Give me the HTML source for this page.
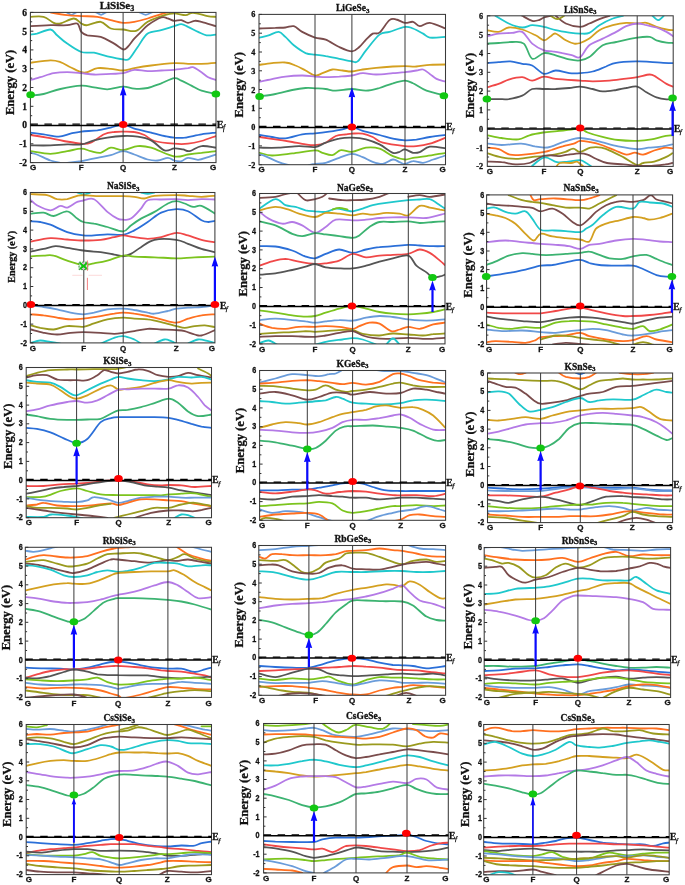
<!DOCTYPE html><html><head><meta charset="utf-8"><style>html,body{margin:0;padding:0;background:#fff;width:685px;height:885px;overflow:hidden}svg{display:block;will-change:transform}text{stroke:#111;stroke-width:0.3px}</style></head><body>
<svg width="685" height="885" viewBox="0 0 685 885">
<rect width="685" height="885" fill="#fff"/>
<clipPath id="cp1"><rect x="30.4" y="12.4" width="185.6" height="150.2"/></clipPath>
<g clip-path="url(#cp1)" fill="none" stroke-width="1.8" stroke-linejoin="round" stroke-linecap="round">
<path stroke="#6a9cda" d="M66.5 12.1C67.3 12.5 69.8 14.8 71.5 14.8C73.2 14.8 75.7 12.5 76.6 12.1"/>
<path stroke="#6a9cda" d="M95.7 12.1C96.6 12.5 99.3 14.8 101.1 14.8C102.9 14.8 105.5 12.5 106.4 12.1"/>
<path stroke="#6a9cda" d="M139 12.1C140.1 12.5 143.5 14.8 145.7 14.8C148 14.8 151.3 12.5 152.4 12.1"/>
<path stroke="#ff7020" d="M50.4 12.4C53.2 12.9 62 14.5 67.2 15.1C72.3 15.7 76.2 15.8 81.3 16.1C86.3 16.4 92.4 16.1 97.4 16.8C102.3 17.5 106.5 19.1 110.8 20.1C115.1 21.2 119.3 22.6 123.2 22.8C127.1 23.1 130.2 22.6 134.3 21.8C138.4 21.1 143.3 19.8 147.7 18.5C152.2 17.2 157.8 15.1 161.2 14.1C164.5 13.1 166.8 12.7 167.9 12.4"/>
<path stroke="#9a9a1e" d="M30.6 16.8C32.7 16.8 39.8 15.8 43.6 16.8C47.5 17.8 50.9 21.7 53.7 22.8C56.5 24 57.1 24.2 60.4 23.5C63.8 22.8 70.4 18.5 73.9 18.5C77.3 18.5 79 22.4 81.3 23.5C83.5 24.6 84.1 25.5 87.3 25.2C90.5 24.9 96.8 21.3 100.7 21.8C104.6 22.4 107.1 27.3 110.8 28.5C114.6 29.8 119 29.2 123.2 29.5C127.4 29.9 131.9 32.2 136 30.9C140.1 29.6 143 24.5 147.7 21.8C152.5 19.2 160.1 16.5 164.5 15.1C168.9 13.7 170.7 13.4 174.3 13.4C177.8 13.4 182.5 15.2 185.7 15.1C188.8 15 189.4 12.6 193.1 12.8C196.7 12.9 203.7 15.4 207.5 16.1C211.3 16.8 214.5 16.7 215.9 16.8"/>
<path stroke="#7a4c4c" d="M30.6 26.2C33.9 26 44.3 25.4 50.4 25.2C56.5 25 62.7 25.5 67.2 25.2C71.6 24.9 74.9 22.4 77.2 23.5C79.6 24.6 79.6 29.9 81.3 31.9C82.9 33.9 84.1 34.4 87.3 35.3C90.5 36.1 96.3 35.5 100.7 36.9C105.2 38.3 110.4 41.6 114.2 43.6C117.9 45.7 121 48.8 123.2 49.4C125.5 49.9 125.7 48.8 127.6 47C129.4 45.2 132.1 41.1 134.3 38.6C136.5 36.1 138.8 34.1 141 31.9C143.3 29.7 144.4 27.6 147.7 25.2C151.1 22.8 157.8 18.6 161.2 17.5C164.5 16.3 165.7 17.9 167.9 18.5C170.1 19 172 20.5 174.3 20.8C176.5 21.1 179 19.8 181.3 20.1C183.6 20.5 185.8 22.7 188 22.8C190.3 22.9 192.5 21 194.7 20.8C197 20.6 197.9 20.9 201.5 21.8C205 22.7 213.5 25.5 215.9 26.2"/>
<path stroke="#1fc8cc" d="M30.6 34.6C31.6 34.4 33.6 34.4 36.9 33.6C40.2 32.7 47 29.3 50.4 29.5C53.7 29.8 54.3 32.9 57.1 35.3C59.9 37.6 63.1 40.9 67.2 43.6C71.2 46.4 76.8 50.5 81.3 52C85.7 53.6 89.6 52 94 52.7C98.4 53.4 102.6 55.3 107.4 56.4C112.3 57.5 119.6 59 123.2 59.4C126.9 59.8 126.9 60.8 129.3 58.8C131.7 56.7 134.6 51.2 137.7 47C140.7 42.8 143.8 36.4 147.7 33.6C151.7 30.8 156.7 31.5 161.2 30.2C165.6 29 170.9 27.2 174.3 26.2C177.6 25.2 179 24.1 181.3 24.2C183.6 24.3 185.2 25.6 188 26.9C190.8 28.1 195 30.5 198.1 31.9C201.2 33.3 203.5 34.8 206.5 35.3C209.5 35.7 214.3 34.7 215.9 34.6"/>
<path stroke="#d4a020" d="M30.6 62.8C33.9 62.4 45.4 60.5 50.4 60.4C55.3 60.3 57.1 61 60.4 62.1C63.8 63.2 67 65.5 70.5 67.2C74 68.8 78.5 71.4 81.3 72.2C84.1 73 84.6 72.9 87.3 72.2C90 71.5 93.5 68.7 97.4 68.2C101.3 67.6 106.5 68.4 110.8 68.8C115.1 69.2 119.3 70.6 123.2 70.5C127.1 70.4 129.7 69 134.3 68.2C139 67.3 144.4 66.3 151.1 65.5C157.8 64.6 168.1 63.4 174.3 63.1C180.4 62.8 183.5 63.7 188 63.8C192.6 63.9 196.8 64 201.5 63.8C206.1 63.6 213.5 63 215.9 62.8"/>
<path stroke="#b47ae6" d="M30.6 79.9C32.2 79.5 36.4 78.3 40.3 77.2C44.2 76.1 49.2 74 53.7 73.2C58.2 72.4 62.6 72.2 67.2 72.2C71.7 72.2 76.8 72.8 81.3 73.2C85.7 73.6 89.1 74.4 94 74.5C98.9 74.7 105.9 74.1 110.8 73.9C115.7 73.6 119.3 73.9 123.2 73.2C127.1 72.5 130.2 70.2 134.3 69.8C138.4 69.5 143.3 71.1 147.7 71.2C152.2 71.3 156.7 70.7 161.2 70.5C165.6 70.3 169.8 70.2 174.3 69.8C178.7 69.4 184.9 68.6 188 68.2C191.2 67.7 190.8 66.5 193.1 67.2C195.3 67.8 198.9 70.5 201.5 72.2C204 73.9 205.8 75.9 208.2 77.2C210.6 78.5 214.6 79.5 215.9 79.9"/>
<path stroke="#3cb371" d="M30.6 95.7C32.7 95.4 38.7 95.1 43.6 94C48.6 92.9 54.2 90.4 60.4 89C66.7 87.6 75.7 85.9 81.3 85.6C86.9 85.3 89.6 86.7 94 87.3C98.4 87.9 102.6 89.4 107.4 89.3C112.3 89.2 118.7 86.7 123.2 86.6C127.7 86.5 130.2 88.4 134.3 88.6C138.4 88.9 143.3 88.9 147.7 88C152.2 87.1 156.7 84.9 161.2 83.3C165.6 81.6 170.9 78.7 174.3 78.2C177.6 77.8 178.5 79.4 181.3 80.6C184.2 81.8 188 83.9 191.4 85.6C194.7 87.3 197.4 89.3 201.5 90.7C205.5 92.1 213.5 93.5 215.9 94"/>
<path stroke="#2b6fd8" d="M30.6 132.6C32.7 132.9 38.9 133.6 43.6 134.3C48.4 135 54.3 136.8 58.8 136.7C63.2 136.5 66.8 134.5 70.5 133.6C74.3 132.8 76.8 132.2 81.3 131.6C85.7 131.1 92.4 130.9 97.4 130.3C102.3 129.6 106.5 128.5 110.8 127.6C115.1 126.6 119.3 124.4 123.2 124.6C127.1 124.7 129.7 127.3 134.3 128.6C139 129.9 146.1 131.4 151.1 132.6C156.1 133.9 160.7 135.1 164.5 136C168.4 136.8 170.9 137.4 174.3 137.7C177.6 137.9 180.1 138.2 184.7 137.7C189.2 137.1 196.3 135.1 201.5 134.3C206.7 133.5 213.5 132.9 215.9 132.6"/>
<path stroke="#f04848" d="M30.6 135C33.3 135.4 41.5 136.7 47 137.7C52.5 138.7 58.1 140 63.8 141C69.5 142 76.8 143.4 81.3 143.7C85.7 144 86.9 144.3 90.7 142.7C94.5 141.1 100.2 136.1 104.1 134.3C108 132.5 111 132.4 114.2 132C117.4 131.5 119.9 131.6 123.2 131.6C126.6 131.6 130.8 131.4 134.3 132C137.8 132.5 141 133.5 144.4 135C147.7 136.5 149.5 139.6 154.5 141C159.4 142.5 168.7 143.3 174.3 143.7C179.9 144.2 183.5 144.2 188 143.7C192.6 143.3 196.8 142.3 201.5 141C206.1 139.7 213.5 136.8 215.9 136"/>
<path stroke="#555555" d="M30.6 145.4C33.9 145.4 44.3 145.6 50.4 145.4C56.5 145.2 62 144.5 67.2 144.4C72.3 144.2 76.8 145.1 81.3 144.4C85.7 143.7 89.6 141.5 94 140.4C98.4 139.2 102.6 138.4 107.4 137.7C112.3 136.9 118.2 136.2 123.2 136C128.3 135.8 133 135.9 137.7 136.7C142.3 137.4 146.6 138.1 151.1 140.4C155.6 142.6 160.7 149.1 164.5 150.4C168.4 151.8 171.2 148.6 174.3 148.4C177.3 148.2 180.4 149 183 149.4C185.6 149.9 186.6 151.7 189.7 151.1C192.8 150.5 197.1 146.6 201.5 146.1C205.8 145.5 213.5 147.5 215.9 147.7"/>
<path stroke="#7cc41e" d="M30.6 151.1C33.9 151.5 44.3 153.8 50.4 153.8C56.5 153.8 62 151.9 67.2 151.1C72.3 150.3 77.3 148.7 81.3 148.7C85.2 148.7 87.4 150.4 90.7 151.1C93.9 151.8 97.4 153.3 100.7 152.8C104.1 152.2 107.1 148.2 110.8 147.7C114.6 147.3 118.7 150.4 123.2 150.1C127.7 149.8 133 146.5 137.7 146.1C142.3 145.7 145 146 151.1 147.7C157.2 149.5 168.1 155.3 174.3 156.5C180.4 157.6 183.5 155.1 188 154.5C192.6 153.8 196.8 153.3 201.5 152.8C206.1 152.2 213.5 151.4 215.9 151.1"/>
<path stroke="#6a9cda" d="M30.6 152.8C31.6 153.1 33.6 153.2 36.9 154.5C40.2 155.7 46.4 159.1 50.4 160.5C54.3 161.9 58.8 162.5 60.4 162.8"/>
<path stroke="#6a9cda" d="M67.2 162.8C69.5 162.6 76.2 162 81.3 161.2C86.3 160.3 92.4 158.8 97.4 157.8C102.3 156.8 106.5 156.2 110.8 155.1C115.1 154 119.3 151.2 123.2 151.1C127.1 151 130.2 153.1 134.3 154.5C138.4 155.9 143.8 158.5 147.7 159.5C151.7 160.5 154.5 160.8 157.8 160.5C161.2 160.2 165.1 157.8 167.9 157.8C170.6 157.8 172 159.9 174.3 160.5C176.5 161.1 179 161.6 181.3 161.2C183.6 160.7 185.2 158 188 157.8C190.8 157.6 194.7 159.9 198.1 159.8C201.5 159.7 205.2 158 208.2 157.1C211.1 156.2 214.6 154.9 215.9 154.5"/>
</g>
<line x1="81.2" y1="12.4" x2="81.2" y2="162.6" stroke="#3a3a3a" stroke-width="1"/>
<line x1="123.1" y1="12.4" x2="123.1" y2="162.6" stroke="#3a3a3a" stroke-width="1"/>
<line x1="174.5" y1="12.4" x2="174.5" y2="162.6" stroke="#3a3a3a" stroke-width="1"/>
<rect x="30.4" y="12.4" width="185.6" height="150.2" fill="none" stroke="#3a3a3a" stroke-width="1.05"/>
<line x1="30.4" y1="162.6" x2="33.4" y2="162.6" stroke="#333" stroke-width="1"/>
<line x1="30.4" y1="153.2" x2="32.2" y2="153.2" stroke="#333" stroke-width="1"/>
<line x1="30.4" y1="143.8" x2="33.4" y2="143.8" stroke="#333" stroke-width="1"/>
<line x1="30.4" y1="134.4" x2="32.2" y2="134.4" stroke="#333" stroke-width="1"/>
<line x1="30.4" y1="125" x2="33.4" y2="125" stroke="#333" stroke-width="1"/>
<line x1="30.4" y1="115.7" x2="32.2" y2="115.7" stroke="#333" stroke-width="1"/>
<line x1="30.4" y1="106.3" x2="33.4" y2="106.3" stroke="#333" stroke-width="1"/>
<line x1="30.4" y1="96.9" x2="32.2" y2="96.9" stroke="#333" stroke-width="1"/>
<line x1="30.4" y1="87.5" x2="33.4" y2="87.5" stroke="#333" stroke-width="1"/>
<line x1="30.4" y1="78.1" x2="32.2" y2="78.1" stroke="#333" stroke-width="1"/>
<line x1="30.4" y1="68.7" x2="33.4" y2="68.7" stroke="#333" stroke-width="1"/>
<line x1="30.4" y1="59.3" x2="32.2" y2="59.3" stroke="#333" stroke-width="1"/>
<line x1="30.4" y1="49.9" x2="33.4" y2="49.9" stroke="#333" stroke-width="1"/>
<line x1="30.4" y1="40.6" x2="32.2" y2="40.6" stroke="#333" stroke-width="1"/>
<line x1="30.4" y1="31.2" x2="33.4" y2="31.2" stroke="#333" stroke-width="1"/>
<line x1="30.4" y1="21.8" x2="32.2" y2="21.8" stroke="#333" stroke-width="1"/>
<line x1="30.4" y1="12.4" x2="33.4" y2="12.4" stroke="#333" stroke-width="1"/>
<line x1="30.4" y1="125.5" x2="216" y2="125.5" stroke="#000" stroke-width="1.7"/>
<line x1="30.4" y1="124.1" x2="216" y2="124.1" stroke="#000" stroke-width="1.3" stroke-dasharray="7.5 6.5"/>
<line x1="123.2" y1="124.6" x2="123.2" y2="94.6" stroke="#0a0aff" stroke-width="2.2"/>
<path d="M123.2 85.6 L119.9 95.6 L123.2 95 L126.5 95.6 Z" fill="#0a0aff"/>
<ellipse cx="30.6" cy="94.7" rx="4.3" ry="3.5" fill="#11c811"/>
<ellipse cx="215.9" cy="94" rx="4.3" ry="3.5" fill="#11c811"/>
<ellipse cx="123.2" cy="124.6" rx="4.3" ry="3.5" fill="#f00"/>
<text x="117" y="8.5" font-family="Liberation Serif" font-weight="bold" font-size="11" text-anchor="middle" fill="#111">LiSiSe<tspan font-size="8.1" dy="2">3</tspan></text>
<text transform="translate(13.8 82.4) rotate(-90)" font-family="Liberation Serif" font-weight="bold" font-size="12.6" text-anchor="middle" fill="#111">Energy (eV)</text>
<text transform="translate(27.1 165.9) scale(1 1)" font-family="Liberation Serif" font-weight="bold" font-size="9.5" text-anchor="end" fill="#111">-2</text>
<text transform="translate(27.1 147.1) scale(1 1)" font-family="Liberation Serif" font-weight="bold" font-size="9.5" text-anchor="end" fill="#111">-1</text>
<text transform="translate(27.1 128.3) scale(1 1)" font-family="Liberation Serif" font-weight="bold" font-size="9.5" text-anchor="end" fill="#111">0</text>
<text transform="translate(27.1 109.6) scale(1 1)" font-family="Liberation Serif" font-weight="bold" font-size="9.5" text-anchor="end" fill="#111">1</text>
<text transform="translate(27.1 90.8) scale(1 1)" font-family="Liberation Serif" font-weight="bold" font-size="9.5" text-anchor="end" fill="#111">2</text>
<text transform="translate(27.1 72) scale(1 1)" font-family="Liberation Serif" font-weight="bold" font-size="9.5" text-anchor="end" fill="#111">3</text>
<text transform="translate(27.1 53.2) scale(1 1)" font-family="Liberation Serif" font-weight="bold" font-size="9.5" text-anchor="end" fill="#111">4</text>
<text transform="translate(27.1 34.5) scale(1 1)" font-family="Liberation Serif" font-weight="bold" font-size="9.5" text-anchor="end" fill="#111">5</text>
<text transform="translate(27.1 15.7) scale(1 1)" font-family="Liberation Serif" font-weight="bold" font-size="9.5" text-anchor="end" fill="#111">6</text>
<text x="33" y="170.3" font-family="Liberation Sans" font-weight="bold" font-size="8" text-anchor="middle" fill="#111">G</text>
<text x="81.2" y="170.3" font-family="Liberation Sans" font-weight="bold" font-size="8" text-anchor="middle" fill="#111">F</text>
<text x="123.1" y="170.3" font-family="Liberation Sans" font-weight="bold" font-size="8" text-anchor="middle" fill="#111">Q</text>
<text x="174.5" y="170.3" font-family="Liberation Sans" font-weight="bold" font-size="8" text-anchor="middle" fill="#111">Z</text>
<text x="213" y="170.3" font-family="Liberation Sans" font-weight="bold" font-size="8" text-anchor="middle" fill="#111">G</text>
<text x="216.7" y="128.2" font-family="Liberation Serif" font-weight="bold" font-size="10" fill="#111">E<tspan dx="-0.4" font-weight="normal" font-style="italic" font-size="7.4" dy="2.2">f</tspan></text>
<clipPath id="cp2"><rect x="259" y="14.4" width="186.5" height="150.3"/></clipPath>
<g clip-path="url(#cp2)" fill="none" stroke-width="1.8" stroke-linejoin="round" stroke-linecap="round">
<path stroke="#7a4c4c" d="M259.6 28.5C262.2 28.4 271.1 28 275.4 27.9C279.7 27.7 282.4 27.8 285.4 27.5C288.5 27.3 291 25.5 293.8 26.2C296.6 26.9 298.7 30 302.2 31.9C305.8 33.8 311.1 36.3 315 37.6C318.9 38.9 321.7 38.1 325.7 39.6C329.8 41.2 334.8 45 339.2 47C343.5 49 348.6 51.4 351.9 51.4C355.3 51.4 357 49 359.3 47C361.7 45 363.8 41.9 366 39.6C368.3 37.4 370.5 34.8 372.7 33.6C375 32.4 376.7 34.8 379.5 32.6C382.3 30.3 386.7 22.3 389.5 20.1C392.3 18 393.7 19 396.2 19.5C398.8 19.9 402.2 22.4 405 22.8C407.8 23.2 410.6 21.3 413 21.8C415.5 22.4 416.9 26 419.7 26.2C422.5 26.4 425.5 22.4 429.8 22.8C434.1 23.2 443 27.6 445.6 28.5"/>
<path stroke="#1fc8cc" d="M259.6 37.6C261.1 37.2 265.5 36.2 268.6 35.3C271.8 34.3 275.9 31.6 278.7 31.9C281.5 32.2 282.9 34.7 285.4 36.9C288 39.2 290.5 42.6 293.8 45.3C297.2 48 302.1 51.5 305.6 53.1C309.1 54.6 311.6 54.2 315 54.7C318.3 55.2 321.7 55.4 325.7 56.1C329.8 56.7 334.8 57.9 339.2 58.8C343.5 59.7 348.8 61 351.9 61.4C355 61.9 355.3 63.3 357.6 61.4C360 59.6 362.4 54.8 366 50.4C369.7 45.9 375.5 37.7 379.5 34.6C383.4 31.5 385.3 33.2 389.5 31.9C393.8 30.6 401.1 27.4 405 26.9C408.9 26.3 410 27.4 413 28.5C416.1 29.7 420.3 32.1 423.1 33.6C425.9 35.1 426.1 37 429.8 37.6C433.6 38.2 443 37 445.6 36.9"/>
<path stroke="#d4a020" d="M259.6 64.8C261.7 64.5 267.7 63.5 272 63.1C276.3 62.7 281.5 62.1 285.4 62.5C289.4 62.8 292.2 64.1 295.5 65.5C298.9 66.8 302.3 68.8 305.6 70.5C308.8 72.2 312.2 75.1 315 75.5C317.8 76 319.5 74.2 322.4 73.2C325.3 72.2 329.1 70 332.4 69.5C335.8 69.1 339.3 70.2 342.5 70.5C345.8 70.8 348.6 71.7 351.9 71.5C355.3 71.4 358.6 70.1 362.7 69.5C366.7 68.9 371.1 68.3 376.1 67.8C381.1 67.3 388.1 66.8 392.9 66.5C397.7 66.2 401.1 66.1 405 66.1C408.9 66.1 412.2 66.7 416.4 66.5C420.5 66.3 424.9 65.1 429.8 64.8C434.7 64.5 443 64.5 445.6 64.5"/>
<path stroke="#b47ae6" d="M259.6 81.6C261.7 81.2 267.7 80.1 272 79.2C276.3 78.4 280.4 77.2 285.4 76.6C290.5 75.9 297.3 75.5 302.2 75.5C307.2 75.5 311.1 76.3 315 76.6C318.9 76.8 321.7 77.2 325.7 77.2C329.8 77.2 334.8 76.8 339.2 76.6C343.5 76.3 348 76.1 351.9 75.5C355.8 75 358.6 73.4 362.7 73.2C366.7 73 371.1 74.5 376.1 74.5C381.1 74.5 388.1 73.6 392.9 73.2C397.7 72.8 401.1 72.6 405 72.2C408.9 71.7 413.4 71 416.4 70.5C419.4 70.1 420.9 68.9 423.1 69.5C425.3 70.1 427.6 72.3 429.8 73.9C432.1 75.4 433.9 77.6 436.5 78.9C439.2 80.2 444.1 81.1 445.6 81.6"/>
<path stroke="#3cb371" d="M259.6 96.4C262.2 96 269.9 95.1 275.4 94C280.8 93 287.1 91 292.2 90C297.2 89 301.8 88.3 305.6 88C309.4 87.7 311.6 88.1 315 88.3C318.3 88.5 322.3 88.6 325.7 89C329.2 89.4 331.4 90.7 335.8 90.7C340.2 90.7 346.9 89 351.9 89C357 89 361.4 90.8 366 90.7C370.6 90.5 375 89.2 379.5 88C383.9 86.7 388.6 84.5 392.9 83.3C397.1 82 401.6 80.6 405 80.6C408.3 80.6 409.4 81.6 413 83.3C416.6 84.9 421 88.6 426.5 90.7C431.9 92.7 442.4 94.9 445.6 95.7"/>
<path stroke="#2b6fd8" d="M259.6 135C261.7 135.3 267.7 136.4 272 137C276.3 137.6 280.4 138.8 285.4 138.3C290.5 137.9 297.3 135.1 302.2 134.3C307.2 133.5 310.5 133.7 315 133.3C319.5 132.9 324.5 132.3 329.1 131.6C333.7 130.9 338.7 130.1 342.5 129.3C346.3 128.5 348.6 126.6 351.9 126.9C355.3 127.2 358.1 129.6 362.7 130.9C367.3 132.3 374.4 133.7 379.5 135C384.5 136.3 388.6 137.8 392.9 138.7C397.1 139.6 401.1 140.2 405 140.4C408.9 140.5 412.2 140.2 416.4 139.7C420.5 139.1 424.9 137.8 429.8 137C434.7 136.2 443 135.3 445.6 135"/>
<path stroke="#f04848" d="M259.6 137C262.2 137.4 269.9 138.5 275.4 139.3C280.8 140.2 287.1 141.2 292.2 142C297.2 142.9 301.8 143.9 305.6 144.4C309.4 144.9 311.6 145.3 315 145.1C318.3 144.8 322.3 144.2 325.7 142.7C329.2 141.2 332.4 137.4 335.8 136C339.2 134.6 343.2 134.7 345.9 134.3C348.6 133.9 349.1 133.7 351.9 133.6C354.7 133.5 359.2 133.1 362.7 133.6C366.1 134.2 369.4 135.5 372.7 137C376.1 138.5 377.4 141.2 382.8 142.7C388.2 144.2 399.4 145.5 405 146.1C410.6 146.6 412.2 146.5 416.4 146.1C420.5 145.7 424.9 145.1 429.8 143.7C434.7 142.3 443 138.7 445.6 137.7"/>
<path stroke="#555555" d="M259.6 147.7C262.8 147.7 272.2 148 278.7 147.7C285.3 147.5 292.8 146.2 298.9 146.1C304.9 145.9 310.5 147.6 315 147.1C319.5 146.5 321.7 144.1 325.7 142.7C329.8 141.3 334.8 139.5 339.2 138.7C343.5 137.8 347.4 137.6 351.9 137.7C356.4 137.8 361.4 138.2 366 139.3C370.6 140.5 375 142.1 379.5 144.4C383.9 146.6 389.5 151.5 392.9 152.8C396.2 154 397.6 152.3 399.6 151.8C401.6 151.2 402.7 149.2 405 149.4C407.2 149.6 410.6 152.3 413 152.8C415.5 153.2 416.9 153.1 419.7 152.1C422.5 151.1 425.5 147.3 429.8 146.7C434.1 146.1 443 148.1 445.6 148.4"/>
<path stroke="#7cc41e" d="M259.6 152.8C261.7 153.2 266.6 155.3 272 155.5C277.4 155.6 285 154.3 292.2 153.4C299.3 152.6 309.9 150.5 315 150.4C320 150.3 319.5 152 322.4 152.8C325.3 153.6 329.4 155.6 332.4 155.1C335.5 154.7 337.6 150.6 340.8 150.1C344.1 149.5 347.7 152.2 351.9 151.8C356.1 151.4 361.4 148.2 366 147.7C370.6 147.2 375 147.3 379.5 148.7C383.9 150.1 388.6 154.3 392.9 156.1C397.1 157.9 401.6 159.2 405 159.5C408.3 159.8 409.4 158.4 413 157.8C416.6 157.3 421 157 426.5 156.1C431.9 155.3 442.4 153.3 445.6 152.8"/>
<path stroke="#6a9cda" d="M259.6 154.5C260.5 154.7 262.1 154.8 265.3 156.1C268.5 157.4 274.8 160.7 278.7 162.2C282.6 163.7 287.1 164.7 288.8 165.2"/>
<path stroke="#6a9cda" d="M308.9 165.2C309.9 165 312.2 164.2 315 163.9C317.8 163.5 321.7 163.9 325.7 162.8C329.8 161.8 334.8 159.3 339.2 157.8C343.5 156.3 348 153.9 351.9 153.8C355.8 153.7 359.2 155.8 362.7 157.1C366.1 158.5 369.4 160.7 372.7 161.8C376.1 163 379.5 164.2 382.8 163.9C386.2 163.5 390.1 159.8 392.9 159.5C395.7 159.2 397.6 161.4 399.6 162.2C401.6 162.9 402.7 164 405 163.9C407.2 163.7 410 161.3 413 161.2C416.1 161 419.7 163.1 423.1 162.8C426.5 162.6 429.4 160.7 433.2 159.5C436.9 158.3 443.5 156.1 445.6 155.5"/>
</g>
<line x1="315" y1="14.4" x2="315" y2="164.7" stroke="#3a3a3a" stroke-width="1"/>
<line x1="351.9" y1="14.4" x2="351.9" y2="164.7" stroke="#3a3a3a" stroke-width="1"/>
<line x1="405" y1="14.4" x2="405" y2="164.7" stroke="#3a3a3a" stroke-width="1"/>
<rect x="259" y="14.4" width="186.5" height="150.3" fill="none" stroke="#3a3a3a" stroke-width="1.05"/>
<line x1="259" y1="164.7" x2="262" y2="164.7" stroke="#333" stroke-width="1"/>
<line x1="259" y1="155.3" x2="260.8" y2="155.3" stroke="#333" stroke-width="1"/>
<line x1="259" y1="145.9" x2="262" y2="145.9" stroke="#333" stroke-width="1"/>
<line x1="259" y1="136.5" x2="260.8" y2="136.5" stroke="#333" stroke-width="1"/>
<line x1="259" y1="127.1" x2="262" y2="127.1" stroke="#333" stroke-width="1"/>
<line x1="259" y1="117.7" x2="260.8" y2="117.7" stroke="#333" stroke-width="1"/>
<line x1="259" y1="108.3" x2="262" y2="108.3" stroke="#333" stroke-width="1"/>
<line x1="259" y1="98.9" x2="260.8" y2="98.9" stroke="#333" stroke-width="1"/>
<line x1="259" y1="89.5" x2="262" y2="89.5" stroke="#333" stroke-width="1"/>
<line x1="259" y1="80.2" x2="260.8" y2="80.2" stroke="#333" stroke-width="1"/>
<line x1="259" y1="70.8" x2="262" y2="70.8" stroke="#333" stroke-width="1"/>
<line x1="259" y1="61.4" x2="260.8" y2="61.4" stroke="#333" stroke-width="1"/>
<line x1="259" y1="52" x2="262" y2="52" stroke="#333" stroke-width="1"/>
<line x1="259" y1="42.6" x2="260.8" y2="42.6" stroke="#333" stroke-width="1"/>
<line x1="259" y1="33.2" x2="262" y2="33.2" stroke="#333" stroke-width="1"/>
<line x1="259" y1="23.8" x2="260.8" y2="23.8" stroke="#333" stroke-width="1"/>
<line x1="259" y1="14.4" x2="262" y2="14.4" stroke="#333" stroke-width="1"/>
<line x1="259" y1="127.4" x2="445.5" y2="127.4" stroke="#000" stroke-width="1.5"/>
<line x1="259" y1="126.4" x2="445.5" y2="126.4" stroke="#000" stroke-width="1.2" stroke-dasharray="7.5 6.5"/>
<line x1="351.9" y1="126.9" x2="351.9" y2="96.3" stroke="#0a0aff" stroke-width="2.2"/>
<path d="M351.9 87.3 L348.6 97.3 L351.9 96.7 L355.2 97.3 Z" fill="#0a0aff"/>
<ellipse cx="259.6" cy="96.4" rx="4.3" ry="3.5" fill="#11c811"/>
<ellipse cx="443.9" cy="95.7" rx="4.3" ry="3.5" fill="#11c811"/>
<ellipse cx="351.9" cy="126.9" rx="4.3" ry="3.5" fill="#f00"/>
<text x="352.8" y="11.3" font-family="Liberation Serif" font-weight="bold" font-size="9.5" text-anchor="middle" fill="#111">LiGeSe<tspan font-size="7" dy="1.7">3</tspan></text>
<text transform="translate(242.9 84.7) rotate(-90)" font-family="Liberation Serif" font-weight="bold" font-size="12.6" text-anchor="middle" fill="#111">Energy (eV)</text>
<text transform="translate(255.4 167.6) scale(1 1)" font-family="Liberation Serif" font-weight="bold" font-size="8.2" text-anchor="end" fill="#111">-2</text>
<text transform="translate(255.4 148.8) scale(1 1)" font-family="Liberation Serif" font-weight="bold" font-size="8.2" text-anchor="end" fill="#111">-1</text>
<text transform="translate(255.4 130) scale(1 1)" font-family="Liberation Serif" font-weight="bold" font-size="8.2" text-anchor="end" fill="#111">0</text>
<text transform="translate(255.4 111.2) scale(1 1)" font-family="Liberation Serif" font-weight="bold" font-size="8.2" text-anchor="end" fill="#111">1</text>
<text transform="translate(255.4 92.5) scale(1 1)" font-family="Liberation Serif" font-weight="bold" font-size="8.2" text-anchor="end" fill="#111">2</text>
<text transform="translate(255.4 73.7) scale(1 1)" font-family="Liberation Serif" font-weight="bold" font-size="8.2" text-anchor="end" fill="#111">3</text>
<text transform="translate(255.4 54.9) scale(1 1)" font-family="Liberation Serif" font-weight="bold" font-size="8.2" text-anchor="end" fill="#111">4</text>
<text transform="translate(255.4 36.1) scale(1 1)" font-family="Liberation Serif" font-weight="bold" font-size="8.2" text-anchor="end" fill="#111">5</text>
<text transform="translate(255.4 17.3) scale(1 1)" font-family="Liberation Serif" font-weight="bold" font-size="8.2" text-anchor="end" fill="#111">6</text>
<text x="261.6" y="172.3" font-family="Liberation Sans" font-weight="bold" font-size="8" text-anchor="middle" fill="#111">G</text>
<text x="315" y="172.3" font-family="Liberation Sans" font-weight="bold" font-size="8" text-anchor="middle" fill="#111">F</text>
<text x="351.9" y="172.3" font-family="Liberation Sans" font-weight="bold" font-size="8" text-anchor="middle" fill="#111">Q</text>
<text x="405" y="172.3" font-family="Liberation Sans" font-weight="bold" font-size="8" text-anchor="middle" fill="#111">Z</text>
<text x="442.5" y="172.3" font-family="Liberation Sans" font-weight="bold" font-size="8" text-anchor="middle" fill="#111">G</text>
<text x="446.2" y="130.3" font-family="Liberation Serif" font-weight="bold" font-size="9.5" fill="#111">E<tspan dx="-0.4" font-weight="normal" font-style="italic" font-size="7" dy="2.2">f</tspan></text>
<clipPath id="cp3"><rect x="487.3" y="15.8" width="185.9" height="150.6"/></clipPath>
<g clip-path="url(#cp3)" fill="none" stroke-width="1.8" stroke-linejoin="round" stroke-linecap="round">
<path stroke="#1fc8cc" d="M495.3 15.8C497.5 17.1 504.2 21.5 508.7 23.5C513.2 25.5 518.2 27.3 522.2 27.5C526.1 27.8 528.6 25.3 532.2 25.2C535.9 25.1 540.1 26 544 26.9C547.9 27.7 551.5 29.3 555.7 30.2C559.9 31.2 565.1 32 569.2 32.6C573.2 33.1 576.9 33.5 580.2 33.6C583.6 33.6 586.1 34.3 589.3 32.9C592.5 31.5 595.5 27.6 599.4 25.2C603.3 22.8 608.9 20 612.8 18.5C616.7 16.9 621.2 16.2 622.9 15.8"/>
<path stroke="#1fc8cc" d="M652.4 15.8C653.4 16.5 656.2 20.1 658.1 20.1C660 20.1 662.9 16.5 663.8 15.8"/>
<path stroke="#7a4c4c" d="M522.2 15.8C523.8 16.6 529.4 20.1 532.2 20.8C535 21.5 537 20.7 538.9 20.1C540.9 19.6 542 18.2 544 17.5C545.9 16.7 549.6 16.1 550.7 15.8"/>
<path stroke="#7a4c4c" d="M555.7 15.8C557.4 17.1 561.7 21.7 565.8 23.5C569.9 25.4 576.3 26.9 580.2 26.9C584.2 26.9 586.1 24.8 589.3 23.5C592.5 22.2 596 20.4 599.4 19.1C602.7 17.9 607.8 16.3 609.5 15.8"/>
<path stroke="#9a9a1e" d="M550.7 15.8C551.8 16.3 555.2 19.1 557.4 19.1C559.6 19.1 563 16.3 564.1 15.8"/>
<path stroke="#d4a020" d="M486.9 30.2C488.9 30.5 495 32.3 498.6 31.9C502.3 31.5 504.8 27.9 508.7 27.5C512.6 27.1 517.7 28.3 522.2 29.5C526.6 30.8 531.9 33.5 535.6 35.3C539.2 37 541.5 40.1 544 40.3C546.5 40.5 548.7 37.4 550.7 36.3C552.7 35.1 553.2 32.9 555.7 33.6C558.2 34.2 562.7 38.6 565.8 40.3C568.9 42 571.8 43.2 574.2 43.6C576.6 44.1 577.7 43.8 580.2 43C582.8 42.1 586.1 40.7 589.3 38.6C592.5 36.5 595.5 32.5 599.4 30.2C603.3 28 608.3 26.4 612.8 25.2C617.3 24 622.2 23.1 626.2 22.8C630.3 22.6 634 23.5 637.3 23.5C640.7 23.5 643.2 22.3 646.4 22.8C649.6 23.4 653.1 25.7 656.5 26.9C659.8 28 663.7 29 666.5 29.5C669.3 30.1 672.1 30.1 673.2 30.2"/>
<path stroke="#b47ae6" d="M486.9 36.3C488.9 35.8 494.5 34.1 498.6 33.6C502.8 33 508.2 33.2 512.1 32.9C516 32.6 518.8 30.1 522.2 31.9C525.5 33.7 528.6 40.6 532.2 43.6C535.9 46.7 540.6 49.1 544 50.4C547.3 51.7 549.3 50.9 552.4 51.4C555.5 51.8 559.1 52.4 562.4 53.1C565.8 53.7 569.6 54.7 572.5 55.4C575.5 56.1 577.4 58.8 580.2 57.1C583 55.4 585.6 48.4 589.3 45.3C593.1 42.3 598.3 40.9 602.7 38.6C607.2 36.4 612.3 34 616.2 31.9C620.1 29.8 622.7 27.6 626.2 26.2C629.8 24.8 634 23.7 637.3 23.5C640.7 23.3 643.2 24.5 646.4 25.2C649.6 25.9 653.1 26.4 656.5 27.5C659.8 28.7 663.7 30.4 666.5 31.9C669.3 33.4 672.1 35.5 673.2 36.3"/>
<path stroke="#3cb371" d="M486.9 43.6C488.9 43.5 494.5 43.3 498.6 43C502.8 42.7 507.9 41.9 512.1 42C516.3 42.1 520.5 40.9 523.8 43.6C527.2 46.4 528.9 57.2 532.2 58.8C535.6 60.3 540.1 53.6 544 53.1C547.9 52.5 551.5 54.3 555.7 55.4C559.9 56.5 565.1 58.6 569.2 59.4C573.2 60.3 576.9 60.8 580.2 60.4C583.6 60 585.6 59.6 589.3 57.1C593.1 54.6 598.3 47.8 602.7 45.3C607.2 42.8 610.4 43.3 616.2 42C621.9 40.7 631.7 38.4 637.3 37.6C642.9 36.8 646.6 36.5 649.7 36.9C652.9 37.4 653.7 39.3 656.5 40.3C659.3 41.2 663.7 42.2 666.5 42.6C669.3 43.1 672.1 42.9 673.2 43"/>
<path stroke="#2b6fd8" d="M486.9 63.1C488.9 63 494.7 62.4 498.6 62.1C502.6 61.8 506.5 61.2 510.4 61.4C514.3 61.7 518.5 63.1 522.2 63.8C525.8 64.5 528.6 63.8 532.2 65.5C535.9 67.2 540.1 73 544 73.9C547.9 74.7 551.5 70.6 555.7 70.5C559.9 70.4 565.1 72.7 569.2 73.2C573.2 73.6 576.3 73.5 580.2 73.2C584.2 72.9 588.4 72.6 592.7 71.5C597 70.4 602.2 67.9 606.1 66.5C610 65 611 63.6 616.2 62.8C621.4 61.9 631.7 61.6 637.3 61.4C642.9 61.3 645.4 61.6 649.7 61.8C654.1 62 659.3 62.6 663.2 62.8C667.1 63 671.6 63.1 673.2 63.1"/>
<path stroke="#f04848" d="M486.9 87.3C488.9 86.7 495 85.2 498.6 83.9C502.3 82.7 504.8 80.7 508.7 79.6C512.6 78.5 518.2 77.1 522.2 77.2C526.1 77.4 528.6 80.7 532.2 80.6C535.9 80.5 540.1 76.8 544 76.6C547.9 76.3 549.7 78.2 555.7 78.9C561.8 79.6 574.1 80.2 580.2 80.6C586.4 81 587.8 81.3 592.7 81.3C597.5 81.3 603.9 81 609.5 80.6C615 80.1 621.6 79.1 626.2 78.6C630.9 78 633.4 77.9 637.3 77.2C641.2 76.6 646.6 74.5 649.7 74.5C652.9 74.5 653.7 75.7 656.5 77.2C659.3 78.8 663.7 82.4 666.5 83.9C669.3 85.5 672.1 86.2 673.2 86.6"/>
<path stroke="#555555" d="M486.9 99.1C488.9 99.1 495 99.1 498.6 99.1C502.3 99.1 504.8 99.6 508.7 99.1C512.6 98.5 518.2 97.4 522.2 95.7C526.1 94 528.6 90.1 532.2 89C535.9 87.9 540.1 89 544 89C547.9 89 551.5 89.1 555.7 89C559.9 88.8 565.1 88.4 569.2 88C573.2 87.6 576.3 86.5 580.2 86.6C584.2 86.8 588.9 88.2 592.7 89C596.4 89.8 598.8 91.2 602.7 91.3C606.7 91.5 612.3 90.5 616.2 90C620.1 89.4 622.7 88.5 626.2 88C629.8 87.4 634 85.9 637.3 86.6C640.7 87.4 643.2 90.5 646.4 92.3C649.6 94.1 653.1 96.2 656.5 97.4C659.8 98.5 663.7 99.1 666.5 99.4C669.3 99.7 672.1 99.1 673.2 99.1"/>
<path stroke="#7cc41e" d="M487.8 135.3C490.1 135.7 496.6 137.3 501.6 138C506.7 138.7 513.7 139.9 518.3 139.4C522.9 139 525.2 136.4 529.4 135.3C533.5 134.1 538.6 133.2 543.2 132.5C547.9 131.8 552.5 131.6 557.1 131.1C561.7 130.6 567.1 130.2 571 129.7C574.8 129.2 577.4 127.9 580.1 128.3C582.9 128.8 584.1 131.1 587.6 132.5C591.2 133.9 596.4 135.4 601.5 136.6C606.6 137.9 612.1 139.3 618.1 140C624.1 140.7 632 140.9 637.6 140.8C643.1 140.7 647.3 140.1 651.4 139.4C655.6 138.7 659.1 137.3 662.5 136.6C666 135.9 670.6 135.5 672.2 135.3"/>
<path stroke="#6a9cda" d="M487.8 143.6C490.1 143.8 496.1 145 501.6 145C507.2 145 515.5 143.3 521.1 143.6C526.6 143.8 531 145.7 534.9 146.4C538.9 147 541.9 147.7 544.6 147.7C547.4 147.7 548.6 147.3 551.6 146.4C554.6 145.4 559 143.4 562.7 142.2C566.4 140.9 570.8 139.6 573.8 138.9C576.7 138.2 577.4 137.9 580.1 138C582.9 138.1 586.8 138.7 590.4 139.4C594 140.1 596.9 141 601.5 142.2C606.1 143.3 612.1 145.2 618.1 146.4C624.1 147.5 632.5 148.9 637.6 149.1C642.6 149.4 644.5 148.2 648.6 147.7C652.8 147.3 658.6 146.9 662.5 146.4C666.4 145.8 670.6 144.7 672.2 144.4"/>
<path stroke="#ff7020" d="M487.8 147.7C489.6 148 495.2 148 498.9 149.1C502.6 150.3 505.8 153.7 510 154.7C514.1 155.6 518.1 155.1 523.8 154.7C529.6 154.2 540 152.7 544.6 151.9C549.3 151.1 548.6 150.9 551.6 150C554.6 149 559 147.4 562.7 146.4C566.4 145.3 570.8 144.5 573.8 143.6C576.7 142.7 577.4 141 580.1 140.8C582.9 140.6 586.8 141.5 590.4 142.2C594 142.9 597.3 143.6 601.5 145C605.7 146.4 611.2 148.9 615.4 150.5C619.5 152.1 623.2 154.3 626.5 154.7C629.7 155 632 152.7 634.8 152.7C637.6 152.7 639.9 155 643.1 154.7C646.3 154.3 650.5 151.7 654.2 150.5C657.9 149.4 662.3 148.1 665.3 147.7C668.3 147.4 671.1 148.2 672.2 148.3"/>
<path stroke="#9a9a1e" d="M487.8 153.3C490.1 154 496.6 156.5 501.6 157.4C506.7 158.4 512.7 159 518.3 158.8C523.8 158.7 530.5 157.1 534.9 156.6C539.3 156.2 541.4 156.4 544.6 156.1C547.9 155.7 550.9 155.4 554.3 154.7C557.8 154 562.3 152.9 565.4 151.9C568.6 150.9 570.8 148.6 573.2 148.6C575.7 148.6 577.3 152 580.1 151.9C583 151.8 586.8 148.4 590.4 147.7C594 147 597.8 147 601.5 147.7C605.2 148.4 608.9 150.3 612.6 151.9C616.3 153.5 619.6 155.3 623.7 157.4C627.8 159.6 633.8 164 637 164.9C640.2 165.9 640.2 163.5 643.1 163C646 162.4 650.5 162.5 654.2 161.6C657.9 160.7 662.3 158.8 665.3 157.4C668.3 156.1 671.1 154 672.2 153.3"/>
<path stroke="#7a4c4c" d="M487.8 161.6C490.1 161.7 497 161.7 501.6 162.2C506.3 162.6 510.9 164.2 515.5 164.4C520.1 164.5 524.8 164.4 529.4 163C534 161.6 539.3 157.3 543.2 156.1C547.2 154.8 550.2 155.5 553 155.5C555.7 155.5 557.3 156.2 559.9 156.1C562.4 155.9 564.8 155.1 568.2 154.7C571.6 154.2 576.9 153.3 580.1 153.3C583.4 153.3 585 153.7 587.6 154.7C590.3 155.6 592.7 157.4 595.9 158.8C599.2 160.2 602.4 162.1 607 163C611.7 163.9 618.7 163.9 623.7 164.4C628.7 164.8 632.4 165.5 637 165.8C641.6 166 646.7 166 651.4 165.8C656.1 165.5 661.8 164.8 665.3 164.4C668.8 163.9 671.1 163.2 672.2 163"/>
<path stroke="#1fc8cc" d="M532.2 165.8C534.2 164.4 540.5 158 544.6 157.4C548.8 156.8 553.2 161.5 557.1 162.2C561 162.9 564.4 161.9 568.2 161.6C572 161.3 577.1 160 580.1 160.2C583.1 160.5 584.1 161.7 586.2 163C588.4 164.2 592 166.9 593.2 167.7"/>
<path stroke="#d4a020" d="M555.7 167.7C556.4 166.9 557.3 163.8 559.9 163C562.4 162.2 568.2 163.2 571 163C573.8 162.8 575 161.5 576.5 161.6C578.1 161.7 578.8 162.8 580.1 163.8C581.5 164.8 584.1 167.1 584.9 167.7"/>
</g>
<line x1="544" y1="15.8" x2="544" y2="166.4" stroke="#3a3a3a" stroke-width="1"/>
<line x1="580.3" y1="15.8" x2="580.3" y2="166.4" stroke="#3a3a3a" stroke-width="1"/>
<line x1="637.2" y1="15.8" x2="637.2" y2="166.4" stroke="#3a3a3a" stroke-width="1"/>
<rect x="487.3" y="15.8" width="185.9" height="150.6" fill="none" stroke="#3a3a3a" stroke-width="1.05"/>
<line x1="487.3" y1="166.4" x2="490.3" y2="166.4" stroke="#333" stroke-width="1"/>
<line x1="487.3" y1="157" x2="489.1" y2="157" stroke="#333" stroke-width="1"/>
<line x1="487.3" y1="147.6" x2="490.3" y2="147.6" stroke="#333" stroke-width="1"/>
<line x1="487.3" y1="138.2" x2="489.1" y2="138.2" stroke="#333" stroke-width="1"/>
<line x1="487.3" y1="128.8" x2="490.3" y2="128.8" stroke="#333" stroke-width="1"/>
<line x1="487.3" y1="119.3" x2="489.1" y2="119.3" stroke="#333" stroke-width="1"/>
<line x1="487.3" y1="109.9" x2="490.3" y2="109.9" stroke="#333" stroke-width="1"/>
<line x1="487.3" y1="100.5" x2="489.1" y2="100.5" stroke="#333" stroke-width="1"/>
<line x1="487.3" y1="91.1" x2="490.3" y2="91.1" stroke="#333" stroke-width="1"/>
<line x1="487.3" y1="81.7" x2="489.1" y2="81.7" stroke="#333" stroke-width="1"/>
<line x1="487.3" y1="72.3" x2="490.3" y2="72.3" stroke="#333" stroke-width="1"/>
<line x1="487.3" y1="62.9" x2="489.1" y2="62.9" stroke="#333" stroke-width="1"/>
<line x1="487.3" y1="53.5" x2="490.3" y2="53.5" stroke="#333" stroke-width="1"/>
<line x1="487.3" y1="44" x2="489.1" y2="44" stroke="#333" stroke-width="1"/>
<line x1="487.3" y1="34.6" x2="490.3" y2="34.6" stroke="#333" stroke-width="1"/>
<line x1="487.3" y1="25.2" x2="489.1" y2="25.2" stroke="#333" stroke-width="1"/>
<line x1="487.3" y1="15.8" x2="490.3" y2="15.8" stroke="#333" stroke-width="1"/>
<line x1="487.3" y1="129" x2="673.2" y2="129" stroke="#000" stroke-width="1.5"/>
<line x1="487.3" y1="128" x2="673.2" y2="128" stroke="#000" stroke-width="1.2" stroke-dasharray="7.5 6.5"/>
<line x1="672.6" y1="136" x2="672.6" y2="110" stroke="#0a0aff" stroke-width="2.2"/>
<path d="M672.6 101 L669.3 111 L672.6 110.4 L675.9 111 Z" fill="#0a0aff"/>
<ellipse cx="486.9" cy="99.1" rx="4.3" ry="3.5" fill="#11c811"/>
<ellipse cx="672.6" cy="98" rx="4.3" ry="3.5" fill="#11c811"/>
<ellipse cx="580.2" cy="127.9" rx="4.3" ry="3.5" fill="#f00"/>
<text x="580.3" y="12.5" font-family="Liberation Serif" font-weight="bold" font-size="9.5" text-anchor="middle" fill="#111">LiSnSe<tspan font-size="7" dy="1.7">3</tspan></text>
<text transform="translate(474.1 85.4) rotate(-90)" font-family="Liberation Serif" font-weight="bold" font-size="12.6" text-anchor="middle" fill="#111">Energy (eV)</text>
<text transform="translate(483 169.3) scale(1 1)" font-family="Liberation Serif" font-weight="bold" font-size="8.2" text-anchor="end" fill="#111">-2</text>
<text transform="translate(483 150.5) scale(1 1)" font-family="Liberation Serif" font-weight="bold" font-size="8.2" text-anchor="end" fill="#111">-1</text>
<text transform="translate(483 131.7) scale(1 1)" font-family="Liberation Serif" font-weight="bold" font-size="8.2" text-anchor="end" fill="#111">0</text>
<text transform="translate(483 112.8) scale(1 1)" font-family="Liberation Serif" font-weight="bold" font-size="8.2" text-anchor="end" fill="#111">1</text>
<text transform="translate(483 94) scale(1 1)" font-family="Liberation Serif" font-weight="bold" font-size="8.2" text-anchor="end" fill="#111">2</text>
<text transform="translate(483 75.2) scale(1 1)" font-family="Liberation Serif" font-weight="bold" font-size="8.2" text-anchor="end" fill="#111">3</text>
<text transform="translate(483 56.4) scale(1 1)" font-family="Liberation Serif" font-weight="bold" font-size="8.2" text-anchor="end" fill="#111">4</text>
<text transform="translate(483 37.5) scale(1 1)" font-family="Liberation Serif" font-weight="bold" font-size="8.2" text-anchor="end" fill="#111">5</text>
<text transform="translate(483 18.7) scale(1 1)" font-family="Liberation Serif" font-weight="bold" font-size="8.2" text-anchor="end" fill="#111">6</text>
<text x="489.9" y="174" font-family="Liberation Sans" font-weight="bold" font-size="8" text-anchor="middle" fill="#111">G</text>
<text x="544" y="174" font-family="Liberation Sans" font-weight="bold" font-size="8" text-anchor="middle" fill="#111">F</text>
<text x="580.3" y="174" font-family="Liberation Sans" font-weight="bold" font-size="8" text-anchor="middle" fill="#111">Q</text>
<text x="637.2" y="174" font-family="Liberation Sans" font-weight="bold" font-size="8" text-anchor="middle" fill="#111">Z</text>
<text x="670.2" y="174" font-family="Liberation Sans" font-weight="bold" font-size="8" text-anchor="middle" fill="#111">G</text>
<text x="673.9" y="131.9" font-family="Liberation Serif" font-weight="bold" font-size="9.5" fill="#111">E<tspan dx="-0.4" font-weight="normal" font-style="italic" font-size="7" dy="2.2">f</tspan></text>
<clipPath id="cp4"><rect x="30.3" y="192.5" width="184.6" height="150.4"/></clipPath>
<g clip-path="url(#cp4)" fill="none" stroke-width="1.8" stroke-linejoin="round" stroke-linecap="round">
<path stroke="#1fc8cc" d="M77.2 192.5C78.3 192.8 81.7 194.5 83.9 194.5C86.2 194.5 89.5 192.8 90.7 192.5"/>
<path stroke="#1fc8cc" d="M141 192.5C142.1 192.7 145.5 193.8 147.7 193.8C150 193.8 153.3 192.7 154.5 192.5"/>
<path stroke="#d4a020" d="M30.9 194.1C33.6 194.3 42.6 194.3 47 195.1C51.4 196 53.7 198.5 57.1 199.2C60.4 199.8 63.8 199.7 67.2 199.2C70.5 198.6 74.5 196.5 77.2 195.8C79.9 195.1 79.4 195.1 83.3 195.1C87.2 195.2 94.1 196 100.7 196.2C107.4 196.3 117.6 196 123.2 196.2C128.8 196.3 130.8 196.4 134.3 196.8C137.8 197.2 141 198.7 144.4 198.5C147.7 198.3 149.1 196.4 154.5 195.8C159.8 195.3 170.7 195.1 176.3 195.1C181.9 195.1 183.8 195.5 188 195.8C192.2 196.1 197 196.8 201.5 196.8C205.9 196.8 212.7 196 214.9 195.8"/>
<path stroke="#b47ae6" d="M30.9 200.2C31.9 201 33.7 203.5 36.9 205.2C40.2 206.9 46.4 210.1 50.4 210.3C54.3 210.4 57.6 206.3 60.4 205.9C63.2 205.4 64.4 208.2 67.2 207.6C70 206.9 74.5 203 77.2 201.9C79.9 200.7 80.5 201 83.3 200.5C86.1 200.1 90 197.3 94 199.2C98 201.1 103.5 208.7 107.4 211.9C111.4 215.2 114.9 217.4 117.5 218.6C120.1 219.9 121 219.7 123.2 219.7C125.5 219.7 128 220.5 130.9 218.6C133.9 216.8 138.2 211.7 141 208.6C143.8 205.5 144.4 201.7 147.7 200.2C151.1 198.7 156.4 199.7 161.2 199.5C165.9 199.3 171.8 199.1 176.3 199.2C180.8 199.3 183.8 200.2 188 200.2C192.2 200.2 197 199.3 201.5 199.2C205.9 199.1 212.7 199.5 214.9 199.5"/>
<path stroke="#3cb371" d="M30.9 213.6C33 213.4 39.8 212.2 43.6 212.6C47.5 213 49.8 216.2 53.7 216C57.6 215.7 63.2 210.8 67.2 211.3C71.1 211.7 74.5 216.9 77.2 218.6C79.9 220.4 80.5 221.2 83.3 222C86.1 222.8 90 222.8 94 223.7C98 224.5 102.6 225.8 107.4 227C112.3 228.3 119.3 231.7 123.2 231.4C127.1 231.1 128 227.5 130.9 225.4C133.9 223.2 137.1 220.9 141 218.6C144.9 216.4 150 214.5 154.5 211.9C158.9 209.4 164.2 205.3 167.9 203.5C171.5 201.7 173.5 201.2 176.3 201.2C179.1 201.2 181.9 202.6 184.7 203.5C187.5 204.5 190.3 206.5 193.1 206.9C195.9 207.3 197.8 204.8 201.5 205.9C205.1 207 212.7 212.3 214.9 213.6"/>
<path stroke="#2b6fd8" d="M30.9 221.3C32.5 221.4 37 221.4 40.3 222C43.5 222.6 45.9 223 50.4 224.7C54.8 226.4 61.7 230.3 67.2 232.1C72.6 233.9 78.8 234.9 83.3 235.4C87.7 236 90 235.6 94 235.4C98 235.3 102.6 234.5 107.4 234.4C112.3 234.3 118.7 235.4 123.2 234.8C127.7 234.1 130.2 232.5 134.3 230.4C138.4 228.3 143.3 225 147.7 222C152.2 219 156.4 214.7 161.2 212.6C165.9 210.5 171.8 209.5 176.3 209.2C180.8 209 183.8 209.4 188 211.3C192.2 213.1 198.1 218.5 201.5 220.3C204.8 222.1 205.9 221.9 208.2 222C210.4 222.1 213.8 221.2 214.9 221"/>
<path stroke="#f04848" d="M30.9 241.5C34.1 240.9 44.3 238.5 50.4 238.1C56.4 237.8 61.7 239.1 67.2 239.5C72.6 239.9 77.7 240.4 83.3 240.5C88.9 240.5 95.6 240.4 100.7 239.8C105.9 239.2 110.4 237.8 114.2 237.1C117.9 236.4 119.9 235.4 123.2 235.4C126.6 235.4 130.2 236.6 134.3 237.1C138.4 237.7 143.3 238.8 147.7 238.8C152.2 238.8 156.4 238.1 161.2 237.1C165.9 236.1 171.8 233 176.3 232.8C180.8 232.5 183.8 234.3 188 235.4C192.2 236.6 197 238.7 201.5 239.8C205.9 240.9 212.7 241.8 214.9 242.2"/>
<path stroke="#555555" d="M30.9 251.6C33 251.1 39.6 249.8 43.6 248.9C47.7 248 51.5 246.4 55.4 246.2C59.3 246 62.5 247.1 67.2 247.9C71.8 248.6 77.7 249.8 83.3 250.5C88.9 251.3 95.6 251.6 100.7 252.2C105.9 252.9 110.4 253.9 114.2 254.6C117.9 255.2 120.4 256.4 123.2 256.3C126 256.1 128 255.4 130.9 253.9C133.9 252.4 137.1 249.5 141 247.2C144.9 244.8 148.6 241 154.5 239.8C160.3 238.6 170.7 239.1 176.3 239.8C181.9 240.5 183.8 242.3 188 243.8C192.2 245.3 197 247.5 201.5 248.9C205.9 250.3 212.7 251.7 214.9 252.2"/>
<path stroke="#7cc41e" d="M30.9 256.3C33 256.1 39.8 255.7 43.6 255.6C47.5 255.5 49.8 254.7 53.7 255.6C57.6 256.4 62.2 259.1 67.2 260.6C72.1 262.2 78.8 264.5 83.3 265C87.7 265.4 90 264 94 263.3C98 262.6 102.6 261.9 107.4 260.6C112.3 259.3 118.7 256.3 123.2 255.6C127.7 254.9 129.1 256.3 134.3 256.6C139.5 256.9 147.5 257 154.5 257.3C161.4 257.5 169.6 258.3 176.3 258.3C183 258.3 188.3 257.5 194.7 257.3C201.2 257 211.5 256.7 214.9 256.6"/>
<path stroke="#6a9cda" d="M30.9 305.3C33 305.6 39.3 306.3 43.6 307C48 307.6 52.6 308.4 57.1 309.3C61.6 310.3 66.1 311.8 70.5 312.7C74.9 313.5 79.4 314.3 83.3 314.3C87.2 314.3 90 313.5 94 312.7C98 311.8 102.6 310 107.4 309.3C112.3 308.6 118.7 308.5 123.2 308.6C127.7 308.7 130.2 309.3 134.3 310C138.4 310.6 144.4 312 147.7 312.7C151.1 313.3 151.1 314 154.5 313.7C157.8 313.4 164.2 311.8 167.9 311C171.5 310.1 172.9 309.2 176.3 308.6C179.6 308.1 183.8 307.9 188 307.6C192.2 307.3 197 307.3 201.5 307C205.9 306.6 212.7 305.6 214.9 305.3"/>
<path stroke="#ff7020" d="M30.9 314.3C33 314.5 39.3 314.8 43.6 315.4C48 315.9 52.6 317 57.1 317.7C61.6 318.4 66.1 319.2 70.5 319.4C74.9 319.5 78.8 319.2 83.3 318.7C87.7 318.3 92.2 317.5 97.4 316.7C102.5 315.9 109.9 314.3 114.2 313.7C118.5 313 119.9 312.7 123.2 312.7C126.6 312.7 130.2 313.1 134.3 313.7C138.4 314.2 143.3 315.1 147.7 316C152.2 317 156.4 318.3 161.2 319.4C165.9 320.5 171.8 322.8 176.3 322.7C180.8 322.6 183.8 319.9 188 318.7C192.2 317.5 197 316.1 201.5 315.4C205.9 314.6 212.7 314.5 214.9 314.3"/>
<path stroke="#9a9a1e" d="M30.9 325.4C32.5 325.8 36.5 327.1 40.3 327.8C44.1 328.4 49.2 329.7 53.7 329.5C58.2 329.2 62.2 326.5 67.2 326.1C72.1 325.6 78.8 327.2 83.3 326.8C87.7 326.3 90 324.6 94 323.4C98 322.2 102.6 320.3 107.4 319.4C112.3 318.4 118.7 317.8 123.2 317.7C127.7 317.6 130.2 318.4 134.3 318.7C138.4 319 143.3 318.8 147.7 319.4C152.2 319.9 156.4 320.9 161.2 322.1C165.9 323.2 172.4 325.1 176.3 326.1C180.2 327 181.6 327.8 184.7 327.8C187.7 327.8 191.4 326.5 194.7 326.1C198.1 325.7 201.5 325.3 204.8 325.4C208.2 325.6 213.2 326.8 214.9 327.1"/>
<path stroke="#7a4c4c" d="M30.9 329.5C33 330 39.3 332 43.6 332.8C48 333.6 52.6 334.5 57.1 334.5C61.6 334.5 66.1 333.2 70.5 332.8C74.9 332.4 78.2 332.1 83.3 332.1C88.3 332.1 95.6 332.5 100.7 332.8C105.9 333.1 110.4 333.8 114.2 333.8C117.9 333.8 119.9 333.3 123.2 332.8C126.6 332.4 130.2 331.8 134.3 331.1C138.4 330.5 143.3 329.1 147.7 328.8C152.2 328.5 156.4 329.2 161.2 329.5C165.9 329.7 172.4 329.8 176.3 330.1C180.2 330.4 181.6 330.4 184.7 331.1C187.7 331.9 191.9 333.8 194.7 334.5C197.5 335.2 198.1 336.2 201.5 335.5C204.8 334.8 212.7 331 214.9 330.1"/>
<path stroke="#1fc8cc" d="M30.9 342.9C32.5 342.5 37 340.7 40.3 340.5C43.5 340.4 47 341.4 50.4 341.9C53.7 342.4 58.8 343.3 60.4 343.6"/>
<path stroke="#1fc8cc" d="M100.7 343.6C103 342.6 110.4 339.1 114.2 337.8C117.9 336.6 119.9 335.9 123.2 336.2C126.6 336.4 131.3 338.3 134.3 339.5C137.3 340.8 139.9 342.9 141 343.6"/>
<path stroke="#1fc8cc" d="M154.5 343.6C156.1 342.9 161.7 339.9 164.5 339.5C167.3 339.1 169.3 340.5 171.2 341.2C173.2 341.9 175.4 343.2 176.3 343.6"/>
<path stroke="#1fc8cc" d="M188 343.6C189.7 342.9 194.7 339.9 198.1 339.5C201.5 339.1 205.4 340.6 208.2 341.2C211 341.8 213.8 342.6 214.9 342.9"/>
</g>
<line x1="83.8" y1="192.5" x2="83.8" y2="342.9" stroke="#3a3a3a" stroke-width="1"/>
<line x1="123.2" y1="192.5" x2="123.2" y2="342.9" stroke="#3a3a3a" stroke-width="1"/>
<line x1="176.3" y1="192.5" x2="176.3" y2="342.9" stroke="#3a3a3a" stroke-width="1"/>
<rect x="30.3" y="192.5" width="184.6" height="150.4" fill="none" stroke="#3a3a3a" stroke-width="1.05"/>
<line x1="30.3" y1="342.9" x2="33.3" y2="342.9" stroke="#333" stroke-width="1"/>
<line x1="30.3" y1="333.5" x2="32.1" y2="333.5" stroke="#333" stroke-width="1"/>
<line x1="30.3" y1="324.1" x2="33.3" y2="324.1" stroke="#333" stroke-width="1"/>
<line x1="30.3" y1="314.7" x2="32.1" y2="314.7" stroke="#333" stroke-width="1"/>
<line x1="30.3" y1="305.3" x2="33.3" y2="305.3" stroke="#333" stroke-width="1"/>
<line x1="30.3" y1="295.9" x2="32.1" y2="295.9" stroke="#333" stroke-width="1"/>
<line x1="30.3" y1="286.5" x2="33.3" y2="286.5" stroke="#333" stroke-width="1"/>
<line x1="30.3" y1="277.1" x2="32.1" y2="277.1" stroke="#333" stroke-width="1"/>
<line x1="30.3" y1="267.7" x2="33.3" y2="267.7" stroke="#333" stroke-width="1"/>
<line x1="30.3" y1="258.3" x2="32.1" y2="258.3" stroke="#333" stroke-width="1"/>
<line x1="30.3" y1="248.9" x2="33.3" y2="248.9" stroke="#333" stroke-width="1"/>
<line x1="30.3" y1="239.5" x2="32.1" y2="239.5" stroke="#333" stroke-width="1"/>
<line x1="30.3" y1="230.1" x2="33.3" y2="230.1" stroke="#333" stroke-width="1"/>
<line x1="30.3" y1="220.7" x2="32.1" y2="220.7" stroke="#333" stroke-width="1"/>
<line x1="30.3" y1="211.3" x2="33.3" y2="211.3" stroke="#333" stroke-width="1"/>
<line x1="30.3" y1="201.9" x2="32.1" y2="201.9" stroke="#333" stroke-width="1"/>
<line x1="30.3" y1="192.5" x2="33.3" y2="192.5" stroke="#333" stroke-width="1"/>
<line x1="30.3" y1="305.5" x2="214.9" y2="305.5" stroke="#000" stroke-width="1.5"/>
<line x1="30.3" y1="304.5" x2="214.9" y2="304.5" stroke="#000" stroke-width="1.2" stroke-dasharray="7.5 6.5"/>
<line x1="214.9" y1="305.3" x2="214.9" y2="265.6" stroke="#0a0aff" stroke-width="2.2"/>
<path d="M214.9 256.6 L211.6 266.6 L214.9 266 L218.2 266.6 Z" fill="#0a0aff"/>
<ellipse cx="30.9" cy="304.6" rx="4.3" ry="3.5" fill="#f00"/>
<ellipse cx="214.9" cy="304.6" rx="4.3" ry="3.5" fill="#f00"/>
<text x="123.2" y="189.1" font-family="Liberation Serif" font-weight="bold" font-size="9.5" text-anchor="middle" fill="#111">NaSiSe<tspan font-size="7" dy="1.7">3</tspan></text>
<text transform="translate(15.1 256.8) rotate(-90)" font-family="Liberation Serif" font-weight="bold" font-size="10" text-anchor="middle" fill="#111">Energy (eV)</text>
<text transform="translate(27 345.5) scale(0.88 1)" font-family="Liberation Sans" font-weight="bold" font-size="8.2" text-anchor="end" fill="#111">-2</text>
<text transform="translate(27 326.7) scale(0.88 1)" font-family="Liberation Sans" font-weight="bold" font-size="8.2" text-anchor="end" fill="#111">-1</text>
<text transform="translate(27 307.9) scale(0.88 1)" font-family="Liberation Sans" font-weight="bold" font-size="8.2" text-anchor="end" fill="#111">0</text>
<text transform="translate(27 289.1) scale(0.88 1)" font-family="Liberation Sans" font-weight="bold" font-size="8.2" text-anchor="end" fill="#111">1</text>
<text transform="translate(27 270.3) scale(0.88 1)" font-family="Liberation Sans" font-weight="bold" font-size="8.2" text-anchor="end" fill="#111">2</text>
<text transform="translate(27 251.5) scale(0.88 1)" font-family="Liberation Sans" font-weight="bold" font-size="8.2" text-anchor="end" fill="#111">3</text>
<text transform="translate(27 232.7) scale(0.88 1)" font-family="Liberation Sans" font-weight="bold" font-size="8.2" text-anchor="end" fill="#111">4</text>
<text transform="translate(27 213.9) scale(0.88 1)" font-family="Liberation Sans" font-weight="bold" font-size="8.2" text-anchor="end" fill="#111">5</text>
<text transform="translate(27 195.1) scale(0.88 1)" font-family="Liberation Sans" font-weight="bold" font-size="8.2" text-anchor="end" fill="#111">6</text>
<text x="32.9" y="351.3" font-family="Liberation Sans" font-weight="bold" font-size="8" text-anchor="middle" fill="#111">G</text>
<text x="83.8" y="351.3" font-family="Liberation Sans" font-weight="bold" font-size="8" text-anchor="middle" fill="#111">F</text>
<text x="123.2" y="351.3" font-family="Liberation Sans" font-weight="bold" font-size="8" text-anchor="middle" fill="#111">Q</text>
<text x="176.3" y="351.3" font-family="Liberation Sans" font-weight="bold" font-size="8" text-anchor="middle" fill="#111">Z</text>
<text x="211.9" y="351.3" font-family="Liberation Sans" font-weight="bold" font-size="8" text-anchor="middle" fill="#111">G</text>
<text x="219.9" y="308.5" font-family="Liberation Serif" font-weight="bold" font-size="9.5" fill="#111">E<tspan dx="-0.4" font-weight="normal" font-style="italic" font-size="7" dy="2.2">f</tspan></text>
<rect x="79" y="262.2" width="8.8" height="7.4" fill="#d0f0d0" stroke="#3c9a3c" stroke-width="1" stroke-dasharray="2 1"/>
<path d="M80 263 L87 269 M87 263 L80 269" stroke="#10c010" stroke-width="1.9"/>
<rect x="81.5" y="264.8" width="4" height="2.4" fill="#10c010"/>
<circle cx="83.5" cy="263.4" r="0.9" fill="#f0a0f0"/><circle cx="83.5" cy="268.6" r="0.9" fill="#f0a0f0"/>
<line x1="87.4" y1="260.5" x2="87.4" y2="270.8" stroke="#f07070" stroke-width="0.9"/>
<line x1="87.4" y1="277.8" x2="87.4" y2="290" stroke="#f07070" stroke-width="0.9"/>
<line x1="72.3" y1="275.3" x2="82.5" y2="275.3" stroke="#fbd0d0" stroke-width="0.8"/>
<line x1="88.5" y1="275.3" x2="102" y2="275.3" stroke="#fbd0d0" stroke-width="0.8"/>
<clipPath id="cp5"><rect x="259.6" y="193.5" width="185.4" height="150.4"/></clipPath>
<g clip-path="url(#cp5)" fill="none" stroke-width="1.8" stroke-linejoin="round" stroke-linecap="round">
<path stroke="#7a4c4c" d="M259.6 197.8C262.2 197.7 271.1 197.4 275.4 196.8C279.7 196.2 282.6 194.8 285.4 194.1C288.2 193.5 291 193 292.2 192.8"/>
<path stroke="#7a4c4c" d="M297.2 192.8C298.6 194 302.6 199.1 305.6 200.2C308.5 201.2 312.2 199.7 315 199.2C317.8 198.6 320.3 197.9 322.4 196.8C324.4 195.8 326.6 193.5 327.4 192.8"/>
<path stroke="#7a4c4c" d="M329.1 198.5C331.3 198.8 338.6 199.9 342.5 200.2C346.4 200.5 348.7 200.3 352.6 200.2C356.5 200.1 361.5 200.1 366 199.5C370.5 199 375.5 197.9 379.5 196.8C383.4 195.7 387.8 193.5 389.5 192.8"/>
<path stroke="#7a4c4c" d="M408.3 196.8C410.2 196.5 416.2 195.1 419.7 195.1C423.3 195.1 425.6 196.9 429.8 196.8C434 196.7 442.4 194.9 444.9 194.5"/>
<path stroke="#1fc8cc" d="M259.6 208.6C262.2 207 271.1 199.7 275.4 199.2C279.7 198.6 282.1 203.9 285.4 205.2C288.8 206.5 292.2 206.1 295.5 206.9C298.9 207.7 302.3 209.5 305.6 210.3C308.8 211 311.6 211 315 211.3C318.3 211.5 322.3 212.4 325.7 211.9C329.2 211.5 332.4 208.9 335.8 208.6C339.2 208.3 343.1 209.8 345.9 210.3C348.7 210.7 349.8 211.5 352.6 211.3C355.4 211 359.3 209.6 362.7 208.6C366 207.6 368.8 206.2 372.7 205.2C376.7 204.3 380.2 203.7 386.2 202.9C392.1 202 402.7 200.7 408.3 200.2C413.9 199.6 416.2 199.7 419.7 199.5C423.3 199.3 426.5 198.2 429.8 199.2C433.2 200.1 437.4 203.7 439.9 205.2C442.4 206.8 444.1 208 444.9 208.6"/>
<path stroke="#d4a020" d="M259.6 210.3C262.2 209.7 270.5 207 275.4 206.9C280.2 206.8 284.9 208.5 288.8 209.6C292.7 210.7 294.5 212.4 298.9 213.6C303.2 214.8 310.5 217.1 315 217C319.5 216.9 321.7 213.5 325.7 212.9C329.8 212.4 334.7 213.2 339.2 213.6C343.6 214 348.7 215.3 352.6 215.3C356.5 215.3 359.3 213.7 362.7 213.6C366 213.5 368.8 214.7 372.7 214.6C376.7 214.5 381.7 213.1 386.2 212.9C390.6 212.8 395.9 213.2 399.6 213.6C403.3 214 405 216.6 408.3 215.3C411.7 214 416.2 207.2 419.7 205.9C423.3 204.6 426.5 207 429.8 207.6C433.2 208.2 437.4 209.1 439.9 209.6C442.4 210 444.1 210.1 444.9 210.3"/>
<path stroke="#7cc41e" d="M332.4 209.6C333.6 209.3 336.6 207.9 339.2 207.9C341.7 207.9 346.2 209.3 347.6 209.6"/>
<path stroke="#b47ae6" d="M259.6 211.9C261.1 213.1 264.9 216.7 268.6 218.6C272.4 220.6 278.2 223.1 282.1 223.7C286 224.2 288.8 221.7 292.2 222C295.5 222.3 298.4 223.6 302.2 225.4C306 227.2 311.1 232.5 315 232.8C318.9 233 322.3 229.2 325.7 227C329.2 224.9 331.3 220.8 335.8 219.7C340.3 218.5 347.6 220.3 352.6 220.3C357.6 220.3 361.5 220 366 219.7C370.5 219.3 375 218.4 379.5 218C383.9 217.6 388.1 217.4 392.9 217.3C397.7 217.2 402.7 217.2 408.3 217.3C413.9 217.4 420.4 218.6 426.5 218C432.6 217.4 441.8 214.3 444.9 213.6"/>
<path stroke="#3cb371" d="M259.6 221.3C262.2 222 269.9 223.3 275.4 225.4C280.8 227.4 287.7 232 292.2 233.8C296.6 235.5 298.4 236.2 302.2 236.1C306 236 311.1 233.4 315 233.1C318.9 232.8 321.7 233.9 325.7 234.4C329.8 234.9 334.7 235.5 339.2 236.1C343.6 236.7 349.2 237.9 352.6 237.8C355.9 237.7 356.5 237.2 359.3 235.4C362.1 233.6 366 229.3 369.4 227C372.7 224.8 375.5 222.8 379.5 222C383.4 221.2 388.1 222.1 392.9 222C397.7 221.9 403.9 221.2 408.3 221.3C412.8 221.5 415.6 222.9 419.7 223C423.9 223.1 429 222.3 433.2 222C437.4 221.7 443 221.4 444.9 221.3"/>
<path stroke="#2b6fd8" d="M259.6 246.2C262.2 246.2 269.9 245.8 275.4 246.5C280.8 247.2 287.1 248.9 292.2 250.5C297.2 252.2 301.8 255.3 305.6 256.6C309.4 257.9 311.6 258.7 315 258.3C318.3 257.8 321.7 255.4 325.7 253.9C329.8 252.5 334.7 249.7 339.2 249.5C343.6 249.4 348.1 252.9 352.6 252.9C357.1 252.9 361.5 250.5 366 249.5C370.5 248.6 375 247.7 379.5 247.2C383.9 246.6 388.1 246.6 392.9 246.2C397.7 245.8 403.9 245 408.3 244.8C412.8 244.7 415.6 245.3 419.7 245.5C423.9 245.7 429 246.1 433.2 246.2C437.4 246.3 443 246.2 444.9 246.2"/>
<path stroke="#f04848" d="M259.6 265.7C261.7 264.9 267.7 262.4 272 261.3C276.3 260.2 281 258.9 285.4 258.9C289.9 259 293.9 260.8 298.9 261.6C303.8 262.5 310.5 263.7 315 264C319.5 264.3 321.7 263.9 325.7 263.3C329.8 262.7 334.7 262.2 339.2 260.6C343.6 259.1 348.1 254.5 352.6 253.9C357.1 253.3 361.5 257 366 257.3C370.5 257.5 375 256 379.5 255.6C383.9 255.2 388.1 255.2 392.9 254.9C397.7 254.6 403.9 254.8 408.3 253.9C412.8 253 416.2 249.7 419.7 249.5C423.3 249.4 426.5 251.1 429.8 252.9C433.2 254.7 437.4 258.6 439.9 260.6C442.4 262.6 444.1 264.3 444.9 265"/>
<path stroke="#555555" d="M259.6 274.7C262.2 274.5 269.9 274.2 275.4 273.4C280.8 272.6 287.1 271.1 292.2 270C297.2 268.9 301.8 267.7 305.6 266.7C309.4 265.7 311.6 263.9 315 264C318.3 264.1 321.7 266.6 325.7 267.3C329.8 268.1 334.7 268.2 339.2 268.3C343.6 268.5 348.1 268.8 352.6 268.3C357.1 267.9 361.5 266.8 366 265.7C370.5 264.5 375 262.9 379.5 261.6C383.9 260.4 388.1 259.3 392.9 258.3C397.7 257.3 404.4 254.4 408.3 255.6C412.2 256.8 413.4 262.9 416.4 265.7C419.4 268.5 423.8 270.4 426.5 272.4C429.1 274.3 430.3 276.7 432.5 277.4C434.7 278.1 437.8 276.8 439.9 276.4C442 276 444.1 275 444.9 274.7"/>
<path stroke="#7cc41e" d="M259.6 310.3C262.2 310.7 269.9 311.8 275.4 312.7C280.8 313.5 287.1 314.7 292.2 315.4C297.2 316 301.8 316.6 305.6 316.7C309.4 316.8 311.6 316.7 315 316C318.3 315.4 321.7 313.9 325.7 312.7C329.8 311.4 334.7 309.8 339.2 308.6C343.6 307.5 348.1 305.9 352.6 305.9C357.1 305.9 361.5 307.6 366 308.6C370.5 309.6 375 311.2 379.5 312C383.9 312.8 388.1 313.3 392.9 313.7C397.7 314.1 403.9 314.3 408.3 314.3C412.8 314.3 415.6 314.1 419.7 313.7C423.9 313.3 429 312.7 433.2 312C437.4 311.3 443 309.8 444.9 309.3"/>
<path stroke="#6a9cda" d="M259.6 320.1C262.2 319.8 269.9 318.7 275.4 318.7C280.8 318.7 287.1 319.6 292.2 320.1C297.2 320.5 301.8 320.9 305.6 321.4C309.4 321.8 311.6 322.7 315 322.7C318.3 322.7 321.7 321.8 325.7 321.4C329.8 320.9 334.7 320.2 339.2 320.1C343.6 319.9 348.1 321.1 352.6 320.7C357.1 320.3 361.5 318.5 366 317.7C370.5 316.9 375 316.1 379.5 316C383.9 315.9 388.1 316.5 392.9 317C397.7 317.6 403.9 318.8 408.3 319.4C412.8 319.9 415.6 320.2 419.7 320.4C423.9 320.6 429 320.6 433.2 320.4C437.4 320.2 443 319.5 444.9 319.4"/>
<path stroke="#ff7020" d="M259.6 323.7C261.7 324.4 267.7 326.9 272 327.8C276.3 328.6 281 328.9 285.4 328.8C289.9 328.6 293.9 327.1 298.9 326.8C303.8 326.4 310.5 326.9 315 326.8C319.5 326.7 321.7 326.1 325.7 326.1C329.8 326.1 334.7 326.3 339.2 326.8C343.6 327.2 349.2 328.9 352.6 328.8C355.9 328.7 356.5 327.1 359.3 326.1C362.1 325.1 366 323.1 369.4 322.7C372.7 322.3 375.8 322.3 379.5 323.7C383.1 325.1 387.8 330.2 391.2 331.1C394.6 332.1 396.7 330.2 399.6 329.5C402.5 328.7 405 326.9 408.3 326.8C411.7 326.7 415.6 329.2 419.7 328.8C423.9 328.4 429 325.4 433.2 324.4C437.4 323.4 443 323 444.9 322.7"/>
<path stroke="#9a9a1e" d="M259.6 333.8C262.2 333.6 269.9 333.1 275.4 332.8C280.8 332.5 287.1 332.4 292.2 332.1C297.2 331.9 301.8 331.2 305.6 331.1C309.4 331.1 311.6 331.8 315 331.8C318.3 331.8 321.7 331.4 325.7 331.1C329.8 330.9 334.7 330.3 339.2 330.1C343.6 330 348.7 329.5 352.6 330.1C356.5 330.7 358.2 332.9 362.7 333.8C367.1 334.7 374.4 335.6 379.5 335.5C384.5 335.4 388.1 333.6 392.9 333.5C397.7 333.3 403.3 334.2 408.3 334.5C413.4 334.8 419 335.6 423.1 335.5C427.2 335.4 429.5 334.5 433.2 334.2C436.8 333.8 443 333.6 444.9 333.5"/>
<path stroke="#7a4c4c" d="M259.6 336.8C262.2 336.7 269.9 336.3 275.4 336.2C280.8 336.1 285.5 336.1 292.2 336.2C298.8 336.3 309.4 337 315 336.8C320.6 336.7 321.7 336.2 325.7 335.5C329.8 334.8 334.7 333.5 339.2 332.8C343.6 332.1 348.7 330.7 352.6 331.1C356.5 331.6 359.3 334.4 362.7 335.5C366 336.6 368.8 337.3 372.7 337.8C376.7 338.4 380.2 338.9 386.2 338.9C392.1 338.9 401.6 337.8 408.3 337.8C415 337.8 420.4 338.9 426.5 338.9C432.6 338.9 441.8 338 444.9 337.8"/>
<path stroke="#1fc8cc" d="M259.6 342.9C261.1 342.5 265.7 340.3 268.6 340.5C271.6 340.8 275.6 343.9 277 344.6"/>
<path stroke="#1fc8cc" d="M315.7 344.6C317.9 344 324.6 342 329.1 341.2C333.6 340.4 338.6 340 342.5 339.5C346.4 339 349.2 338.2 352.6 338.2C355.9 338.2 358.7 338.5 362.7 339.5C366.6 340.6 373.9 343.7 376.1 344.6"/>
<path stroke="#1fc8cc" d="M386.2 344.6C387.3 343.6 390.6 338.5 392.9 338.5C395.1 338.5 398.5 343.6 399.6 344.6"/>
</g>
<line x1="315" y1="193.5" x2="315" y2="343.9" stroke="#3a3a3a" stroke-width="1"/>
<line x1="352.6" y1="193.5" x2="352.6" y2="343.9" stroke="#3a3a3a" stroke-width="1"/>
<line x1="408.3" y1="193.5" x2="408.3" y2="343.9" stroke="#3a3a3a" stroke-width="1"/>
<rect x="259.6" y="193.5" width="185.4" height="150.4" fill="none" stroke="#3a3a3a" stroke-width="1.05"/>
<line x1="259.6" y1="343.9" x2="262.6" y2="343.9" stroke="#333" stroke-width="1"/>
<line x1="259.6" y1="334.5" x2="261.4" y2="334.5" stroke="#333" stroke-width="1"/>
<line x1="259.6" y1="325.1" x2="262.6" y2="325.1" stroke="#333" stroke-width="1"/>
<line x1="259.6" y1="315.7" x2="261.4" y2="315.7" stroke="#333" stroke-width="1"/>
<line x1="259.6" y1="306.3" x2="262.6" y2="306.3" stroke="#333" stroke-width="1"/>
<line x1="259.6" y1="296.9" x2="261.4" y2="296.9" stroke="#333" stroke-width="1"/>
<line x1="259.6" y1="287.5" x2="262.6" y2="287.5" stroke="#333" stroke-width="1"/>
<line x1="259.6" y1="278.1" x2="261.4" y2="278.1" stroke="#333" stroke-width="1"/>
<line x1="259.6" y1="268.7" x2="262.6" y2="268.7" stroke="#333" stroke-width="1"/>
<line x1="259.6" y1="259.3" x2="261.4" y2="259.3" stroke="#333" stroke-width="1"/>
<line x1="259.6" y1="249.9" x2="262.6" y2="249.9" stroke="#333" stroke-width="1"/>
<line x1="259.6" y1="240.5" x2="261.4" y2="240.5" stroke="#333" stroke-width="1"/>
<line x1="259.6" y1="231.1" x2="262.6" y2="231.1" stroke="#333" stroke-width="1"/>
<line x1="259.6" y1="221.7" x2="261.4" y2="221.7" stroke="#333" stroke-width="1"/>
<line x1="259.6" y1="212.3" x2="262.6" y2="212.3" stroke="#333" stroke-width="1"/>
<line x1="259.6" y1="202.9" x2="261.4" y2="202.9" stroke="#333" stroke-width="1"/>
<line x1="259.6" y1="193.5" x2="262.6" y2="193.5" stroke="#333" stroke-width="1"/>
<line x1="259.6" y1="306.5" x2="445" y2="306.5" stroke="#000" stroke-width="1.5"/>
<line x1="259.6" y1="305.5" x2="445" y2="305.5" stroke="#000" stroke-width="1.2" stroke-dasharray="7.5 6.5"/>
<line x1="432.5" y1="312" x2="432.5" y2="289.4" stroke="#0a0aff" stroke-width="2.2"/>
<path d="M432.5 280.4 L429.2 290.4 L432.5 289.8 L435.8 290.4 Z" fill="#0a0aff"/>
<ellipse cx="432.5" cy="277.4" rx="4.3" ry="3.5" fill="#11c811"/>
<ellipse cx="351.9" cy="305.9" rx="4.3" ry="3.5" fill="#f00"/>
<text x="355" y="190.5" font-family="Liberation Serif" font-weight="bold" font-size="9.5" text-anchor="middle" fill="#111">NaGeSe<tspan font-size="7" dy="1.7">3</tspan></text>
<text transform="translate(246.8 263.7) rotate(-90)" font-family="Liberation Serif" font-weight="bold" font-size="12.6" text-anchor="middle" fill="#111">Energy (eV)</text>
<text transform="translate(256 346.5) scale(0.88 1)" font-family="Liberation Sans" font-weight="bold" font-size="8.2" text-anchor="end" fill="#111">-2</text>
<text transform="translate(256 327.7) scale(0.88 1)" font-family="Liberation Sans" font-weight="bold" font-size="8.2" text-anchor="end" fill="#111">-1</text>
<text transform="translate(256 308.9) scale(0.88 1)" font-family="Liberation Sans" font-weight="bold" font-size="8.2" text-anchor="end" fill="#111">0</text>
<text transform="translate(256 290.1) scale(0.88 1)" font-family="Liberation Sans" font-weight="bold" font-size="8.2" text-anchor="end" fill="#111">1</text>
<text transform="translate(256 271.3) scale(0.88 1)" font-family="Liberation Sans" font-weight="bold" font-size="8.2" text-anchor="end" fill="#111">2</text>
<text transform="translate(256 252.5) scale(0.88 1)" font-family="Liberation Sans" font-weight="bold" font-size="8.2" text-anchor="end" fill="#111">3</text>
<text transform="translate(256 233.7) scale(0.88 1)" font-family="Liberation Sans" font-weight="bold" font-size="8.2" text-anchor="end" fill="#111">4</text>
<text transform="translate(256 214.9) scale(0.88 1)" font-family="Liberation Sans" font-weight="bold" font-size="8.2" text-anchor="end" fill="#111">5</text>
<text transform="translate(256 196.1) scale(0.88 1)" font-family="Liberation Sans" font-weight="bold" font-size="8.2" text-anchor="end" fill="#111">6</text>
<text x="262.2" y="352.3" font-family="Liberation Sans" font-weight="bold" font-size="8" text-anchor="middle" fill="#111">G</text>
<text x="315" y="352.3" font-family="Liberation Sans" font-weight="bold" font-size="8" text-anchor="middle" fill="#111">F</text>
<text x="352.6" y="352.3" font-family="Liberation Sans" font-weight="bold" font-size="8" text-anchor="middle" fill="#111">Q</text>
<text x="408.3" y="352.3" font-family="Liberation Sans" font-weight="bold" font-size="8" text-anchor="middle" fill="#111">Z</text>
<text x="442" y="352.3" font-family="Liberation Sans" font-weight="bold" font-size="8" text-anchor="middle" fill="#111">G</text>
<text x="445.7" y="309.5" font-family="Liberation Serif" font-weight="bold" font-size="9.5" fill="#111">E<tspan dx="-0.4" font-weight="normal" font-style="italic" font-size="7" dy="2.2">f</tspan></text>
<clipPath id="cp6"><rect x="486.6" y="194.9" width="186" height="149.5"/></clipPath>
<g clip-path="url(#cp6)" fill="none" stroke-width="1.8" stroke-linejoin="round" stroke-linecap="round">
<path stroke="#9a9a1e" d="M508.7 195.1C511 196 518.2 199.1 522.2 200.2C526.1 201.3 529.1 201.4 532.2 201.9C535.3 202.3 537.3 202.3 540.6 202.9C544 203.4 548.2 204.4 552.4 205.2C556.6 206 561.2 207.2 565.8 207.6C570.4 208 576.3 207.4 580.2 207.6C584.2 207.7 586.1 209.2 589.3 208.6C592.5 207.9 596 205.2 599.4 203.5C602.7 201.9 606.7 199.9 609.5 198.5C612.3 197.1 615 195.7 616.2 195.1"/>
<path stroke="#ff7020" d="M530.5 195.1C531.1 196 532.2 199.5 533.9 200.2C535.6 200.9 537 199.5 540.6 199.2C544.3 198.9 549.1 198.3 555.7 198.5C562.3 198.7 574.6 200.2 580.2 200.2C585.8 200.2 586.1 199.3 589.3 198.5C592.5 197.7 597.7 195.7 599.4 195.1"/>
<path stroke="#7a4c4c" d="M486.2 203.5C488.3 203.8 494.3 204.8 498.6 205.2C503 205.6 508.2 205.6 512.1 205.9C516 206.2 518.8 206.6 522.2 206.9C525.5 207.2 529.1 207.2 532.2 207.9C535.3 208.6 537.3 211.2 540.6 211.3C544 211.4 548.7 208.2 552.4 208.6C556 209 559.1 211.4 562.4 213.6C565.8 215.9 569.6 220 572.5 222C575.5 224 577.4 225.9 580.2 225.4C583 224.8 586.7 220.9 589.3 218.6C591.9 216.4 593.2 214.2 596 211.9C598.8 209.7 602.7 206.9 606.1 205.2C609.5 203.5 613.4 202.5 616.2 201.9C619 201.2 620.1 201.2 622.9 201.2C625.7 201.2 629.6 202 633 201.9C636.3 201.7 640.1 201.3 643 200.2C646 199.1 648.5 195.3 650.8 195.1C653 195 653.8 198.4 656.5 199.5C659.1 200.6 663.8 201.2 666.5 201.9C669.2 202.5 671.6 203.3 672.6 203.5"/>
<path stroke="#1fc8cc" d="M486.2 208.6C487.7 208.4 492.1 207 495.3 207.6C498.5 208.1 502 210.9 505.4 211.9C508.7 212.9 512.1 213.7 515.4 213.6C518.8 213.5 522.7 210.4 525.5 211.3C528.3 212.1 529.7 215.6 532.2 218.6C534.7 221.7 537.3 227.8 540.6 229.7C544 231.7 548.2 230.2 552.4 230.4C556.6 230.6 561.2 230.8 565.8 231.1C570.4 231.4 576.9 232.5 580.2 232.1C583.6 231.7 583.9 230 585.9 228.7C588 227.5 589.9 226.9 592.7 224.7C595.5 222.5 598.8 218.3 602.7 215.3C606.7 212.3 611.1 208 616.2 206.9C621.2 205.8 629 209.4 633 208.6C636.9 207.7 636.9 202.9 639.7 201.9C642.5 200.9 645.8 202.3 649.7 202.5C653.7 202.8 659.4 202.8 663.2 203.5C667 204.3 671 206.3 672.6 206.9"/>
<path stroke="#d4a020" d="M486.2 213.6C487.7 213.9 492.1 214.6 495.3 215.3C498.5 216 502 216.6 505.4 218C508.7 219.4 512.1 221.1 515.4 223.7C518.8 226.3 522.4 231 525.5 233.8C528.6 236.6 531.4 240.5 533.9 240.5C536.4 240.5 537.5 234.4 540.6 233.8C543.7 233.1 548.2 235.7 552.4 236.4C556.6 237.2 561.2 237.6 565.8 238.1C570.4 238.6 576.3 238.9 580.2 239.5C584.2 240 586.7 243.3 589.3 241.5C591.9 239.7 593.2 231.7 596 228.7C598.8 225.8 602.2 225.1 606.1 223.7C610 222.3 615 221.4 619.5 220.3C624 219.2 629 217.4 633 217C636.9 216.6 640.2 217.5 643 218C645.8 218.4 646.9 219.7 649.7 219.7C652.5 219.7 656 219 659.8 218C663.6 217 670.5 214.3 672.6 213.6"/>
<path stroke="#b47ae6" d="M486.2 242.2C489.4 241.9 499.4 240.5 505.4 240.5C511.4 240.5 516.3 241.6 522.2 242.2C528 242.7 535 243.4 540.6 243.8C546.2 244.3 551 244.4 555.7 244.8C560.5 245.2 565.1 245.5 569.2 246.2C573.2 246.9 576.9 249.1 580.2 248.9C583.6 248.6 586.1 245.7 589.3 244.8C592.5 244 594.9 244.6 599.4 243.8C603.9 243.1 610.6 241.3 616.2 240.5C621.8 239.6 627.9 238.9 633 238.8C638 238.7 641.9 239.4 646.4 239.8C650.9 240.3 655.5 241.1 659.8 241.5C664.2 241.9 670.5 242 672.6 242.2"/>
<path stroke="#3cb371" d="M486.2 265C487.7 264.4 491.5 263.2 495.3 261.6C499 260.1 504.2 257 508.7 255.6C513.2 254.2 518.2 253.5 522.2 253.2C526.1 253 529.1 253.6 532.2 253.9C535.3 254.2 537.3 254.7 540.6 254.9C544 255.1 548.2 255.1 552.4 254.9C556.6 254.7 561.2 254.2 565.8 253.9C570.4 253.6 576.3 253.3 580.2 252.9C584.2 252.5 586.1 251.2 589.3 251.6C592.5 251.9 596 253.8 599.4 254.9C602.7 256 605.5 257.6 609.5 258.3C613.4 258.9 619 259.3 622.9 258.9C626.8 258.6 629 256.9 633 256.3C636.9 255.6 642.5 254.5 646.4 254.9C650.3 255.4 653.1 257.6 656.5 258.9C659.8 260.3 663.8 262 666.5 263C669.2 264 671.6 264.6 672.6 265"/>
<path stroke="#2b6fd8" d="M486.2 276.4C488.3 276.1 494.3 275.4 498.6 274.7C503 274.1 507.6 273.2 512.1 272.4C516.6 271.5 520.8 270.8 525.5 269.7C530.3 268.6 536.1 266.4 540.6 265.7C545.1 264.9 548.2 265.5 552.4 265C556.6 264.4 561.2 263.1 565.8 262.3C570.4 261.5 576.3 259.8 580.2 259.9C584.2 260.1 586.1 262.1 589.3 263C592.5 263.8 594.9 264.5 599.4 265C603.9 265.4 610.6 265.5 616.2 265.7C621.8 265.8 628.5 265.1 633 265.7C637.4 266.2 639.1 267.4 643 269C646.9 270.6 652.5 273.8 656.5 275.1C660.4 276.3 663.8 276.5 666.5 276.7C669.2 277 671.6 276.7 672.6 276.7"/>
<path stroke="#f04848" d="M486.2 312.7C489.4 312.8 499.4 313.2 505.4 313.3C511.4 313.4 516.3 313.3 522.2 313.3C528 313.3 535 313.7 540.6 313.3C546.2 312.9 551 311.8 555.7 311C560.5 310.2 565.1 309.2 569.2 308.6C573.2 308.1 576.3 307.3 580.2 307.6C584.2 307.9 588.4 309.4 592.7 310.3C597 311.3 601.1 312.4 606.1 313.3C611.1 314.3 618.4 315.6 622.9 316C627.4 316.5 628.5 316.2 633 316C637.4 315.9 644.7 315.5 649.7 315C654.8 314.6 659.4 313.8 663.2 313.3C667 312.8 671 312.2 672.6 312"/>
<path stroke="#555555" d="M486.2 316.7C489.4 317.1 499.4 318.7 505.4 319.4C511.4 320.1 516.3 320.6 522.2 321.1C528 321.5 535 322.3 540.6 322.1C546.2 321.8 551 320.1 555.7 319.4C560.5 318.7 565.1 318.1 569.2 317.7C573.2 317.3 576.3 317 580.2 317C584.2 317 588.4 317.3 592.7 317.7C597 318.1 601.1 318.7 606.1 319.4C611.1 320.1 618.4 321.3 622.9 322.1C627.4 322.8 629 324 633 323.7C636.9 323.5 641.9 321.4 646.4 320.4C650.9 319.4 655.5 318.3 659.8 317.7C664.2 317.1 670.5 316.9 672.6 316.7"/>
<path stroke="#7cc41e" d="M486.2 324.4C488.3 325 494.3 327 498.6 327.8C503 328.5 507.6 328.9 512.1 328.8C516.6 328.7 520.8 327.3 525.5 327.1C530.3 326.9 535.6 328.5 540.6 327.8C545.7 327 551 323.9 555.7 322.7C560.5 321.6 565.1 321.3 569.2 321.1C573.2 320.8 576.3 320.9 580.2 321.1C584.2 321.2 588.4 321.2 592.7 321.7C597 322.3 601.1 323.4 606.1 324.4C611.1 325.4 618.4 327 622.9 327.8C627.4 328.5 629.6 329.1 633 328.8C636.3 328.5 640.2 325.7 643 326.1C645.8 326.5 646.9 330.6 649.7 331.1C652.5 331.7 656 330.6 659.8 329.5C663.6 328.3 670.5 325.3 672.6 324.4"/>
<path stroke="#6a9cda" d="M486.2 329.5C488.9 329.7 496 331 502 331.1C508 331.3 515.7 330.3 522.2 330.5C528.6 330.6 535 331.7 540.6 332.1C546.2 332.5 551 333 555.7 332.8C560.5 332.6 565.1 331.6 569.2 331.1C573.2 330.7 576.3 330.5 580.2 330.1C584.2 329.7 588.4 328.8 592.7 328.8C597 328.8 601.1 329.2 606.1 330.1C611.1 331.1 618.4 333.6 622.9 334.5C627.4 335.4 628.5 335.7 633 335.5C637.4 335.3 644.7 334.2 649.7 333.5C654.8 332.8 659.4 331.7 663.2 331.1C667 330.6 671 330.3 672.6 330.1"/>
<path stroke="#ff7020" d="M486.2 342.2C487.7 342 491 341.3 495.3 341.2C499.6 341.1 507 341.6 512.1 341.9C517.1 342.2 521.6 343.2 525.5 342.9C529.4 342.6 533.1 341.1 535.6 340.2C538.1 339.2 537.8 337.8 540.6 337.2C543.4 336.5 548.2 336.4 552.4 336.2C556.6 335.9 561.2 336.1 565.8 335.5C570.4 334.9 576.3 332.7 580.2 332.8C584.2 332.9 585 335 589.3 336.2C593.6 337.3 600.5 338.7 606.1 339.5C611.7 340.4 618.4 341.1 622.9 341.2C627.4 341.3 629 341 633 340.2C636.9 339.4 642.5 336.3 646.4 336.2C650.3 336.1 652.1 338.5 656.5 339.5C660.8 340.5 669.9 341.8 672.6 342.2"/>
<path stroke="#9a9a1e" d="M540.6 339.5C543.1 338.9 551 336.1 555.7 335.5C560.5 334.9 565.1 335.8 569.2 336.2C573.2 336.6 576.3 337.3 580.2 337.8C584.2 338.4 588.4 339 592.7 339.5C597 340.1 601.6 340.4 606.1 341.2C610.6 342 617.3 344 619.5 344.6"/>
<path stroke="#9a9a1e" d="M633 344.6C634.6 344.2 639.7 342.2 643 342.2C646.4 342.2 651.4 344.2 653.1 344.6"/>
<path stroke="#7a4c4c" d="M552.4 344.6C554.6 344.3 561.2 343 565.8 342.9C570.4 342.8 576.3 343.6 580.2 343.9C584.2 344.2 587.8 344.5 589.3 344.6"/>
</g>
<line x1="540.6" y1="194.9" x2="540.6" y2="344.4" stroke="#3a3a3a" stroke-width="1"/>
<line x1="580.3" y1="194.9" x2="580.3" y2="344.4" stroke="#3a3a3a" stroke-width="1"/>
<line x1="633" y1="194.9" x2="633" y2="344.4" stroke="#3a3a3a" stroke-width="1"/>
<rect x="486.6" y="194.9" width="186" height="149.5" fill="none" stroke="#3a3a3a" stroke-width="1.05"/>
<line x1="486.6" y1="344.4" x2="489.6" y2="344.4" stroke="#333" stroke-width="1"/>
<line x1="486.6" y1="335.1" x2="488.4" y2="335.1" stroke="#333" stroke-width="1"/>
<line x1="486.6" y1="325.7" x2="489.6" y2="325.7" stroke="#333" stroke-width="1"/>
<line x1="486.6" y1="316.4" x2="488.4" y2="316.4" stroke="#333" stroke-width="1"/>
<line x1="486.6" y1="307" x2="489.6" y2="307" stroke="#333" stroke-width="1"/>
<line x1="486.6" y1="297.7" x2="488.4" y2="297.7" stroke="#333" stroke-width="1"/>
<line x1="486.6" y1="288.3" x2="489.6" y2="288.3" stroke="#333" stroke-width="1"/>
<line x1="486.6" y1="279" x2="488.4" y2="279" stroke="#333" stroke-width="1"/>
<line x1="486.6" y1="269.6" x2="489.6" y2="269.6" stroke="#333" stroke-width="1"/>
<line x1="486.6" y1="260.3" x2="488.4" y2="260.3" stroke="#333" stroke-width="1"/>
<line x1="486.6" y1="251" x2="489.6" y2="251" stroke="#333" stroke-width="1"/>
<line x1="486.6" y1="241.6" x2="488.4" y2="241.6" stroke="#333" stroke-width="1"/>
<line x1="486.6" y1="232.3" x2="489.6" y2="232.3" stroke="#333" stroke-width="1"/>
<line x1="486.6" y1="222.9" x2="488.4" y2="222.9" stroke="#333" stroke-width="1"/>
<line x1="486.6" y1="213.6" x2="489.6" y2="213.6" stroke="#333" stroke-width="1"/>
<line x1="486.6" y1="204.2" x2="488.4" y2="204.2" stroke="#333" stroke-width="1"/>
<line x1="486.6" y1="194.9" x2="489.6" y2="194.9" stroke="#333" stroke-width="1"/>
<line x1="486.6" y1="307.3" x2="672.6" y2="307.3" stroke="#000" stroke-width="1.5"/>
<line x1="486.6" y1="306.3" x2="672.6" y2="306.3" stroke="#000" stroke-width="1.2" stroke-dasharray="7.5 6.5"/>
<line x1="671.9" y1="312.7" x2="671.9" y2="288.4" stroke="#0a0aff" stroke-width="2.2"/>
<path d="M671.9 279.4 L668.6 289.4 L671.9 288.8 L675.2 289.4 Z" fill="#0a0aff"/>
<ellipse cx="486.2" cy="276.4" rx="4.3" ry="3.5" fill="#11c811"/>
<ellipse cx="671.9" cy="276.4" rx="4.3" ry="3.5" fill="#11c811"/>
<ellipse cx="580.2" cy="305.9" rx="4.3" ry="3.5" fill="#f00"/>
<text x="581.1" y="191.2" font-family="Liberation Serif" font-weight="bold" font-size="9.5" text-anchor="middle" fill="#111">NaSnSe<tspan font-size="7" dy="1.7">3</tspan></text>
<text transform="translate(472.2 265) rotate(-90)" font-family="Liberation Serif" font-weight="bold" font-size="12.6" text-anchor="middle" fill="#111">Energy (eV)</text>
<text transform="translate(484.2 347) scale(0.88 1)" font-family="Liberation Sans" font-weight="bold" font-size="8.2" text-anchor="end" fill="#111">-2</text>
<text transform="translate(484.2 328.3) scale(0.88 1)" font-family="Liberation Sans" font-weight="bold" font-size="8.2" text-anchor="end" fill="#111">-1</text>
<text transform="translate(484.2 309.6) scale(0.88 1)" font-family="Liberation Sans" font-weight="bold" font-size="8.2" text-anchor="end" fill="#111">0</text>
<text transform="translate(484.2 290.9) scale(0.88 1)" font-family="Liberation Sans" font-weight="bold" font-size="8.2" text-anchor="end" fill="#111">1</text>
<text transform="translate(484.2 272.2) scale(0.88 1)" font-family="Liberation Sans" font-weight="bold" font-size="8.2" text-anchor="end" fill="#111">2</text>
<text transform="translate(484.2 253.6) scale(0.88 1)" font-family="Liberation Sans" font-weight="bold" font-size="8.2" text-anchor="end" fill="#111">3</text>
<text transform="translate(484.2 234.9) scale(0.88 1)" font-family="Liberation Sans" font-weight="bold" font-size="8.2" text-anchor="end" fill="#111">4</text>
<text transform="translate(484.2 216.2) scale(0.88 1)" font-family="Liberation Sans" font-weight="bold" font-size="8.2" text-anchor="end" fill="#111">5</text>
<text transform="translate(484.2 197.5) scale(0.88 1)" font-family="Liberation Sans" font-weight="bold" font-size="8.2" text-anchor="end" fill="#111">6</text>
<text x="489.2" y="352.3" font-family="Liberation Sans" font-weight="bold" font-size="8" text-anchor="middle" fill="#111">G</text>
<text x="540.6" y="352.3" font-family="Liberation Sans" font-weight="bold" font-size="8" text-anchor="middle" fill="#111">F</text>
<text x="580.3" y="352.3" font-family="Liberation Sans" font-weight="bold" font-size="8" text-anchor="middle" fill="#111">Q</text>
<text x="633" y="352.3" font-family="Liberation Sans" font-weight="bold" font-size="8" text-anchor="middle" fill="#111">Z</text>
<text x="669.6" y="352.3" font-family="Liberation Sans" font-weight="bold" font-size="8" text-anchor="middle" fill="#111">G</text>
<text x="673.3" y="310.2" font-family="Liberation Serif" font-weight="bold" font-size="9.5" fill="#111">E<tspan dx="-0.4" font-weight="normal" font-style="italic" font-size="7" dy="2.2">f</tspan></text>
<clipPath id="cp7"><rect x="26.2" y="367.5" width="185.3" height="150.2"/></clipPath>
<g clip-path="url(#cp7)" fill="none" stroke-width="1.8" stroke-linejoin="round" stroke-linecap="round">
<path stroke="#9a9a1e" d="M26.2 376.2C28 375.6 32.9 373.8 36.9 372.8C41 371.8 45.3 370.7 50.4 370.1C55.4 369.6 62.8 369.6 67.2 369.5C71.5 369.4 72.1 369.5 76.6 369.5C81 369.4 89.4 369.2 94 369.1C98.6 369.1 100.7 369.1 104.1 369.1C107.4 369.1 111.8 369.3 114.2 369.1C116.6 369 116.3 368.9 118.5 368.5C120.8 368.1 126.1 367.1 127.6 366.8"/>
<path stroke="#9a9a1e" d="M198.1 368.5C199.8 369.3 205.9 372.2 208.2 373.5C210.4 374.8 211 375.7 211.5 376.2"/>
<path stroke="#7a4c4c" d="M26.2 377.5C28 377.1 33.5 375.6 36.9 375.2C40.4 374.8 43.6 374.5 47 375.2C50.4 375.9 53.7 378.7 57.1 379.5C60.4 380.4 63.9 380.1 67.2 380.2C70.4 380.3 73.2 380.2 76.6 380.2C79.9 380.2 83.8 381.1 87.3 380.2C90.8 379.4 94.6 376.9 97.4 375.2C100.2 373.5 101.8 370.7 104.1 370.1C106.3 369.6 108.4 371.3 110.8 371.8C113.2 372.4 115.7 373.5 118.5 373.5C121.3 373.5 124.4 372.5 127.6 371.8C130.8 371.2 134.3 369.6 137.7 369.5C141 369.3 144.4 369.9 147.7 370.8C151.1 371.8 154.3 374.2 157.8 375.2C161.3 376.2 165.2 376.7 168.6 376.9C171.9 377 174.7 376.9 178 376.2C181.2 375.5 184.7 373 188 372.8C191.4 372.7 194.2 374.4 198.1 375.2C202 376 209.3 377.1 211.5 377.5"/>
<path stroke="#1fc8cc" d="M26.2 380.2C28 380.5 32.9 381.5 36.9 381.9C41 382.3 46.4 381.7 50.4 382.6C54.3 383.4 57.1 385.1 60.4 386.9C63.8 388.8 67.8 392.3 70.5 393.6C73.2 395 73.8 395.9 76.6 395.3C79.4 394.8 83.3 392.3 87.3 390.3C91.3 388.3 96.8 385.4 100.7 383.6C104.6 381.8 107.8 380.7 110.8 379.5C113.8 378.4 115.7 377 118.5 376.9C121.3 376.7 123.8 378 127.6 378.5C131.3 379.1 136.5 379.8 141 380.2C145.5 380.7 149.9 381.3 154.5 381.2C159 381.1 164.6 380.3 168.6 379.5C172.5 378.8 174.2 377.2 178 376.9C181.8 376.5 187.5 377.5 191.4 377.5C195.3 377.5 198.1 376.5 201.5 376.9C204.8 377.2 209.9 379.1 211.5 379.5"/>
<path stroke="#d4a020" d="M26.2 382.6C28 382.7 32.9 383.2 36.9 383.6C41 383.9 46.4 383.5 50.4 384.6C54.3 385.7 57.1 388.2 60.4 390.3C63.8 392.4 67.8 395.6 70.5 397C73.2 398.4 73.8 399 76.6 398.7C79.4 398.4 83.3 397 87.3 395.3C91.3 393.6 96.8 390.3 100.7 388.6C104.6 386.9 107.8 385.1 110.8 385.3C113.8 385.4 115.7 389.1 118.5 389.6C121.3 390.2 123.8 389.1 127.6 388.6C131.3 388.2 136.5 387.9 141 386.9C145.5 386 149.9 384 154.5 382.9C159 381.8 164.6 380.4 168.6 380.2C172.5 380.1 174.2 381.3 178 381.9C181.8 382.5 187.5 383.4 191.4 383.6C195.3 383.7 198.1 383.1 201.5 382.9C204.8 382.7 209.9 382.6 211.5 382.6"/>
<path stroke="#b47ae6" d="M26.2 411.1C28 410.8 32.9 410.4 36.9 409.4C41 408.5 45.3 406.6 50.4 405.4C55.4 404.2 62.8 402.8 67.2 402C71.5 401.3 73.2 400.9 76.6 401C79.9 401.1 83.8 402.8 87.3 402.7C90.8 402.6 94 401.6 97.4 400.4C100.7 399.1 103.9 397.1 107.4 395.3C111 393.5 115.2 390.6 118.5 389.6C121.9 388.6 123.8 389.5 127.6 389.3C131.3 389.1 136.5 388.7 141 388.6C145.5 388.5 149.9 388.6 154.5 388.6C159 388.6 164.6 389.2 168.6 388.6C172.5 388.1 174.7 385.4 178 385.3C181.2 385.1 184.7 385.6 188 387.6C191.4 389.6 195.3 394 198.1 397C200.9 400 202.6 403.2 204.8 405.4C207.1 407.6 210.4 409.6 211.5 410.4"/>
<path stroke="#3cb371" d="M26.2 414.5C28 414.7 32.9 415.4 36.9 416.1C41 416.9 45.3 418.2 50.4 418.8C55.4 419.4 62.8 419.7 67.2 419.8C71.5 420 73.2 419.9 76.6 419.8C79.9 419.8 83.3 419.7 87.3 419.5C91.3 419.3 96.8 419.8 100.7 418.8C104.6 417.9 107.8 415.2 110.8 413.8C113.8 412.4 115.7 411.1 118.5 410.4C121.3 409.8 123.8 410.3 127.6 409.8C131.3 409.2 136.5 408.2 141 407.1C145.5 406 149.9 404.5 154.5 403.1C159 401.7 164.6 398.7 168.6 398.7C172.5 398.6 174.7 400.6 178 402.7C181.2 404.8 184.7 409.2 188 411.4C191.4 413.7 194.2 415.6 198.1 416.1C202 416.6 209.3 414.7 211.5 414.5"/>
<path stroke="#2b6fd8" d="M26.2 427.9C28 428.1 32.9 428.2 36.9 428.9C41 429.6 45.9 430.7 50.4 432.3C54.8 433.8 59.4 436.5 63.8 438.3C68.2 440.1 72.6 442.9 76.6 443C80.5 443.1 83.3 442.4 87.3 439C91.3 435.5 96.8 425.7 100.7 422.2C104.6 418.7 107.8 419 110.8 418.2C113.8 417.3 114.6 417.3 118.5 417.2C122.4 417 128.3 417.2 134.3 417.2C140.3 417.2 148.7 417 154.5 417.2C160.2 417.3 164.6 417.4 168.6 417.8C172.5 418.3 174.2 418.8 178 419.8C181.8 420.8 187.5 422.7 191.4 423.9C195.3 425 198.1 425.9 201.5 426.6C204.8 427.2 209.9 427.7 211.5 427.9"/>
<path stroke="#f04848" d="M26.2 486C29.1 486 37.9 486.3 43.6 486C49.4 485.7 55 484.7 60.4 484.3C65.9 483.9 71.5 483.9 76.6 483.6C81.6 483.4 86.1 483.1 90.7 482.6C95.2 482.2 99.4 481.3 104.1 480.9C108.7 480.6 113.5 480.1 118.5 480.3C123.6 480.4 129.4 481.3 134.3 482C139.2 482.6 143.3 483.7 147.7 484.3C152.2 484.9 157.7 485.2 161.2 485.3C164.6 485.4 165.2 485 168.6 485C171.9 485 176.9 485 181.3 485.3C185.7 485.6 189.7 486.9 194.7 487C199.8 487.1 208.7 486.2 211.5 486"/>
<path stroke="#555555" d="M26.2 493.7C28 493.4 32.9 492.5 36.9 491.7C41 490.9 45.9 489.5 50.4 488.7C54.8 487.9 59.4 487.4 63.8 487C68.2 486.5 72.1 486.5 76.6 486C81 485.4 86.1 484.4 90.7 483.6C95.2 482.9 99.4 482.2 104.1 481.6C108.7 481.1 114 480.2 118.5 480.3C123 480.3 126.6 481.1 130.9 482C135.3 482.8 139.9 484.5 144.4 485.3C148.9 486.1 153.8 486.3 157.8 486.7C161.8 487 164.6 487 168.6 487.7C172.5 488.3 176.9 489.5 181.3 490.4C185.7 491.2 189.7 491.9 194.7 492.7C199.8 493.5 208.7 494.7 211.5 495.1"/>
<path stroke="#7cc41e" d="M26.2 497.1C29.1 497 37.9 497.7 43.6 496.7C49.4 495.7 55 492.4 60.4 491C65.9 489.6 72.1 488.3 76.6 488.3C81 488.3 83.3 490 87.3 491C91.3 492 95.5 493.7 100.7 494.4C105.9 495.1 112.9 494.9 118.5 495.1C124.1 495.2 129.4 495.1 134.3 495.1C139.2 495.1 143.3 495 147.7 495.1C152.2 495.1 157.7 495.5 161.2 495.4C164.6 495.3 165.2 494.7 168.6 494.4C171.9 494.1 176.9 493.9 181.3 493.7C185.7 493.5 189.7 492.8 194.7 493.4C199.8 493.9 208.7 496.5 211.5 497.1"/>
<path stroke="#6a9cda" d="M26.2 497.7C29.1 498.2 37.4 499.8 43.6 500.4C49.9 501.1 58.3 501.5 63.8 501.8C69.3 502 72.6 502.3 76.6 502.1C80.5 501.9 84.4 501.3 87.3 500.4C90.2 499.6 90.7 497.2 94 497.1C97.4 496.9 103.4 498.5 107.4 499.4C111.5 500.4 115.2 502.5 118.5 502.8C121.9 503.1 123.8 501.9 127.6 501.1C131.3 500.3 136.5 498.5 141 497.7C145.5 497 149.9 496.9 154.5 496.7C159 496.6 164.1 496.6 168.6 496.7C173 496.9 176.9 497.6 181.3 497.7C185.7 497.9 189.7 497.7 194.7 497.7C199.8 497.7 208.7 497.7 211.5 497.7"/>
<path stroke="#ff7020" d="M26.2 505.5C28 505.3 34 504.9 36.9 504.5C39.8 504 40.3 502.6 43.6 502.8C47 502.9 51.6 504.9 57.1 505.5C62.6 506 70.4 506.2 76.6 506.1C82.7 506.1 88.3 505.6 94 505.1C99.7 504.7 106.7 503.4 110.8 503.4C114.9 503.4 115.7 505.2 118.5 505.1C121.3 505 123.8 503.7 127.6 502.8C131.3 501.8 136.5 500 141 499.4C145.5 498.9 149.9 499.2 154.5 499.4C159 499.6 164.1 500.1 168.6 500.4C173 500.7 176.9 500.5 181.3 501.1C185.7 501.7 189.7 502.9 194.7 503.8C199.8 504.6 208.7 505.7 211.5 506.1"/>
<path stroke="#9a9a1e" d="M26.2 506.1C28 506.4 32.9 507.5 36.9 507.8C41 508.1 45.3 507.7 50.4 507.8C55.4 507.9 62.8 508.2 67.2 508.5C71.5 508.8 73.2 509.6 76.6 509.5C79.9 509.4 83.3 508.5 87.3 507.8C91.3 507.1 96.8 505.8 100.7 505.1C104.6 504.5 109.1 504 110.8 503.8"/>
<path stroke="#9a9a1e" d="M114.2 517.9C116.4 517.3 123.1 515.6 127.6 514.5C132.1 513.4 136.5 512.3 141 511.2C145.5 510 149.9 508.4 154.5 507.8C159 507.3 164.1 508.4 168.6 507.8C173 507.3 176.9 505.3 181.3 504.5C185.7 503.6 189.7 502.5 194.7 502.8C199.8 503.1 208.7 505.6 211.5 506.1"/>
<path stroke="#7a4c4c" d="M26.2 507.8C29.1 508.3 37.9 509.7 43.6 510.5C49.4 511.3 55 512.2 60.4 512.8C65.9 513.5 71 514 76.6 514.5C82.2 515.1 88.9 515.6 94 516.2C99.2 516.8 105.2 517.6 107.4 517.9"/>
<path stroke="#7a4c4c" d="M134.3 517.9C137.1 517 145.5 514.1 151.1 512.8C156.7 511.6 162.8 510.9 167.9 510.5C172.9 510.1 176.8 510.4 181.3 510.5C185.8 510.6 189.7 511.6 194.7 511.2C199.8 510.7 208.7 508.4 211.5 507.8"/>
<path stroke="#1fc8cc" d="M26.2 516.9C29.1 516.9 39.5 517.3 43.6 516.9C47.8 516.5 47.5 514.7 51.4 514.5C55.2 514.3 62.7 515.1 66.8 515.5C70.9 515.9 73.3 516.4 75.9 516.9C78.5 517.3 81.2 518 82.3 518.2"/>
<path stroke="#1fc8cc" d="M174.6 517.9C175.7 517.3 179.1 515 181.3 514.5C183.6 514.1 185.8 514.6 188 515.2C190.3 515.8 193.6 517.4 194.7 517.9"/>
</g>
<line x1="76.6" y1="367.5" x2="76.6" y2="517.7" stroke="#3a3a3a" stroke-width="1"/>
<line x1="118.5" y1="367.5" x2="118.5" y2="517.7" stroke="#3a3a3a" stroke-width="1"/>
<line x1="168.6" y1="367.5" x2="168.6" y2="517.7" stroke="#3a3a3a" stroke-width="1"/>
<rect x="26.2" y="367.5" width="185.3" height="150.2" fill="none" stroke="#3a3a3a" stroke-width="1.05"/>
<line x1="26.2" y1="517.7" x2="29.2" y2="517.7" stroke="#333" stroke-width="1"/>
<line x1="26.2" y1="508.3" x2="28" y2="508.3" stroke="#333" stroke-width="1"/>
<line x1="26.2" y1="498.9" x2="29.2" y2="498.9" stroke="#333" stroke-width="1"/>
<line x1="26.2" y1="489.5" x2="28" y2="489.5" stroke="#333" stroke-width="1"/>
<line x1="26.2" y1="480.2" x2="29.2" y2="480.2" stroke="#333" stroke-width="1"/>
<line x1="26.2" y1="470.8" x2="28" y2="470.8" stroke="#333" stroke-width="1"/>
<line x1="26.2" y1="461.4" x2="29.2" y2="461.4" stroke="#333" stroke-width="1"/>
<line x1="26.2" y1="452" x2="28" y2="452" stroke="#333" stroke-width="1"/>
<line x1="26.2" y1="442.6" x2="29.2" y2="442.6" stroke="#333" stroke-width="1"/>
<line x1="26.2" y1="433.2" x2="28" y2="433.2" stroke="#333" stroke-width="1"/>
<line x1="26.2" y1="423.8" x2="29.2" y2="423.8" stroke="#333" stroke-width="1"/>
<line x1="26.2" y1="414.4" x2="28" y2="414.4" stroke="#333" stroke-width="1"/>
<line x1="26.2" y1="405.1" x2="29.2" y2="405.1" stroke="#333" stroke-width="1"/>
<line x1="26.2" y1="395.7" x2="28" y2="395.7" stroke="#333" stroke-width="1"/>
<line x1="26.2" y1="386.3" x2="29.2" y2="386.3" stroke="#333" stroke-width="1"/>
<line x1="26.2" y1="376.9" x2="28" y2="376.9" stroke="#333" stroke-width="1"/>
<line x1="26.2" y1="367.5" x2="29.2" y2="367.5" stroke="#333" stroke-width="1"/>
<line x1="26.2" y1="480.4" x2="211.5" y2="480.4" stroke="#000" stroke-width="1.5"/>
<line x1="26.2" y1="479.4" x2="211.5" y2="479.4" stroke="#000" stroke-width="1.2" stroke-dasharray="7.5 6.5"/>
<line x1="76.6" y1="484.3" x2="76.6" y2="455.3" stroke="#0a0aff" stroke-width="2.2"/>
<path d="M76.6 446.3 L73.3 456.3 L76.6 455.7 L79.9 456.3 Z" fill="#0a0aff"/>
<ellipse cx="76.6" cy="443.3" rx="4.3" ry="3.5" fill="#11c811"/>
<ellipse cx="118.5" cy="478.6" rx="4.3" ry="3.5" fill="#f00"/>
<text x="117.3" y="364" font-family="Liberation Serif" font-weight="bold" font-size="9.5" text-anchor="middle" fill="#111">KSiSe<tspan font-size="7" dy="1.7">3</tspan></text>
<text transform="translate(12 436.3) rotate(-90)" font-family="Liberation Serif" font-weight="bold" font-size="12.6" text-anchor="middle" fill="#111">Energy (eV)</text>
<text transform="translate(22.8 520.3) scale(0.88 1)" font-family="Liberation Sans" font-weight="bold" font-size="8.2" text-anchor="end" fill="#111">-2</text>
<text transform="translate(22.8 501.5) scale(0.88 1)" font-family="Liberation Sans" font-weight="bold" font-size="8.2" text-anchor="end" fill="#111">-1</text>
<text transform="translate(22.8 482.8) scale(0.88 1)" font-family="Liberation Sans" font-weight="bold" font-size="8.2" text-anchor="end" fill="#111">0</text>
<text transform="translate(22.8 464) scale(0.88 1)" font-family="Liberation Sans" font-weight="bold" font-size="8.2" text-anchor="end" fill="#111">1</text>
<text transform="translate(22.8 445.2) scale(0.88 1)" font-family="Liberation Sans" font-weight="bold" font-size="8.2" text-anchor="end" fill="#111">2</text>
<text transform="translate(22.8 426.4) scale(0.88 1)" font-family="Liberation Sans" font-weight="bold" font-size="8.2" text-anchor="end" fill="#111">3</text>
<text transform="translate(22.8 407.7) scale(0.88 1)" font-family="Liberation Sans" font-weight="bold" font-size="8.2" text-anchor="end" fill="#111">4</text>
<text transform="translate(22.8 388.9) scale(0.88 1)" font-family="Liberation Sans" font-weight="bold" font-size="8.2" text-anchor="end" fill="#111">5</text>
<text transform="translate(22.8 370.1) scale(0.88 1)" font-family="Liberation Sans" font-weight="bold" font-size="8.2" text-anchor="end" fill="#111">6</text>
<text x="28.8" y="525" font-family="Liberation Sans" font-weight="bold" font-size="8" text-anchor="middle" fill="#111">G</text>
<text x="76.6" y="525" font-family="Liberation Sans" font-weight="bold" font-size="8" text-anchor="middle" fill="#111">F</text>
<text x="118.5" y="525" font-family="Liberation Sans" font-weight="bold" font-size="8" text-anchor="middle" fill="#111">Q</text>
<text x="168.6" y="525" font-family="Liberation Sans" font-weight="bold" font-size="8" text-anchor="middle" fill="#111">Z</text>
<text x="208.5" y="525" font-family="Liberation Sans" font-weight="bold" font-size="8" text-anchor="middle" fill="#111">G</text>
<text x="212.2" y="483.4" font-family="Liberation Serif" font-weight="bold" font-size="9.5" fill="#111">E<tspan dx="-0.4" font-weight="normal" font-style="italic" font-size="7" dy="2.2">f</tspan></text>
<clipPath id="cp8"><rect x="259.6" y="370.5" width="186" height="149.8"/></clipPath>
<g clip-path="url(#cp8)" fill="none" stroke-width="1.8" stroke-linejoin="round" stroke-linecap="round">
<path stroke="#6a9cda" d="M259.6 382.6C262.2 381.9 269.9 379.9 275.4 378.5C280.8 377.1 286.8 374.7 292.2 374.2C297.5 373.6 302.8 374.8 307.3 375.2C311.7 375.5 315.4 376.4 319 376.2C322.7 376 326.3 374.6 329.1 374.2C331.9 373.7 333.5 374.3 335.8 373.5C338.2 372.7 342 370.1 343.2 369.5"/>
<path stroke="#6a9cda" d="M372.7 369.5C375 369.8 381.7 370.9 386.2 371.2C390.6 371.4 395.1 370.5 399.6 370.8C404.1 371.1 408.6 372.1 413 372.8C417.5 373.6 422 374 426.5 375.2C430.9 376.4 436.7 379 439.9 380.2C443.1 381.5 444.6 382.2 445.6 382.6"/>
<path stroke="#ff7020" d="M259.6 383.6C262.2 383.4 269.9 383 275.4 382.6C280.8 382.1 286.8 381.3 292.2 380.9C297.5 380.5 302.8 380.2 307.3 380.2C311.7 380.3 314.8 380.8 319 381.2C323.2 381.7 328.5 382.4 332.4 382.9C336.4 383.4 339.2 384.2 342.5 384.2C345.9 384.2 348.7 382.8 352.6 382.9C356.5 383 361.5 384.8 366 384.6C370.5 384.4 375 383.6 379.5 381.9C383.9 380.2 389.4 375.6 392.9 374.2C396.4 372.8 397.8 373.2 400.6 373.5C403.4 373.8 406.5 375.1 409.7 376.2C412.9 377.3 415.8 379.2 419.7 380.2C423.7 381.3 428.9 382 433.2 382.6C437.5 383.1 443.5 383.4 445.6 383.6"/>
<path stroke="#9a9a1e" d="M259.6 385.9C262.2 386 269.9 385.8 275.4 386.3C280.8 386.7 286.8 387.9 292.2 388.6C297.5 389.3 303.3 390.1 307.3 390.3C311.2 390.5 312.6 390.5 315.7 389.6C318.7 388.8 322.4 385.3 325.7 385.3C329.1 385.3 332.4 388.5 335.8 389.6C339.2 390.7 343.1 391.7 345.9 392C348.7 392.2 349.2 391.4 352.6 391C355.9 390.6 361.5 390.3 366 389.6C370.5 388.9 375 387.9 379.5 386.9C383.9 385.9 389.4 384.3 392.9 383.6C396.4 382.8 397.2 382.3 400.6 382.6C404 382.8 408.7 384.5 413 385.3C417.3 386 421 386.7 426.5 386.9C431.9 387.2 442.4 386.9 445.6 386.9"/>
<path stroke="#7a4c4c" d="M259.6 393.6C262.2 393.4 269.9 391.7 275.4 392C280.8 392.3 286.8 394 292.2 395.3C297.5 396.6 302.8 399.4 307.3 399.7C311.7 400 314.8 398.2 319 397C323.2 395.8 328 393.3 332.4 392.6C336.9 392 342.5 392.6 345.9 393C349.2 393.3 348.7 394.8 352.6 394.7C356.5 394.5 363.8 392.1 369.4 392C375 391.8 381 393.5 386.2 393.6C391.4 393.8 396.1 393.8 400.6 393C405.1 392.1 408.7 389.2 413 388.6C417.3 388.1 422.5 389.1 426.5 389.6C430.4 390.2 433.3 391.3 436.5 392C439.7 392.6 444.1 393.4 445.6 393.6"/>
<path stroke="#1fc8cc" d="M259.6 401C261.7 401.2 267.7 401.6 272 402C276.3 402.5 281 403.6 285.4 403.7C289.9 403.8 295.2 403 298.9 402.7C302.5 402.4 303.9 402.3 307.3 402C310.6 401.8 315.9 401.3 319 401C322.1 400.8 322.9 401 325.7 400.4C328.5 399.7 333 397.3 335.8 397C338.6 396.7 339.7 397.7 342.5 398.7C345.3 399.6 348.7 401.9 352.6 402.7C356.5 403.6 361 403.4 366 403.7C371.1 404 377 404.5 382.8 404.4C388.6 404.3 395.6 403.7 400.6 403.1C405.6 402.4 408.7 400.9 413 400.4C417.3 399.8 421 399.6 426.5 399.7C431.9 399.8 442.4 400.8 445.6 401"/>
<path stroke="#d4a020" d="M259.6 427.9C261.7 427.3 267.7 425.5 272 424.5C276.3 423.6 281 422.4 285.4 422.2C289.9 422 295.2 422.8 298.9 423.2C302.5 423.6 303.9 424.7 307.3 424.5C310.6 424.4 314.8 423.4 319 422.2C323.2 421 328.5 418.6 332.4 417.2C336.4 415.8 339.2 414.6 342.5 413.8C345.9 413 348.7 412.8 352.6 412.1C356.5 411.4 362.1 410.7 366 409.8C369.9 408.8 372.7 407.1 376.1 406.4C379.5 405.7 382.1 405.2 386.2 405.4C390.3 405.6 396.1 407.5 400.6 407.8C405.1 408 409.3 406.7 413 407.1C416.8 407.4 419.7 408.4 423.1 409.8C426.5 411.2 429.4 412.5 433.2 415.5C436.9 418.5 443.5 425.8 445.6 427.9"/>
<path stroke="#b47ae6" d="M259.6 429.9C262.2 430 269.9 430.2 275.4 430.6C280.8 431 286.8 431.9 292.2 432.3C297.5 432.7 302.8 433 307.3 432.9C311.7 432.8 314.8 432.4 319 431.6C323.2 430.8 328.5 429.5 332.4 427.9C336.4 426.3 339.2 423.5 342.5 422.2C345.9 420.8 348.7 420.2 352.6 419.8C356.5 419.4 361.5 420.1 366 419.8C370.5 419.6 375 418.9 379.5 418.2C383.9 417.4 389.4 416.1 392.9 415.5C396.4 414.9 397.8 414.1 400.6 414.5C403.4 414.9 406.5 416.3 409.7 417.8C412.9 419.4 415.8 421.9 419.7 423.9C423.7 425.8 428.9 428.6 433.2 429.6C437.5 430.6 443.5 429.9 445.6 429.9"/>
<path stroke="#3cb371" d="M259.6 440.7C262.2 440.9 269.9 441.5 275.4 442.3C280.8 443.2 286.8 444.6 292.2 445.7C297.5 446.8 303.3 448.7 307.3 449.1C311.2 449.4 312.6 449.4 315.7 448C318.7 446.6 322.4 443.6 325.7 440.7C329.1 437.7 332.7 432.9 335.8 430.6C338.9 428.2 341.4 427.3 344.2 426.6C347 425.8 347.8 426.4 352.6 426.2C357.3 426.1 367.1 425.5 372.7 425.5C378.3 425.6 381.5 426.2 386.2 426.6C390.8 426.9 396.1 427.2 400.6 427.9C405.1 428.6 408.7 429 413 430.6C417.3 432.2 422.5 435.6 426.5 437.3C430.4 439 433.3 440.2 436.5 440.7C439.7 441.1 444.1 440.1 445.6 440"/>
<path stroke="#2b6fd8" d="M259.6 490.4C262.2 490.4 269.9 490.5 275.4 490.4C280.8 490.2 286.8 489.8 292.2 489.7C297.5 489.5 302.8 489.7 307.3 489.3C311.7 489 314.8 488.3 319 487.7C323.2 487 328.5 486 332.4 485.3C336.4 484.6 339.2 483.7 342.5 483.3C345.9 482.9 349.2 482.6 352.6 482.6C355.9 482.7 359.3 482.9 362.7 483.6C366 484.4 368.8 485.9 372.7 487C376.7 488.1 381.5 489.7 386.2 490.4C390.8 491 395.6 490.9 400.6 491C405.6 491.1 411 491 416.4 491C421.8 491 428.3 491 433.2 491C438 491 443.5 491 445.6 491"/>
<path stroke="#f04848" d="M259.6 492C262.2 492.3 269.9 493.4 275.4 493.4C280.8 493.3 286.8 492.4 292.2 491.7C297.5 491 303.3 489.6 307.3 489.3C311.2 489.1 312.6 489.6 315.7 490.4C318.7 491.1 321.8 493.4 325.7 493.7C329.6 494 334.7 492.5 339.2 492C343.6 491.6 348.1 491.1 352.6 491C357.1 491 361.5 491.2 366 491.7C370.5 492.1 375 493.1 379.5 493.7C383.9 494.3 389.4 494.8 392.9 495.1C396.4 495.3 396.7 495.4 400.6 495.4C404.5 495.4 411 494.9 416.4 495.1C421.8 495.2 428.3 496.3 433.2 496.1C438 495.8 443.5 494.1 445.6 493.7"/>
<path stroke="#555555" d="M259.6 498.7C262.2 498.9 269.9 499.8 275.4 499.4C280.8 499.1 286.8 497.3 292.2 496.7C297.5 496.2 302.8 496.3 307.3 496.1C311.7 495.8 314.8 495.1 319 495.1C323.2 495.1 328.5 495.8 332.4 496.1C336.4 496.3 339.2 496.5 342.5 496.7C345.9 497 348.7 497.6 352.6 497.7C356.5 497.9 361.5 497.5 366 497.7C370.5 498 375 499.3 379.5 499.4C383.9 499.5 389.4 498.7 392.9 498.4C396.4 498.1 396.7 497.8 400.6 497.7C404.5 497.6 411 497.6 416.4 497.7C421.8 497.9 428.3 498.5 433.2 498.7C438 499 443.5 499.3 445.6 499.4"/>
<path stroke="#7cc41e" d="M259.6 506.1C262.2 506 269.9 505.5 275.4 505.1C280.8 504.7 286.8 504.1 292.2 503.8C297.5 503.5 302.8 503.8 307.3 503.4C311.7 503.1 314.8 501.8 319 501.8C323.2 501.8 328.5 502 332.4 503.4C336.4 504.9 339.2 508.9 342.5 510.5C345.9 512.1 348.7 512.7 352.6 512.8C356.5 513 361.5 511.9 366 511.2C370.5 510.4 375 509.3 379.5 508.5C383.9 507.6 389.4 506.5 392.9 506.1C396.4 505.7 396.7 506.3 400.6 506.1C404.5 506 411 505.1 416.4 505.1C421.8 505.1 428.3 506.1 433.2 506.1C438 506.2 443.5 505.6 445.6 505.5"/>
<path stroke="#6a9cda" d="M259.6 509.5C261.7 510 267.7 512.6 272 512.8C276.3 513.1 281 511.3 285.4 511.2C289.9 511 295.2 511.4 298.9 511.8C302.5 512.2 303.9 512.6 307.3 513.5C310.6 514.4 314.8 515.9 319 517.2C323.2 518.5 330.2 520.6 332.4 521.2"/>
<path stroke="#6a9cda" d="M366 521.2C368.3 520.4 375 517.6 379.5 516.2C383.9 514.8 389.4 513.7 392.9 512.8C396.4 512 397.2 511.7 400.6 511.2C404 510.6 408.7 510.3 413 509.5C417.3 508.6 422 506.1 426.5 506.1C430.9 506.1 436.7 508.6 439.9 509.5C443.1 510.3 444.6 510.9 445.6 511.2"/>
<path stroke="#ff7020" d="M259.6 516.9C262.2 516.5 269.9 515.1 275.4 514.5C280.8 514 286.8 513.8 292.2 513.5C297.5 513.2 302.8 512.7 307.3 512.8C311.7 513 315.4 513.1 319 514.5C322.7 515.9 327.4 520.1 329.1 521.2"/>
<path stroke="#ff7020" d="M392.9 521.2C394.2 521 397.8 520.6 400.6 519.6C403.4 518.6 406.5 516 409.7 515.2C412.9 514.4 415.8 514.4 419.7 514.5C423.7 514.7 428.9 515.8 433.2 516.2C437.5 516.6 443.5 516.8 445.6 516.9"/>
<path stroke="#9a9a1e" d="M259.6 520.2C260.5 519.8 262.7 518.1 265.3 517.9C267.9 517.7 272 518.3 275.4 518.9C278.7 519.5 283.8 520.8 285.4 521.2"/>
</g>
<line x1="307.3" y1="370.5" x2="307.3" y2="520.3" stroke="#3a3a3a" stroke-width="1"/>
<line x1="352.6" y1="370.5" x2="352.6" y2="520.3" stroke="#3a3a3a" stroke-width="1"/>
<line x1="400.6" y1="370.5" x2="400.6" y2="520.3" stroke="#3a3a3a" stroke-width="1"/>
<rect x="259.6" y="370.5" width="186" height="149.8" fill="none" stroke="#3a3a3a" stroke-width="1.05"/>
<line x1="259.6" y1="520.3" x2="262.6" y2="520.3" stroke="#333" stroke-width="1"/>
<line x1="259.6" y1="510.9" x2="261.4" y2="510.9" stroke="#333" stroke-width="1"/>
<line x1="259.6" y1="501.6" x2="262.6" y2="501.6" stroke="#333" stroke-width="1"/>
<line x1="259.6" y1="492.2" x2="261.4" y2="492.2" stroke="#333" stroke-width="1"/>
<line x1="259.6" y1="482.8" x2="262.6" y2="482.8" stroke="#333" stroke-width="1"/>
<line x1="259.6" y1="473.5" x2="261.4" y2="473.5" stroke="#333" stroke-width="1"/>
<line x1="259.6" y1="464.1" x2="262.6" y2="464.1" stroke="#333" stroke-width="1"/>
<line x1="259.6" y1="454.8" x2="261.4" y2="454.8" stroke="#333" stroke-width="1"/>
<line x1="259.6" y1="445.4" x2="262.6" y2="445.4" stroke="#333" stroke-width="1"/>
<line x1="259.6" y1="436" x2="261.4" y2="436" stroke="#333" stroke-width="1"/>
<line x1="259.6" y1="426.7" x2="262.6" y2="426.7" stroke="#333" stroke-width="1"/>
<line x1="259.6" y1="417.3" x2="261.4" y2="417.3" stroke="#333" stroke-width="1"/>
<line x1="259.6" y1="407.9" x2="262.6" y2="407.9" stroke="#333" stroke-width="1"/>
<line x1="259.6" y1="398.6" x2="261.4" y2="398.6" stroke="#333" stroke-width="1"/>
<line x1="259.6" y1="389.2" x2="262.6" y2="389.2" stroke="#333" stroke-width="1"/>
<line x1="259.6" y1="379.9" x2="261.4" y2="379.9" stroke="#333" stroke-width="1"/>
<line x1="259.6" y1="370.5" x2="262.6" y2="370.5" stroke="#333" stroke-width="1"/>
<line x1="259.6" y1="483.1" x2="445.6" y2="483.1" stroke="#000" stroke-width="1.5"/>
<line x1="259.6" y1="482.1" x2="445.6" y2="482.1" stroke="#000" stroke-width="1.2" stroke-dasharray="7.5 6.5"/>
<line x1="307.3" y1="489.3" x2="307.3" y2="461.1" stroke="#0a0aff" stroke-width="2.2"/>
<path d="M307.3 452.1 L304 462.1 L307.3 461.5 L310.6 462.1 Z" fill="#0a0aff"/>
<ellipse cx="307.3" cy="449.1" rx="4.3" ry="3.5" fill="#11c811"/>
<ellipse cx="352.6" cy="481.6" rx="4.3" ry="3.5" fill="#f00"/>
<text x="352.6" y="366.5" font-family="Liberation Serif" font-weight="bold" font-size="9.5" text-anchor="middle" fill="#111">KGeSe<tspan font-size="7" dy="1.7">3</tspan></text>
<text transform="translate(243.8 440.5) rotate(-90)" font-family="Liberation Serif" font-weight="bold" font-size="12.6" text-anchor="middle" fill="#111">Energy (eV)</text>
<text transform="translate(256.2 522.9) scale(0.88 1)" font-family="Liberation Sans" font-weight="bold" font-size="8.2" text-anchor="end" fill="#111">-2</text>
<text transform="translate(256.2 504.2) scale(0.88 1)" font-family="Liberation Sans" font-weight="bold" font-size="8.2" text-anchor="end" fill="#111">-1</text>
<text transform="translate(256.2 485.4) scale(0.88 1)" font-family="Liberation Sans" font-weight="bold" font-size="8.2" text-anchor="end" fill="#111">0</text>
<text transform="translate(256.2 466.7) scale(0.88 1)" font-family="Liberation Sans" font-weight="bold" font-size="8.2" text-anchor="end" fill="#111">1</text>
<text transform="translate(256.2 448) scale(0.88 1)" font-family="Liberation Sans" font-weight="bold" font-size="8.2" text-anchor="end" fill="#111">2</text>
<text transform="translate(256.2 429.3) scale(0.88 1)" font-family="Liberation Sans" font-weight="bold" font-size="8.2" text-anchor="end" fill="#111">3</text>
<text transform="translate(256.2 410.6) scale(0.88 1)" font-family="Liberation Sans" font-weight="bold" font-size="8.2" text-anchor="end" fill="#111">4</text>
<text transform="translate(256.2 391.8) scale(0.88 1)" font-family="Liberation Sans" font-weight="bold" font-size="8.2" text-anchor="end" fill="#111">5</text>
<text transform="translate(256.2 373.1) scale(0.88 1)" font-family="Liberation Sans" font-weight="bold" font-size="8.2" text-anchor="end" fill="#111">6</text>
<text x="262.2" y="528" font-family="Liberation Sans" font-weight="bold" font-size="8" text-anchor="middle" fill="#111">G</text>
<text x="307.3" y="528" font-family="Liberation Sans" font-weight="bold" font-size="8" text-anchor="middle" fill="#111">F</text>
<text x="352.6" y="528" font-family="Liberation Sans" font-weight="bold" font-size="8" text-anchor="middle" fill="#111">Q</text>
<text x="400.6" y="528" font-family="Liberation Sans" font-weight="bold" font-size="8" text-anchor="middle" fill="#111">Z</text>
<text x="442.6" y="528" font-family="Liberation Sans" font-weight="bold" font-size="8" text-anchor="middle" fill="#111">G</text>
<text x="446.3" y="486" font-family="Liberation Serif" font-weight="bold" font-size="9.5" fill="#111">E<tspan dx="-0.4" font-weight="normal" font-style="italic" font-size="7" dy="2.2">f</tspan></text>
<clipPath id="cp9"><rect x="487.5" y="373" width="185.1" height="149.6"/></clipPath>
<g clip-path="url(#cp9)" fill="none" stroke-width="1.8" stroke-linejoin="round" stroke-linecap="round">
<path stroke="#ff7020" d="M515.4 372.8C516.3 373.1 518.8 374.2 520.5 374.2C522.2 374.2 524.7 373.1 525.5 372.8"/>
<path stroke="#ff7020" d="M559.1 372.8C560.2 373.5 562.3 375.9 565.8 376.9C569.3 377.8 576.3 378.5 580.2 378.5C584.2 378.5 586.7 377.8 589.3 376.9C591.9 375.9 594.9 373.5 596 372.8"/>
<path stroke="#ff7020" d="M619.5 372.8C621.7 373.1 628.4 374 632.3 374.2C636.2 374.4 639.6 374.4 643 374.2C646.5 374 651.4 373.1 653.1 372.8"/>
<path stroke="#2b6fd8" d="M575.9 372.8C576.6 373.1 578.8 374.2 580.2 374.2C581.6 374.2 583.6 373.1 584.3 372.8"/>
<path stroke="#9a9a1e" d="M486.9 378.5C490 378.7 499.5 378.9 505.4 379.2C511.2 379.5 516.3 379.9 522.2 380.2C528 380.5 535 380.8 540.6 380.9C546.2 381 551.5 380.4 555.7 380.9C559.9 381.3 561.7 382.2 565.8 383.6C569.9 385 576.3 389 580.2 389.3C584.2 389.6 586.1 386.7 589.3 385.3C592.5 383.9 595.5 381.8 599.4 380.9C603.3 379.9 608.9 379.9 612.8 379.5C616.7 379.2 619.6 378.5 622.9 378.5C626.1 378.5 628.9 379.4 632.3 379.5C635.6 379.7 639 379.5 643 379.5C647.1 379.5 651.5 379.7 656.5 379.5C661.4 379.4 669.9 378.7 672.6 378.5"/>
<path stroke="#7a4c4c" d="M486.9 380.9C488.3 381.3 492.2 382.6 495.3 383.6C498.4 384.6 502 386.3 505.4 386.9C508.7 387.6 512.1 386.5 515.4 387.6C518.8 388.7 522.4 391.5 525.5 393.6C528.6 395.8 531.4 398.7 533.9 400.4C536.4 402 537.5 403.3 540.6 403.7C543.7 404.1 548.2 403.3 552.4 402.7C556.6 402.2 561.2 401.5 565.8 400.4C570.4 399.2 576.3 397.1 580.2 396C584.2 394.9 585.6 394.3 589.3 393.6C593.1 393 598.3 393.1 602.7 392C607.2 390.9 611.2 387.9 616.2 386.9C621.1 385.9 627.8 386.3 632.3 385.9C636.8 385.5 639 385.1 643 384.6C647.1 384.1 651.5 383.5 656.5 382.9C661.4 382.3 669.9 381.2 672.6 380.9"/>
<path stroke="#1fc8cc" d="M486.9 392.6C488.9 392.4 495 391.1 498.6 391.3C502.3 391.5 505.4 391.6 508.7 393.6C512.1 395.7 515.4 400.8 518.8 403.7C522.2 406.7 525.2 410.4 528.9 411.4C532.5 412.5 536.7 410.5 540.6 409.8C544.5 409 548.2 408.4 552.4 407.1C556.6 405.8 561.2 403.6 565.8 402C570.4 400.5 576.3 398 580.2 398C584.2 398 586.1 401.7 589.3 402C592.5 402.4 595.5 400.8 599.4 400.4C603.3 399.9 607.3 399.5 612.8 399.4C618.3 399.2 627.2 400.4 632.3 399.7C637.3 399 640.1 396.6 643 395.3C645.9 394 647.5 392.9 649.7 392C652 391 653.7 389.6 656.5 389.6C659.3 389.6 663.8 391.5 666.5 392C669.2 392.5 671.6 392.5 672.6 392.6"/>
<path stroke="#d4a020" d="M486.9 419.8C488.9 420 494.5 420.7 498.6 420.5C502.8 420.3 507.6 419.4 512.1 418.8C516.6 418.3 520.8 417.2 525.5 417.2C530.3 417.2 536.1 419.1 540.6 418.8C545.1 418.6 548.2 416.6 552.4 415.5C556.6 414.4 561.2 413 565.8 412.1C570.4 411.3 575.2 411 580.2 410.4C585.3 409.9 590.6 409 596 408.8C601.5 408.5 606.8 408.9 612.8 408.8C618.9 408.6 627.5 408.4 632.3 408.1C637 407.8 638.4 406.4 641.4 407.1C644.3 407.8 646.7 410.2 649.7 412.1C652.8 414.1 656 417.4 659.8 418.8C663.6 420.2 670.5 420.2 672.6 420.5"/>
<path stroke="#b47ae6" d="M486.9 433.9C488.9 433.5 494.5 432.6 498.6 431.6C502.8 430.6 507.6 429.1 512.1 427.9C516.6 426.7 520.8 425.3 525.5 424.5C530.3 423.8 536.1 423.5 540.6 423.2C545.1 422.9 548.2 423.3 552.4 422.9C556.6 422.4 561.2 421.7 565.8 420.5C570.4 419.3 576.3 416.6 580.2 415.5C584.2 414.4 585.6 414.2 589.3 413.8C593.1 413.3 598.3 412.8 602.7 412.8C607.2 412.8 611.2 413.3 616.2 413.8C621.1 414.2 627.8 414.9 632.3 415.5C636.8 416 639 416 643 417.2C647.1 418.3 652.5 420.2 656.5 422.2C660.4 424.1 663.8 426.9 666.5 428.9C669.2 430.9 671.6 433.1 672.6 433.9"/>
<path stroke="#3cb371" d="M486.9 439C488.9 439.1 493.9 439.3 498.6 440C503.4 440.7 510.4 442.1 515.4 443.3C520.5 444.6 524.7 446.6 528.9 447.4C533.1 448.2 537.3 448.3 540.6 448C544 447.8 545.9 447.2 549 445.7C552.1 444.2 555.7 441.9 559.1 439C562.4 436 565.6 430.5 569.2 427.9C572.7 425.3 575.8 424 580.2 423.2C584.7 422.4 590.6 423.1 596 423.2C601.5 423.3 606.8 423.6 612.8 423.9C618.9 424.1 627.2 424 632.3 424.9C637.3 425.7 639 427.1 643 428.9C647.1 430.7 652.5 433.8 656.5 435.6C660.4 437.5 663.8 439.6 666.5 440C669.2 440.4 671.6 438.3 672.6 438"/>
<path stroke="#2b6fd8" d="M486.9 487.7C490 487.8 499.5 488.4 505.4 488.7C511.2 489 516.3 489.3 522.2 489.3C528 489.3 535 489 540.6 488.7C546.2 488.4 551 488.1 555.7 487.7C560.5 487.2 565.1 486.3 569.2 486C573.2 485.7 576.3 485.8 580.2 486C584.2 486.2 588.4 486.7 592.7 487C597 487.3 601.1 487.6 606.1 487.7C611.1 487.8 618.5 487.7 622.9 487.7C627.2 487.7 628.4 487.4 632.3 487.7C636.2 487.9 641.2 488.9 646.4 489.3C651.5 489.8 658.8 490.2 663.2 490.4C667.5 490.5 671 490.4 672.6 490.4"/>
<path stroke="#6a9cda" d="M486.9 490.4C490.5 490.5 499.8 490.9 508.7 491C517.7 491.1 532.8 491.4 540.6 491C548.5 490.7 551 489.6 555.7 489C560.5 488.4 565.1 488 569.2 487.7C573.2 487.3 575.8 486.9 580.2 487C584.7 487.1 590 488 596 488.3C602 488.7 610.1 489 616.2 489C622.2 489 625.6 488 632.3 488.3C639 488.7 649.7 490.6 656.5 491C663.2 491.5 669.9 491 672.6 491"/>
<path stroke="#f04848" d="M486.9 495.4C490 495.4 499.5 495.3 505.4 495.4C511.2 495.5 516.3 495.8 522.2 496.1C528 496.3 535 497.3 540.6 496.7C546.2 496.2 551 493.9 555.7 492.7C560.5 491.5 565.1 490.5 569.2 489.3C573.2 488.2 576.3 486.3 580.2 486C584.2 485.7 587.8 486.8 592.7 487.7C597.5 488.5 604.4 490.2 609.5 491C614.5 491.9 619.1 492.3 622.9 492.7C626.7 493.1 628.4 493.4 632.3 493.7C636.2 494 641.2 494.1 646.4 494.4C651.5 494.7 658.8 495.2 663.2 495.4C667.5 495.6 671 495.4 672.6 495.4"/>
<path stroke="#555555" d="M486.9 499.4C488.9 499.7 495 500.5 498.6 501.1C502.3 501.7 504.8 503.1 508.7 502.8C512.6 502.5 516.8 500.4 522.2 499.4C527.5 498.4 535 496.7 540.6 496.7C546.2 496.7 551 498.4 555.7 499.4C560.5 500.4 565.1 501.8 569.2 502.8C573.2 503.7 576.3 505.4 580.2 505.1C584.2 504.8 588.4 502.5 592.7 501.1C597 499.7 601.1 497.6 606.1 496.7C611.1 495.9 618.5 496 622.9 496.1C627.2 496.1 628.4 496.8 632.3 497.1C636.2 497.3 641.2 497.3 646.4 497.7C651.5 498.1 658.8 499.1 663.2 499.4C667.5 499.7 671 499.4 672.6 499.4"/>
<path stroke="#7cc41e" d="M486.9 506.1C490 506.4 499.5 507.4 505.4 507.8C511.2 508.2 516.3 508.5 522.2 508.5C528 508.5 535 508.2 540.6 507.8C546.2 507.4 551 506.6 555.7 506.1C560.5 505.7 565.1 505.4 569.2 505.1C573.2 504.8 576.3 504.6 580.2 504.5C584.2 504.3 588.4 504.7 592.7 504.5C597 504.2 601.1 503.1 606.1 502.8C611.1 502.5 618.5 502.6 622.9 502.8C627.2 502.9 628.4 503.4 632.3 503.8C636.2 504.2 641.2 504.7 646.4 505.1C651.5 505.5 658.8 506 663.2 506.1C667.5 506.3 671 506.1 672.6 506.1"/>
<path stroke="#6a9cda" d="M486.9 511.2C490 511.2 499.5 511.3 505.4 511.2C511.2 511.1 516.3 510.8 522.2 510.5C528 510.2 535 509.8 540.6 509.5C546.2 509.2 551 508.5 555.7 508.5C560.5 508.5 565.1 509.3 569.2 509.5C573.2 509.7 575.8 509.9 580.2 509.5C584.7 509.1 591.2 507.7 596 507.1C600.9 506.6 605 506 609.5 506.1C613.9 506.2 619.1 507.1 622.9 507.8C626.7 508.5 628.4 510.5 632.3 510.5C636.2 510.5 642.4 508 646.4 507.8C650.4 507.6 652.1 509 656.5 509.5C660.8 509.9 669.9 510.3 672.6 510.5"/>
<path stroke="#ff7020" d="M486.9 514.5C490 514.7 499.5 515.1 505.4 515.5C511.2 515.9 516.3 516.7 522.2 516.9C528 517.1 535 516.9 540.6 516.9C546.2 516.9 551 517 555.7 516.9C560.5 516.8 565.1 516.3 569.2 516.2C573.2 516.1 575.8 516.2 580.2 516.2C584.7 516.2 591.2 516.5 596 516.2C600.9 515.9 605 515.3 609.5 514.5C613.9 513.8 619.1 512.4 622.9 511.8C626.7 511.3 628.4 511 632.3 511.2C636.2 511.3 641.2 512.3 646.4 512.8C651.5 513.4 658.8 514.2 663.2 514.5C667.5 514.8 671 514.5 672.6 514.5"/>
<path stroke="#9a9a1e" d="M486.9 516.9C490 517 499.5 517.3 505.4 517.9C511.2 518.5 516.3 519.7 522.2 520.6C528 521.5 537.5 522.8 540.6 523.3"/>
<path stroke="#9a9a1e" d="M596 523.3C598.3 522.6 605 520.7 609.5 519.6C613.9 518.4 619.1 517.5 622.9 516.2C626.7 514.9 628.9 512.1 632.3 511.8C635.6 511.6 639 513.8 643 514.5C647.1 515.3 651.5 515.8 656.5 516.2C661.4 516.6 669.9 516.8 672.6 516.9"/>
<path stroke="#7a4c4c" d="M616.2 523.3C617.8 522.6 622.9 520.5 626.2 519.6C629.6 518.7 633 517.9 636.3 517.9C639.7 517.9 643 518.7 646.4 519.6C649.7 520.5 654.8 522.6 656.5 523.3"/>
</g>
<line x1="540.6" y1="373" x2="540.6" y2="522.6" stroke="#3a3a3a" stroke-width="1"/>
<line x1="580.3" y1="373" x2="580.3" y2="522.6" stroke="#3a3a3a" stroke-width="1"/>
<line x1="632.3" y1="373" x2="632.3" y2="522.6" stroke="#3a3a3a" stroke-width="1"/>
<rect x="487.5" y="373" width="185.1" height="149.6" fill="none" stroke="#3a3a3a" stroke-width="1.05"/>
<line x1="487.5" y1="522.6" x2="490.5" y2="522.6" stroke="#333" stroke-width="1"/>
<line x1="487.5" y1="513.2" x2="489.3" y2="513.2" stroke="#333" stroke-width="1"/>
<line x1="487.5" y1="503.9" x2="490.5" y2="503.9" stroke="#333" stroke-width="1"/>
<line x1="487.5" y1="494.6" x2="489.3" y2="494.6" stroke="#333" stroke-width="1"/>
<line x1="487.5" y1="485.2" x2="490.5" y2="485.2" stroke="#333" stroke-width="1"/>
<line x1="487.5" y1="475.9" x2="489.3" y2="475.9" stroke="#333" stroke-width="1"/>
<line x1="487.5" y1="466.5" x2="490.5" y2="466.5" stroke="#333" stroke-width="1"/>
<line x1="487.5" y1="457.1" x2="489.3" y2="457.1" stroke="#333" stroke-width="1"/>
<line x1="487.5" y1="447.8" x2="490.5" y2="447.8" stroke="#333" stroke-width="1"/>
<line x1="487.5" y1="438.5" x2="489.3" y2="438.5" stroke="#333" stroke-width="1"/>
<line x1="487.5" y1="429.1" x2="490.5" y2="429.1" stroke="#333" stroke-width="1"/>
<line x1="487.5" y1="419.8" x2="489.3" y2="419.8" stroke="#333" stroke-width="1"/>
<line x1="487.5" y1="410.4" x2="490.5" y2="410.4" stroke="#333" stroke-width="1"/>
<line x1="487.5" y1="401.1" x2="489.3" y2="401.1" stroke="#333" stroke-width="1"/>
<line x1="487.5" y1="391.7" x2="490.5" y2="391.7" stroke="#333" stroke-width="1"/>
<line x1="487.5" y1="382.4" x2="489.3" y2="382.4" stroke="#333" stroke-width="1"/>
<line x1="487.5" y1="373" x2="490.5" y2="373" stroke="#333" stroke-width="1"/>
<line x1="487.5" y1="485.5" x2="672.6" y2="485.5" stroke="#000" stroke-width="1.5"/>
<line x1="487.5" y1="484.5" x2="672.6" y2="484.5" stroke="#000" stroke-width="1.2" stroke-dasharray="7.5 6.5"/>
<line x1="540.6" y1="490.4" x2="540.6" y2="460" stroke="#0a0aff" stroke-width="2.2"/>
<path d="M540.6 451 L537.3 461 L540.6 460.4 L543.9 461 Z" fill="#0a0aff"/>
<ellipse cx="540.6" cy="448" rx="4.3" ry="3.5" fill="#11c811"/>
<ellipse cx="579.9" cy="486" rx="4.3" ry="3.5" fill="#f00"/>
<text x="580" y="369.5" font-family="Liberation Serif" font-weight="bold" font-size="9.5" text-anchor="middle" fill="#111">KSnSe<tspan font-size="7" dy="1.7">3</tspan></text>
<text transform="translate(473.8 444.2) rotate(-90)" font-family="Liberation Serif" font-weight="bold" font-size="12.6" text-anchor="middle" fill="#111">Energy (eV)</text>
<text transform="translate(484.2 525.2) scale(0.88 1)" font-family="Liberation Sans" font-weight="bold" font-size="8.2" text-anchor="end" fill="#111">-2</text>
<text transform="translate(484.2 506.5) scale(0.88 1)" font-family="Liberation Sans" font-weight="bold" font-size="8.2" text-anchor="end" fill="#111">-1</text>
<text transform="translate(484.2 487.8) scale(0.88 1)" font-family="Liberation Sans" font-weight="bold" font-size="8.2" text-anchor="end" fill="#111">0</text>
<text transform="translate(484.2 469.1) scale(0.88 1)" font-family="Liberation Sans" font-weight="bold" font-size="8.2" text-anchor="end" fill="#111">1</text>
<text transform="translate(484.2 450.4) scale(0.88 1)" font-family="Liberation Sans" font-weight="bold" font-size="8.2" text-anchor="end" fill="#111">2</text>
<text transform="translate(484.2 431.7) scale(0.88 1)" font-family="Liberation Sans" font-weight="bold" font-size="8.2" text-anchor="end" fill="#111">3</text>
<text transform="translate(484.2 413) scale(0.88 1)" font-family="Liberation Sans" font-weight="bold" font-size="8.2" text-anchor="end" fill="#111">4</text>
<text transform="translate(484.2 394.3) scale(0.88 1)" font-family="Liberation Sans" font-weight="bold" font-size="8.2" text-anchor="end" fill="#111">5</text>
<text transform="translate(484.2 375.6) scale(0.88 1)" font-family="Liberation Sans" font-weight="bold" font-size="8.2" text-anchor="end" fill="#111">6</text>
<text x="490.1" y="530" font-family="Liberation Sans" font-weight="bold" font-size="8" text-anchor="middle" fill="#111">G</text>
<text x="540.6" y="530" font-family="Liberation Sans" font-weight="bold" font-size="8" text-anchor="middle" fill="#111">F</text>
<text x="580.3" y="530" font-family="Liberation Sans" font-weight="bold" font-size="8" text-anchor="middle" fill="#111">Q</text>
<text x="632.3" y="530" font-family="Liberation Sans" font-weight="bold" font-size="8" text-anchor="middle" fill="#111">Z</text>
<text x="669.6" y="530" font-family="Liberation Sans" font-weight="bold" font-size="8" text-anchor="middle" fill="#111">G</text>
<text x="673.3" y="488.4" font-family="Liberation Serif" font-weight="bold" font-size="9.5" fill="#111">E<tspan dx="-0.4" font-weight="normal" font-style="italic" font-size="7" dy="2.2">f</tspan></text>
<clipPath id="cp10"><rect x="25.3" y="547.3" width="186.2" height="150.1"/></clipPath>
<g clip-path="url(#cp10)" fill="none" stroke-width="1.8" stroke-linejoin="round" stroke-linecap="round">
<path stroke="#6a9cda" d="M25.9 550.8C27.1 551 30.6 551.9 33.6 551.8C36.5 551.7 40.3 550.9 43.6 550.1C47 549.4 50.9 548.2 53.7 547.5C56.5 546.7 59.3 545.8 60.4 545.4"/>
<path stroke="#6a9cda" d="M188 545.4C190.3 546.1 197.5 548.4 201.5 549.5C205.4 550.5 209.9 551.4 211.5 551.8"/>
<path stroke="#ff7020" d="M25.9 559.5C27.1 559.1 30.6 557.6 33.6 556.9C36.5 556.1 40.3 555.3 43.6 555.2C47 555.1 49.8 555.8 53.7 556.2C57.6 556.6 63.8 557.3 67.2 557.5C70.5 557.8 70.5 557.8 73.9 557.5C77.2 557.3 82.8 557.1 87.3 556.2C91.8 555.2 96.3 553.1 100.7 551.8C105.2 550.5 111.3 549.1 114.2 548.5C117.1 547.8 114.8 548.1 118.2 547.8C121.5 547.5 129.4 547.2 134.3 546.8C139.2 546.4 145.5 545.7 147.7 545.4"/>
<path stroke="#ff7020" d="M174.6 545.4C176.8 546.9 183.6 552 188 554.2C192.5 556.4 197.5 557.4 201.5 558.5C205.4 559.7 209.9 560.5 211.5 560.9"/>
<path stroke="#9a9a1e" d="M25.9 561.9C27.1 561.7 30.6 561.2 33.6 560.9C36.5 560.6 39.7 559.8 43.6 560.2C47.6 560.7 53.2 562.6 57.1 563.6C61 564.6 64.4 565.8 67.2 566.3C70 566.7 70.5 566.7 73.9 566.3C77.2 565.8 83.4 564.9 87.3 563.6C91.2 562.3 94 560.1 97.4 558.5C100.7 557 104 555 107.4 554.2C110.9 553.3 113.7 553.7 118.2 553.5C122.7 553.3 130.5 552.8 134.3 552.8C138.1 552.8 137.7 552.8 141 553.5C144.4 554.2 150 555.7 154.5 556.9C158.9 558 164 560.2 167.9 560.2C171.8 560.2 175.2 557.9 178 556.9C180.8 555.9 181.9 553.9 184.7 554.2C187.5 554.5 191.4 557.4 194.7 558.5C198.1 559.7 202 560.3 204.8 560.9C207.6 561.5 210.4 561.7 211.5 561.9"/>
<path stroke="#7a4c4c" d="M25.9 563.6C28.3 563.9 35.6 564.4 40.3 565.3C44.9 566.1 49.2 567.5 53.7 568.6C58.2 569.7 63.8 571.2 67.2 572C70.5 572.7 70.5 573.4 73.9 573C77.2 572.6 82.8 571.2 87.3 569.6C91.8 568.1 96.8 565.3 100.7 563.6C104.6 561.9 107.9 560.2 110.8 559.5C113.7 558.9 114.3 559.3 118.2 559.5C122.1 559.8 129.4 560.7 134.3 561.2C139.2 561.7 143.3 562.6 147.7 562.6C152.2 562.6 157.8 561.6 161.2 561.2C164.5 560.8 165.1 560.3 167.9 560.2C170.7 560.2 174.6 561 178 560.9C181.3 560.8 184.1 559.4 188 559.5C191.9 559.7 197.5 561.2 201.5 561.9C205.4 562.6 209.9 563.3 211.5 563.6"/>
<path stroke="#1fc8cc" d="M25.9 565.3C27.7 565.4 32.8 565.5 36.9 566.3C41 567 45.9 568.1 50.4 569.6C54.8 571.1 59.9 574.1 63.8 575.3C67.7 576.6 70 577 73.9 577C77.8 577 83.4 576.2 87.3 575.3C91.2 574.5 94 572.8 97.4 572C100.7 571.1 104 570.3 107.4 570.3C110.9 570.3 114.8 571.9 118.2 572C121.5 572.1 123.8 571.7 127.6 571C131.4 570.2 136.5 568.9 141 567.6C145.5 566.3 150 563.7 154.5 562.9C158.9 562.1 164 562.8 167.9 562.9C171.8 563 174.6 563 178 563.6C181.3 564.1 184.1 566 188 566.3C191.9 566.5 197.5 565.4 201.5 565.3C205.4 565.1 209.9 565.3 211.5 565.3"/>
<path stroke="#d4a020" d="M25.9 590.4C27.7 590 32.3 588.8 36.9 587.8C41.6 586.7 48.7 585.2 53.7 584.4C58.8 583.6 63.8 583.2 67.2 583.1C70.5 582.9 70.5 583.6 73.9 583.7C77.2 583.8 82.8 584.4 87.3 583.7C91.8 583.1 96.8 581.1 100.7 579.7C104.6 578.3 107.9 576.4 110.8 575.3C113.7 574.2 114.3 573.5 118.2 573C122.1 572.4 128.8 572.3 134.3 572C139.8 571.7 145.5 571.4 151.1 571.3C156.7 571.2 164 571.5 167.9 571.3C171.8 571.1 171.8 569.6 174.6 570.3C177.4 571 181.3 573.4 184.7 575.3C188 577.3 191.4 580.1 194.7 582C198.1 584 202 585.7 204.8 587.1C207.6 588.5 210.4 589.9 211.5 590.4"/>
<path stroke="#b47ae6" d="M25.9 597.2C28.3 597.4 35.6 598.1 40.3 598.8C44.9 599.6 49.2 600.8 53.7 601.5C58.2 602.2 63.8 602.6 67.2 602.9C70.5 603.1 70.5 603 73.9 602.9C77.2 602.7 82.8 602.7 87.3 602.2C91.8 601.6 96.8 600.5 100.7 599.5C104.6 598.6 107.9 597.3 110.8 596.5C113.7 595.7 115.4 595.4 118.2 594.8C121 594.2 123.8 594 127.6 593.1C131.4 592.3 136.5 591.1 141 589.8C145.5 588.5 150 586.7 154.5 585.4C158.9 584.1 164 582 167.9 582C171.8 582 174.6 583.7 178 585.4C181.3 587.1 184.7 590 188 592.1C191.4 594.2 194.2 597.3 198.1 598.2C202 599 209.3 597.3 211.5 597.2"/>
<path stroke="#3cb371" d="M25.9 608.9C28.3 609.4 35.6 610.3 40.3 611.6C44.9 612.9 49.2 615 53.7 616.6C58.2 618.3 63.8 620.4 67.2 621.3C70.5 622.3 71.1 622.7 73.9 622.3C76.7 621.9 80.6 620.9 83.9 619C87.3 617 90.7 613.4 94 610.6C97.4 607.8 100.7 604.1 104.1 602.2C107.4 600.2 111.8 599.5 114.2 598.8C116.5 598.2 114.8 598.3 118.2 598.2C121.5 598 128.3 598 134.3 598.2C140.4 598.3 148.9 598.6 154.5 598.8C160 599.1 163.4 599.4 167.9 599.8C172.4 600.3 176.8 600.7 181.3 601.5C185.8 602.3 189.7 603.2 194.7 604.5C199.8 605.9 208.7 608.7 211.5 609.6"/>
<path stroke="#2b6fd8" d="M25.9 667.7C28.8 667.8 37.9 668.2 43.6 668.3C49.4 668.5 55.4 668.5 60.4 668.7C65.5 668.8 69.4 669.5 73.9 669.3C78.3 669.2 82.8 668.5 87.3 667.7C91.8 666.8 96.8 665.3 100.7 664.3C104.6 663.4 107.9 662.4 110.8 662C113.7 661.5 115.4 661.5 118.2 661.6C121 661.7 123.8 662 127.6 662.6C131.4 663.2 136.5 664.5 141 665.3C145.5 666.2 150 667.1 154.5 667.7C158.9 668.2 163.4 668.5 167.9 668.7C172.4 668.8 176.8 668.1 181.3 668.7C185.8 669.2 190.8 671.9 194.7 672C198.7 672.1 202 670.1 204.8 669.3C207.6 668.6 210.4 667.9 211.5 667.7"/>
<path stroke="#f04848" d="M25.9 677.7C27.7 677.2 32.8 675.5 36.9 674.4C41 673.3 45.9 671.9 50.4 671C54.8 670.2 59.9 669.6 63.8 669.3C67.7 669.1 70 669.5 73.9 669.3C77.8 669.2 82.8 669.1 87.3 668.7C91.8 668.3 96.3 667.4 100.7 667C105.2 666.5 111.3 666.2 114.2 666C117.1 665.8 114.8 665.8 118.2 666C121.5 666.2 129.4 666.6 134.3 667C139.2 667.4 143.3 667.8 147.7 668.3C152.2 668.9 157.8 669.9 161.2 670.4C164.5 670.8 164.5 670.8 167.9 671C171.2 671.2 176.8 671.2 181.3 671.7C185.8 672.1 190.8 673.1 194.7 673.7C198.7 674.3 202 674.7 204.8 675.4C207.6 676.1 210.4 677.3 211.5 677.7"/>
<path stroke="#555555" d="M25.9 677.7C27.7 677.8 32.8 678.7 36.9 678.4C41 678.1 45.9 677.1 50.4 676.1C54.8 675 59.9 673.1 63.8 672C67.7 670.9 70 669.4 73.9 669.3C77.8 669.3 83.4 670.9 87.3 671.7C91.2 672.5 94 673.8 97.4 674.4C100.7 674.9 104 674.9 107.4 675.1C110.9 675.2 113.7 675 118.2 675.1C122.7 675.1 129.4 675.3 134.3 675.4C139.2 675.4 143.3 675.1 147.7 675.4C152.2 675.7 157.8 676.7 161.2 677.1C164.5 677.5 164.5 677.5 167.9 677.7C171.2 678 176.8 678.4 181.3 678.4C185.8 678.4 189.7 678 194.7 677.7C199.8 677.5 208.7 676.9 211.5 676.7"/>
<path stroke="#7cc41e" d="M25.9 679.4C28.3 679.6 35.1 680.1 40.3 680.4C45.5 680.7 51.5 681.1 57.1 681.1C62.7 681.1 68.8 680.7 73.9 680.4C78.9 680.1 83.4 679.9 87.3 679.4C91.2 679 94 677.3 97.4 677.7C100.7 678.2 104 681 107.4 682.1C110.9 683.2 113.7 684.2 118.2 684.5C122.7 684.7 129.4 684.3 134.3 683.8C139.2 683.2 143.3 681.8 147.7 681.1C152.2 680.4 157.8 679.8 161.2 679.4C164.5 679 164.5 678.9 167.9 678.7C171.2 678.6 176.8 678.9 181.3 678.7C185.8 678.6 189.7 677.5 194.7 677.7C199.8 678 208.7 679.7 211.5 680.1"/>
<path stroke="#6a9cda" d="M25.9 682.8C28.3 683.1 35.1 684.1 40.3 684.5C45.5 684.8 51.5 685.1 57.1 685.1C62.7 685.1 68.8 684.6 73.9 684.5C78.9 684.3 82.8 684.3 87.3 684.5C91.8 684.6 96.3 684.6 100.7 685.1C105.2 685.7 111.3 687.2 114.2 687.8C117.1 688.4 116 688.9 118.2 688.8C120.4 688.7 123.8 687.9 127.6 687.1C131.4 686.4 136.5 685 141 684.5C145.5 683.9 150 683.9 154.5 683.8C158.9 683.7 163.4 684.1 167.9 683.8C172.4 683.4 176.8 681.9 181.3 681.8C185.8 681.6 189.7 682.4 194.7 682.8C199.8 683.1 208.7 683.6 211.5 683.8"/>
<path stroke="#ff7020" d="M25.9 687.1C28.8 687.4 38.4 688.4 43.6 688.5C48.9 688.6 52 687.9 57.1 687.8C62.1 687.7 68.8 687.7 73.9 687.8C78.9 687.9 82.8 688 87.3 688.5C91.8 688.9 96.8 689.7 100.7 690.5C104.6 691.3 107.9 692.7 110.8 693.5C113.7 694.4 116.5 694.8 118.2 695.5C119.9 696.3 120.4 697.5 120.9 697.9"/>
<path stroke="#ff7020" d="M125.9 697.9C128.4 697.3 136.3 695.8 141 694.5C145.8 693.3 150 691.7 154.5 690.5C158.9 689.3 163.4 687.6 167.9 687.1C172.4 686.7 176.8 687.5 181.3 687.8C185.8 688.1 189.7 688.5 194.7 688.8C199.8 689.1 208.7 689.4 211.5 689.5"/>
<path stroke="#9a9a1e" d="M25.9 690.5C28.8 690.9 38.4 692.2 43.6 692.8C48.9 693.5 52 694.1 57.1 694.5C62.1 694.9 68.8 695.1 73.9 695.2C78.9 695.3 82.8 694.7 87.3 695.2C91.8 695.6 98.5 697.4 100.7 697.9"/>
<path stroke="#9a9a1e" d="M147.7 697.9C150 697.3 157.8 695.4 161.2 694.5C164.5 693.7 164.5 693.4 167.9 692.8C171.2 692.3 176.8 691.6 181.3 691.2C185.8 690.7 189.7 690.2 194.7 690.2C199.8 690.2 208.7 691 211.5 691.2"/>
<path stroke="#7a4c4c" d="M25.9 697.9C29.9 697.5 42.4 696.1 50.4 695.5C58.4 695 67.7 694.1 73.9 694.5C80 694.9 85.1 697.3 87.3 697.9"/>
</g>
<line x1="73.9" y1="547.3" x2="73.9" y2="697.4" stroke="#3a3a3a" stroke-width="1"/>
<line x1="118.2" y1="547.3" x2="118.2" y2="697.4" stroke="#3a3a3a" stroke-width="1"/>
<line x1="167.9" y1="547.3" x2="167.9" y2="697.4" stroke="#3a3a3a" stroke-width="1"/>
<rect x="25.3" y="547.3" width="186.2" height="150.1" fill="none" stroke="#3a3a3a" stroke-width="1.05"/>
<line x1="25.3" y1="697.4" x2="28.3" y2="697.4" stroke="#333" stroke-width="1"/>
<line x1="25.3" y1="688" x2="27.1" y2="688" stroke="#333" stroke-width="1"/>
<line x1="25.3" y1="678.6" x2="28.3" y2="678.6" stroke="#333" stroke-width="1"/>
<line x1="25.3" y1="669.3" x2="27.1" y2="669.3" stroke="#333" stroke-width="1"/>
<line x1="25.3" y1="659.9" x2="28.3" y2="659.9" stroke="#333" stroke-width="1"/>
<line x1="25.3" y1="650.5" x2="27.1" y2="650.5" stroke="#333" stroke-width="1"/>
<line x1="25.3" y1="641.1" x2="28.3" y2="641.1" stroke="#333" stroke-width="1"/>
<line x1="25.3" y1="631.7" x2="27.1" y2="631.7" stroke="#333" stroke-width="1"/>
<line x1="25.3" y1="622.3" x2="28.3" y2="622.3" stroke="#333" stroke-width="1"/>
<line x1="25.3" y1="613" x2="27.1" y2="613" stroke="#333" stroke-width="1"/>
<line x1="25.3" y1="603.6" x2="28.3" y2="603.6" stroke="#333" stroke-width="1"/>
<line x1="25.3" y1="594.2" x2="27.1" y2="594.2" stroke="#333" stroke-width="1"/>
<line x1="25.3" y1="584.8" x2="28.3" y2="584.8" stroke="#333" stroke-width="1"/>
<line x1="25.3" y1="575.4" x2="27.1" y2="575.4" stroke="#333" stroke-width="1"/>
<line x1="25.3" y1="566.1" x2="28.3" y2="566.1" stroke="#333" stroke-width="1"/>
<line x1="25.3" y1="556.7" x2="27.1" y2="556.7" stroke="#333" stroke-width="1"/>
<line x1="25.3" y1="547.3" x2="28.3" y2="547.3" stroke="#333" stroke-width="1"/>
<line x1="25.3" y1="660.1" x2="211.5" y2="660.1" stroke="#000" stroke-width="1.5"/>
<line x1="25.3" y1="659.1" x2="211.5" y2="659.1" stroke="#000" stroke-width="1.2" stroke-dasharray="7.5 6.5"/>
<line x1="73.9" y1="667.7" x2="73.9" y2="633.7" stroke="#0a0aff" stroke-width="2.2"/>
<path d="M73.9 624.7 L70.6 634.7 L73.9 634.1 L77.2 634.7 Z" fill="#0a0aff"/>
<ellipse cx="73.9" cy="621.7" rx="4.3" ry="3.5" fill="#11c811"/>
<ellipse cx="118.2" cy="659.9" rx="4.3" ry="3.5" fill="#f00"/>
<text x="119.2" y="543.5" font-family="Liberation Serif" font-weight="bold" font-size="9.5" text-anchor="middle" fill="#111">RbSiSe<tspan font-size="7" dy="1.7">3</tspan></text>
<text transform="translate(10.2 617.6) rotate(-90)" font-family="Liberation Serif" font-weight="bold" font-size="12.6" text-anchor="middle" fill="#111">Energy (eV)</text>
<text transform="translate(22.8 700) scale(0.88 1)" font-family="Liberation Sans" font-weight="bold" font-size="8.2" text-anchor="end" fill="#111">-2</text>
<text transform="translate(22.8 681.2) scale(0.88 1)" font-family="Liberation Sans" font-weight="bold" font-size="8.2" text-anchor="end" fill="#111">-1</text>
<text transform="translate(22.8 662.5) scale(0.88 1)" font-family="Liberation Sans" font-weight="bold" font-size="8.2" text-anchor="end" fill="#111">0</text>
<text transform="translate(22.8 643.7) scale(0.88 1)" font-family="Liberation Sans" font-weight="bold" font-size="8.2" text-anchor="end" fill="#111">1</text>
<text transform="translate(22.8 624.9) scale(0.88 1)" font-family="Liberation Sans" font-weight="bold" font-size="8.2" text-anchor="end" fill="#111">2</text>
<text transform="translate(22.8 606.2) scale(0.88 1)" font-family="Liberation Sans" font-weight="bold" font-size="8.2" text-anchor="end" fill="#111">3</text>
<text transform="translate(22.8 587.4) scale(0.88 1)" font-family="Liberation Sans" font-weight="bold" font-size="8.2" text-anchor="end" fill="#111">4</text>
<text transform="translate(22.8 568.7) scale(0.88 1)" font-family="Liberation Sans" font-weight="bold" font-size="8.2" text-anchor="end" fill="#111">5</text>
<text transform="translate(22.8 549.9) scale(0.88 1)" font-family="Liberation Sans" font-weight="bold" font-size="8.2" text-anchor="end" fill="#111">6</text>
<text x="27.9" y="705.6" font-family="Liberation Sans" font-weight="bold" font-size="8" text-anchor="middle" fill="#111">G</text>
<text x="73.9" y="705.6" font-family="Liberation Sans" font-weight="bold" font-size="8" text-anchor="middle" fill="#111">F</text>
<text x="118.2" y="705.6" font-family="Liberation Sans" font-weight="bold" font-size="8" text-anchor="middle" fill="#111">Q</text>
<text x="167.9" y="705.6" font-family="Liberation Sans" font-weight="bold" font-size="8" text-anchor="middle" fill="#111">Z</text>
<text x="208.5" y="705.6" font-family="Liberation Sans" font-weight="bold" font-size="8" text-anchor="middle" fill="#111">G</text>
<text x="212.2" y="663.1" font-family="Liberation Serif" font-weight="bold" font-size="9.5" fill="#111">E<tspan dx="-0.4" font-weight="normal" font-style="italic" font-size="7" dy="2.2">f</tspan></text>
<clipPath id="cp11"><rect x="258.8" y="545.5" width="186.8" height="149.8"/></clipPath>
<g clip-path="url(#cp11)" fill="none" stroke-width="1.8" stroke-linejoin="round" stroke-linecap="round">
<path stroke="#6a9cda" d="M259.6 550.1C262.2 550 269.9 549.7 275.4 549.1C280.8 548.6 286.6 547.3 292.2 546.8C297.7 546.2 303.3 546.2 308.9 545.8C314.5 545.4 322.9 544.7 325.7 544.4"/>
<path stroke="#6a9cda" d="M406.3 544.4C408.6 545.1 415.3 547.7 419.7 548.5C424.2 549.3 428.9 548.9 433.2 549.1C437.5 549.4 443.5 550 445.6 550.1"/>
<path stroke="#ff7020" d="M259.6 556.9C260.5 557.1 263.2 559 265.3 558.5C267.4 558.1 269.2 554.9 272 554.2C274.8 553.4 278.7 554 282.1 554.2C285.4 554.3 287.7 555 292.2 555.2C296.6 555.4 303.3 555.2 308.9 555.2C314.5 555.2 321.3 555.4 325.7 555.2C330.2 555 332.4 554.8 335.8 554.2C339.2 553.5 343.1 551.7 345.9 551.2C348.7 550.6 349.2 551 352.6 550.8C355.9 550.6 361.5 550.5 366 550.1C370.5 549.8 375 548.5 379.5 548.5C383.9 548.5 389.1 549.8 392.9 550.1C396.7 550.5 398.4 550.3 402.3 550.8C406.2 551.4 411.8 552.6 416.4 553.5C421 554.4 424.9 555.6 429.8 556.2C434.7 556.7 443 556.7 445.6 556.9"/>
<path stroke="#9a9a1e" d="M259.6 560.2C262.2 560.3 271.1 560.9 275.4 560.9C279.7 560.9 282.1 559.2 285.4 560.2C288.8 561.2 292.7 565 295.5 566.9C298.3 568.9 300 571 302.2 572C304.5 573 306.1 573.5 308.9 573C311.7 572.4 316.2 570.3 319 568.6C321.8 566.9 322.4 564.2 325.7 562.6C329.1 560.9 335.8 560.1 339.2 558.5C342.5 557 343.6 554.5 345.9 553.5C348.1 552.6 349.2 552.9 352.6 552.8C355.9 552.7 361.5 552.2 366 552.8C370.5 553.5 375 555.4 379.5 556.9C383.9 558.4 389.1 560.7 392.9 561.9C396.7 563.1 398.9 564.4 402.3 564.2C405.6 564.1 409 561.7 413 560.9C417.1 560.1 422.5 559.4 426.5 559.5C430.4 559.7 433.3 561.7 436.5 561.9C439.7 562.1 444.1 561.1 445.6 560.9"/>
<path stroke="#7a4c4c" d="M259.6 565.3C261.1 565.1 265.5 564.6 268.6 564.6C271.8 564.6 274.8 564.1 278.7 565.3C282.6 566.4 287.1 569.9 292.2 571.3C297.2 572.7 304.5 573.4 308.9 573.6C313.4 573.9 315.7 574 319 573C322.4 572 325.2 568.9 329.1 567.6C333 566.3 338.6 565.1 342.5 565.3C346.4 565.4 348.7 567.9 352.6 568.6C356.5 569.3 361.5 569.1 366 569.3C370.5 569.5 375 570 379.5 569.6C383.9 569.2 389.1 567.8 392.9 566.9C396.7 566.1 398.9 565.3 402.3 564.6C405.6 563.9 409 563.4 413 562.9C417.1 562.5 422.5 561.8 426.5 561.9C430.4 562 433.3 563 436.5 563.6C439.7 564.1 444.1 565 445.6 565.3"/>
<path stroke="#1fc8cc" d="M259.6 571.3C262.2 571.5 269.9 571.7 275.4 572.6C280.8 573.6 286.6 575.8 292.2 577C297.7 578.2 303.9 579.8 308.9 579.7C314 579.6 317.9 577.6 322.4 576.3C326.8 575 330.8 572.7 335.8 572C340.8 571.2 347.6 572 352.6 572C357.6 572 360.4 572.1 366 572C371.6 571.8 380.1 571.1 386.2 571C392.2 570.8 397.2 570.8 402.3 571C407.3 571.1 411.8 571.8 416.4 572C421 572.1 424.9 572.1 429.8 572C434.7 571.8 443 571.1 445.6 571"/>
<path stroke="#d4a020" d="M259.6 597.2C262.2 597.4 269.9 598.4 275.4 598.8C280.8 599.2 286.6 599.5 292.2 599.5C297.7 599.5 303.9 599.1 308.9 598.8C314 598.6 317.9 599 322.4 598.2C326.8 597.3 330.8 595.2 335.8 593.8C340.8 592.4 347.6 590.8 352.6 589.8C357.6 588.8 360.4 588.6 366 587.8C371.6 586.9 381.1 584.8 386.2 584.4C391.2 584 393.6 585.1 396.2 585.4C398.9 585.7 400 587.1 402.3 586.4C404.5 585.7 406.8 581.7 409.7 581.4C412.6 581.1 416.4 582.9 419.7 584.7C423.1 586.5 426.5 589.9 429.8 592.1C433.2 594.4 437.3 597.2 439.9 598.2C442.5 599.2 444.6 598.2 445.6 598.2"/>
<path stroke="#b47ae6" d="M259.6 608.2C262.2 607.8 269.9 606.3 275.4 605.5C280.8 604.8 286.6 604.3 292.2 603.9C297.7 603.5 303.9 603.5 308.9 603.2C314 602.9 317.9 602.6 322.4 602.2C326.8 601.7 330.8 601.1 335.8 600.5C340.8 600 347.6 599.5 352.6 598.8C357.6 598.2 361.5 597.4 366 596.5C370.5 595.5 375 594.4 379.5 593.1C383.9 591.8 389.1 590 392.9 588.8C396.7 587.5 399.5 584.8 402.3 585.4C405.1 586 406.8 589.6 409.7 592.1C412.6 594.6 415.8 598.6 419.7 600.5C423.7 602.5 428.9 602.6 433.2 603.9C437.5 605.2 443.5 607.5 445.6 608.2"/>
<path stroke="#3cb371" d="M259.6 620C261.7 620.4 267.7 621.1 272 622.3C276.3 623.6 281 625.7 285.4 627.4C289.9 629.1 295 631.1 298.9 632.4C302.8 633.7 305.9 635.1 308.9 635.1C312 635.1 314.5 634.3 317.3 632.4C320.1 630.6 322.7 627.4 325.7 624C328.8 620.7 332.4 615.5 335.8 612.3C339.2 609 343.1 606.5 345.9 604.5C348.7 602.6 349.2 601.2 352.6 600.5C355.9 599.8 361 600.4 366 600.5C371.1 600.6 376.8 601 382.8 601.2C388.9 601.4 397.2 600.8 402.3 601.5C407.3 602.2 409 603 413 605.5C417.1 608.1 422.5 614.2 426.5 616.6C430.4 619 433.3 619.3 436.5 620C439.7 620.7 444.1 620.5 445.6 620.7"/>
<path stroke="#2b6fd8" d="M259.6 666C262.2 666.2 269.9 666.7 275.4 667C280.8 667.3 286.6 667.6 292.2 667.7C297.7 667.8 303.9 668.2 308.9 667.7C314 667.1 317.9 665.5 322.4 664.3C326.8 663.1 330.8 661.3 335.8 660.3C340.8 659.3 347.6 658.4 352.6 658.3C357.6 658.1 361.5 658.5 366 659.3C370.5 660 375 661.7 379.5 662.6C383.9 663.6 389.1 664.5 392.9 665C396.7 665.4 398.9 665.1 402.3 665.3C405.6 665.5 409 665.5 413 666C417.1 666.5 421 668.3 426.5 668.3C431.9 668.3 442.4 666.4 445.6 666"/>
<path stroke="#f04848" d="M259.6 671C262.2 670.9 269.9 670.6 275.4 670.4C280.8 670.1 286.6 669.6 292.2 669.3C297.7 669.1 303.3 669 308.9 668.7C314.5 668.4 320.7 667.9 325.7 667.7C330.8 667.4 334.7 667.3 339.2 667C343.6 666.7 348.1 666 352.6 666C357.1 665.9 361.5 666.4 366 666.7C370.5 666.9 375 667.2 379.5 667.7C383.9 668.1 389.1 669 392.9 669.3C396.7 669.7 398.4 669.8 402.3 670C406.2 670.2 411.8 670 416.4 670.4C421 670.7 424.9 671.5 429.8 672C434.7 672.5 443 673.1 445.6 673.4"/>
<path stroke="#555555" d="M259.6 673.7C262.2 674.3 269.9 677.2 275.4 677.1C280.8 676.9 286.6 674.1 292.2 672.7C297.7 671.3 304.5 669.2 308.9 668.7C313.4 668.1 315.7 668.5 319 669.3C322.4 670.2 325.7 672.8 329.1 673.7C332.4 674.7 335.2 674.7 339.2 675.1C343.1 675.4 347.6 676 352.6 676.1C357.6 676.1 363.8 675.7 369.4 675.4C375 675.1 380.7 674.7 386.2 674.4C391.7 674.1 396.7 673.7 402.3 673.7C407.9 673.7 414.6 674.4 419.7 674.4C424.9 674.4 428.9 673.5 433.2 673.7C437.5 673.9 443.5 675.1 445.6 675.4"/>
<path stroke="#7cc41e" d="M259.6 678.7C262.2 679 269.9 680.1 275.4 680.1C280.8 680 286.6 678.5 292.2 678.4C297.7 678.3 303.9 679.5 308.9 679.4C314 679.3 319 678.2 322.4 677.7C325.7 677.3 326.3 676.2 329.1 676.7C331.9 677.3 335.2 679.8 339.2 681.1C343.1 682.4 348.1 684.6 352.6 684.5C357.1 684.3 361.5 681.3 366 680.1C370.5 678.9 375 677.5 379.5 677.1C383.9 676.7 389.1 677.6 392.9 677.7C396.7 677.8 398.4 677.6 402.3 677.7C406.2 677.8 411.2 678.1 416.4 678.4C421.5 678.7 428.3 679.2 433.2 679.4C438 679.6 443.5 679.4 445.6 679.4"/>
<path stroke="#6a9cda" d="M259.6 681.8C262.2 682 269.9 682.9 275.4 683.1C280.8 683.3 286.6 682.8 292.2 682.8C297.7 682.7 303.9 683.1 308.9 682.8C314 682.5 317.9 681.1 322.4 681.1C326.8 681.1 330.8 682 335.8 682.8C340.8 683.5 347.6 685.5 352.6 685.5C357.6 685.5 361.5 683.6 366 682.8C370.5 681.9 375 680.7 379.5 680.4C383.9 680.1 389.1 680.7 392.9 681.1C396.7 681.5 398.4 682.5 402.3 682.8C406.2 683.1 411.2 682.8 416.4 682.8C421.5 682.8 428.3 682.6 433.2 682.8C438 682.9 443.5 683.6 445.6 683.8"/>
<path stroke="#ff7020" d="M259.6 686.8C262.2 686.7 269.9 686.2 275.4 686.1C280.8 686 286.6 685.9 292.2 686.1C297.7 686.4 303.9 687.3 308.9 687.8C314 688.4 317.9 688.8 322.4 689.5C326.8 690.2 330.8 691.3 335.8 692.2C340.8 693 347.6 694.1 352.6 694.5C357.6 694.9 361.5 695.2 366 694.5C370.5 693.9 375 691.6 379.5 690.5C383.9 689.4 389.1 688.4 392.9 687.8C396.7 687.2 398.9 687.3 402.3 686.8C405.6 686.4 409 685.2 413 685.1C417.1 685 421 685.7 426.5 686.1C431.9 686.6 442.4 687.5 445.6 687.8"/>
<path stroke="#9a9a1e" d="M259.6 686.1C261.1 686.4 264.9 687.1 268.6 687.8C272.4 688.5 278.2 689.8 282.1 690.5C286 691.2 287.7 691.4 292.2 691.8C296.6 692.2 303.9 692.2 308.9 692.8C314 693.5 320.1 695.4 322.4 695.9"/>
<path stroke="#9a9a1e" d="M386.2 695.9C388.9 695.1 397.2 692.5 402.3 691.2C407.3 689.8 411.8 688.6 416.4 687.8C421 687 424.9 686.2 429.8 686.1C434.7 686 443 687 445.6 687.1"/>
<path stroke="#7a4c4c" d="M278.7 695.9C281 695.5 287.1 693.9 292.2 693.5C297.2 693.1 303.3 693.1 308.9 693.5C314.5 693.9 322.9 695.5 325.7 695.9"/>
<path stroke="#7a4c4c" d="M396.2 695.9C397.9 695.4 403 692.8 406.3 692.8C409.7 692.8 414.7 695.4 416.4 695.9"/>
</g>
<line x1="308.9" y1="545.5" x2="308.9" y2="695.3" stroke="#3a3a3a" stroke-width="1"/>
<line x1="352.6" y1="545.5" x2="352.6" y2="695.3" stroke="#3a3a3a" stroke-width="1"/>
<line x1="402.3" y1="545.5" x2="402.3" y2="695.3" stroke="#3a3a3a" stroke-width="1"/>
<rect x="258.8" y="545.5" width="186.8" height="149.8" fill="none" stroke="#3a3a3a" stroke-width="1.05"/>
<line x1="258.8" y1="695.3" x2="261.8" y2="695.3" stroke="#333" stroke-width="1"/>
<line x1="258.8" y1="685.9" x2="260.6" y2="685.9" stroke="#333" stroke-width="1"/>
<line x1="258.8" y1="676.6" x2="261.8" y2="676.6" stroke="#333" stroke-width="1"/>
<line x1="258.8" y1="667.2" x2="260.6" y2="667.2" stroke="#333" stroke-width="1"/>
<line x1="258.8" y1="657.8" x2="261.8" y2="657.8" stroke="#333" stroke-width="1"/>
<line x1="258.8" y1="648.5" x2="260.6" y2="648.5" stroke="#333" stroke-width="1"/>
<line x1="258.8" y1="639.1" x2="261.8" y2="639.1" stroke="#333" stroke-width="1"/>
<line x1="258.8" y1="629.8" x2="260.6" y2="629.8" stroke="#333" stroke-width="1"/>
<line x1="258.8" y1="620.4" x2="261.8" y2="620.4" stroke="#333" stroke-width="1"/>
<line x1="258.8" y1="611" x2="260.6" y2="611" stroke="#333" stroke-width="1"/>
<line x1="258.8" y1="601.7" x2="261.8" y2="601.7" stroke="#333" stroke-width="1"/>
<line x1="258.8" y1="592.3" x2="260.6" y2="592.3" stroke="#333" stroke-width="1"/>
<line x1="258.8" y1="583" x2="261.8" y2="583" stroke="#333" stroke-width="1"/>
<line x1="258.8" y1="573.6" x2="260.6" y2="573.6" stroke="#333" stroke-width="1"/>
<line x1="258.8" y1="564.2" x2="261.8" y2="564.2" stroke="#333" stroke-width="1"/>
<line x1="258.8" y1="554.9" x2="260.6" y2="554.9" stroke="#333" stroke-width="1"/>
<line x1="258.8" y1="545.5" x2="261.8" y2="545.5" stroke="#333" stroke-width="1"/>
<line x1="258.8" y1="658.1" x2="445.6" y2="658.1" stroke="#000" stroke-width="1.5"/>
<line x1="258.8" y1="657.1" x2="445.6" y2="657.1" stroke="#000" stroke-width="1.2" stroke-dasharray="7.5 6.5"/>
<line x1="308.9" y1="667" x2="308.9" y2="647.1" stroke="#0a0aff" stroke-width="2.2"/>
<path d="M308.9 638.1 L305.6 648.1 L308.9 647.5 L312.2 648.1 Z" fill="#0a0aff"/>
<ellipse cx="308.9" cy="635.1" rx="4.3" ry="3.5" fill="#11c811"/>
<ellipse cx="351.9" cy="658.3" rx="4.3" ry="3.5" fill="#f00"/>
<text x="352.8" y="541.7" font-family="Liberation Serif" font-weight="bold" font-size="9.5" text-anchor="middle" fill="#111">RbGeSe<tspan font-size="7" dy="1.7">3</tspan></text>
<text transform="translate(242.9 614.7) rotate(-90)" font-family="Liberation Serif" font-weight="bold" font-size="12.6" text-anchor="middle" fill="#111">Energy (eV)</text>
<text transform="translate(256.2 697.9) scale(0.88 1)" font-family="Liberation Sans" font-weight="bold" font-size="8.2" text-anchor="end" fill="#111">-2</text>
<text transform="translate(256.2 679.2) scale(0.88 1)" font-family="Liberation Sans" font-weight="bold" font-size="8.2" text-anchor="end" fill="#111">-1</text>
<text transform="translate(256.2 660.4) scale(0.88 1)" font-family="Liberation Sans" font-weight="bold" font-size="8.2" text-anchor="end" fill="#111">0</text>
<text transform="translate(256.2 641.7) scale(0.88 1)" font-family="Liberation Sans" font-weight="bold" font-size="8.2" text-anchor="end" fill="#111">1</text>
<text transform="translate(256.2 623) scale(0.88 1)" font-family="Liberation Sans" font-weight="bold" font-size="8.2" text-anchor="end" fill="#111">2</text>
<text transform="translate(256.2 604.3) scale(0.88 1)" font-family="Liberation Sans" font-weight="bold" font-size="8.2" text-anchor="end" fill="#111">3</text>
<text transform="translate(256.2 585.6) scale(0.88 1)" font-family="Liberation Sans" font-weight="bold" font-size="8.2" text-anchor="end" fill="#111">4</text>
<text transform="translate(256.2 566.8) scale(0.88 1)" font-family="Liberation Sans" font-weight="bold" font-size="8.2" text-anchor="end" fill="#111">5</text>
<text transform="translate(256.2 548.1) scale(0.88 1)" font-family="Liberation Sans" font-weight="bold" font-size="8.2" text-anchor="end" fill="#111">6</text>
<text x="262" y="703" font-family="Liberation Sans" font-weight="bold" font-size="8" text-anchor="middle" fill="#111">G</text>
<text x="315.6" y="703" font-family="Liberation Sans" font-weight="bold" font-size="8" text-anchor="middle" fill="#111">F</text>
<text x="352" y="703" font-family="Liberation Sans" font-weight="bold" font-size="8" text-anchor="middle" fill="#111">Q</text>
<text x="409" y="703" font-family="Liberation Sans" font-weight="bold" font-size="8" text-anchor="middle" fill="#111">Z</text>
<text x="442.6" y="703" font-family="Liberation Sans" font-weight="bold" font-size="8" text-anchor="middle" fill="#111">G</text>
<text x="446.3" y="661" font-family="Liberation Serif" font-weight="bold" font-size="9.5" fill="#111">E<tspan dx="-0.4" font-weight="normal" font-style="italic" font-size="7" dy="2.2">f</tspan></text>
<clipPath id="cp12"><rect x="484.2" y="547.5" width="186.4" height="150"/></clipPath>
<g clip-path="url(#cp12)" fill="none" stroke-width="1.8" stroke-linejoin="round" stroke-linecap="round">
<path stroke="#6a9cda" d="M484.5 547.5C486.9 547.3 494.1 546.5 498.6 546.8C503.2 547.1 508.2 548.8 512.1 549.5C516 550.1 518.2 550.7 522.2 550.8C526.1 550.9 531.1 550.4 535.6 550.1C540.1 549.9 544.5 549.4 549 549.1C553.5 548.9 557.6 548.7 562.4 548.5C567.3 548.2 573.4 547.6 577.9 547.5C582.4 547.3 585.2 547.6 589.3 547.5C593.4 547.3 598.8 546.5 602.7 546.8C606.7 547.1 608.4 548.9 612.8 549.5C617.2 550 623.9 549.9 628.9 550.1C634 550.4 638.4 550.9 643 550.8C647.6 550.7 651.9 549.8 656.5 549.5C661 549.2 668.2 549.2 670.6 549.1"/>
<path stroke="#7cc41e" d="M575.2 546.1C575.9 546.3 577.9 547.5 579.2 547.5C580.6 547.5 582.6 546.3 583.3 546.1"/>
<path stroke="#ff7020" d="M484.5 555.2C486.9 555.6 493.5 556.8 498.6 557.5C503.8 558.3 509.3 559.1 515.4 559.5C521.6 560 530 560.2 535.6 560.2C541.2 560.2 544.5 559.9 549 559.5C553.5 559.2 557.6 557.5 562.4 557.9C567.3 558.3 573.4 561.8 577.9 561.9C582.4 562 585.2 559.8 589.3 558.5C593.4 557.3 598.3 555.3 602.7 554.2C607.2 553.1 611.8 551.5 616.2 551.8C620.5 552.2 624.5 555.7 628.9 556.2C633.4 556.6 638.4 554.7 643 554.5C647.6 554.3 651.9 555.1 656.5 555.2C661 555.3 668.2 555.2 670.6 555.2"/>
<path stroke="#9a9a1e" d="M484.5 558.5C485.8 558.8 489 559.4 491.9 560.2C494.8 561.1 499.2 563.1 502 563.6C504.8 564 505.9 562.3 508.7 562.9C511.5 563.5 515.4 564.9 518.8 566.9C522.2 569 526.1 573.5 528.9 575.3C531.7 577.1 532.8 577.7 535.6 577.7C538.4 577.7 542.3 577 545.7 575.3C549 573.6 552.4 569.6 555.7 567.6C559.1 565.6 562.1 563.6 565.8 563.6C569.5 563.6 574 567.3 577.9 567.6C581.8 567.9 585.2 566.8 589.3 565.3C593.4 563.7 598.3 559.9 602.7 558.5C607.2 557.1 611.8 557.1 616.2 556.9C620.5 556.6 624.5 556.6 628.9 556.9C633.4 557.1 638.4 558.3 643 558.5C647.6 558.8 651.9 558.7 656.5 558.5C661 558.4 668.2 557.7 670.6 557.5"/>
<path stroke="#7a4c4c" d="M484.5 567.9C486.3 567.8 492.4 567.1 495.3 566.9C498.2 566.8 499.8 565.5 502 566.9C504.2 568.3 505.9 573 508.7 575.3C511.5 577.7 516 579.8 518.8 581C521.6 582.3 522.7 582.9 525.5 582.7C528.3 582.5 531.7 580.6 535.6 579.7C539.5 578.7 544.5 578.3 549 577C553.5 575.7 557.6 573.5 562.4 572C567.3 570.5 573.4 568.3 577.9 567.9C582.4 567.5 585.2 569.1 589.3 569.6C593.4 570.2 598.3 571.1 602.7 571.3C607.2 571.5 611.8 571.4 616.2 571C620.5 570.5 625 569.4 628.9 568.6C632.8 567.8 636.2 567.2 639.7 566.3C643.1 565.3 646.9 563.4 649.7 562.9C652.5 562.5 654.2 563 656.5 563.6C658.7 564.1 660.8 565.5 663.2 566.3C665.5 567 669.3 567.7 670.6 567.9"/>
<path stroke="#1fc8cc" d="M484.5 593.8C486.9 593.7 493.5 594 498.6 593.1C503.8 592.3 509.3 589.7 515.4 588.8C521.6 587.9 530 588.1 535.6 587.8C541.2 587.4 544.5 587.2 549 586.4C553.5 585.6 557.6 584.3 562.4 583.1C567.3 581.8 573.4 579.4 577.9 578.7C582.4 578 585.2 578.4 589.3 578.7C593.4 579 598.3 580.1 602.7 580.4C607.2 580.6 611.8 580.4 616.2 580.4C620.5 580.4 625.6 580.9 628.9 580.4C632.3 579.8 633.4 576.4 636.3 577C639.2 577.6 643 581.5 646.4 583.7C649.7 586 652.4 588.8 656.5 590.4C660.5 592.1 668.2 593.2 670.6 593.8"/>
<path stroke="#d4a020" d="M484.5 604.5C486.9 604.1 493.5 603 498.6 602.2C503.8 601.4 509.3 600.1 515.4 599.5C521.6 598.9 530 599.2 535.6 598.8C541.2 598.4 544.5 597.8 549 597.2C553.5 596.5 557.6 595.8 562.4 594.8C567.3 593.8 573.4 592.1 577.9 591.1C582.4 590.1 585.2 589.9 589.3 588.8C593.4 587.6 598.3 585.3 602.7 584.4C607.2 583.4 611.8 583.3 616.2 583.1C620.5 582.8 625.6 582.4 628.9 583.1C632.3 583.7 632.8 585.3 636.3 587.1C639.8 588.9 645.8 591.8 649.7 593.8C653.7 595.8 656.3 597.2 659.8 598.8C663.3 600.5 668.8 603 670.6 603.9"/>
<path stroke="#b47ae6" d="M484.5 609.9C486.9 610.2 493.5 610.6 498.6 611.6C503.8 612.5 510.4 614.2 515.4 615.6C520.5 617 525.5 619.1 528.9 620C532.2 620.8 533.1 620.9 535.6 620.7C538.1 620.4 541.2 620 544 618.3C546.8 616.6 549.3 613.5 552.4 610.6C555.5 607.6 559.1 602.9 562.4 600.5C565.8 598.1 569.9 597 572.5 596.1C575.1 595.3 574 595.5 577.9 595.5C581.8 595.5 589.6 595.9 596 596.1C602.4 596.4 610.7 596.7 616.2 597.2C621.7 597.6 624.5 598 628.9 598.8C633.4 599.7 639 600.5 643 602.2C647.1 603.9 649.7 607.7 653.1 608.9C656.5 610.1 660.3 609.4 663.2 609.6C666.1 609.7 669.3 609.9 670.6 609.9"/>
<path stroke="#3cb371" d="M484.5 666C486.9 666 493.5 665.9 498.6 666C503.8 666.1 509.3 666.7 515.4 666.7C521.6 666.7 530 666.5 535.6 666C541.2 665.5 544.5 664.4 549 663.6C553.5 662.9 557.6 662.3 562.4 661.6C567.3 660.9 573.4 659.4 577.9 659.3C582.4 659.2 585.2 660.2 589.3 660.9C593.4 661.7 598.3 662.8 602.7 663.6C607.2 664.5 611.8 665.3 616.2 666C620.5 666.7 624.5 667.4 628.9 667.7C633.4 667.9 638.4 667.8 643 667.7C647.6 667.6 651.9 667 656.5 667C661 667 668.2 667.6 670.6 667.7"/>
<path stroke="#2b6fd8" d="M484.5 671C486.9 670.9 493.5 670.7 498.6 670.4C503.8 670 509.3 669 515.4 668.7C521.6 668.3 530 668.6 535.6 668.3C541.2 668.1 544.5 667.5 549 667C553.5 666.5 557.6 665.8 562.4 665.3C567.3 664.9 573.4 664.2 577.9 664.3C582.4 664.4 585.2 665.3 589.3 666C593.4 666.7 598.3 667.6 602.7 668.3C607.2 669.1 611.8 670.2 616.2 670.4C620.5 670.5 624.5 669.3 628.9 669.3C633.4 669.3 638.4 670 643 670.4C647.6 670.7 651.9 671.3 656.5 671.7C661 672.1 668.2 672.5 670.6 672.7"/>
<path stroke="#f04848" d="M484.5 675.1C486.9 674.9 493.5 674.8 498.6 674.4C503.8 674 509.3 673.4 515.4 672.7C521.6 672 530 670.1 535.6 670.4C541.2 670.6 544.5 673.3 549 674.4C553.5 675.4 557.6 676.3 562.4 676.7C567.3 677.2 573.4 677.3 577.9 677.1C582.4 676.8 585.2 676.1 589.3 675.4C593.4 674.7 598.3 673.4 602.7 672.7C607.2 672 611.8 671.4 616.2 671C620.5 670.6 624.5 670.2 628.9 670.4C633.4 670.5 638.4 671.1 643 671.7C647.6 672.3 651.9 673.1 656.5 673.7C661 674.3 668.2 674.8 670.6 675.1"/>
<path stroke="#555555" d="M484.5 677.1C486.9 677.5 493.5 678.9 498.6 679.4C503.8 680 509.3 680.3 515.4 680.4C521.6 680.6 530 680.6 535.6 680.4C541.2 680.3 544.5 679.8 549 679.4C553.5 679.1 557.6 677.8 562.4 678.4C567.3 679 573.4 682.5 577.9 682.8C582.4 683.1 585.2 680.9 589.3 680.1C593.4 679.2 598.3 678.3 602.7 677.7C607.2 677.2 611.8 676.6 616.2 676.7C620.5 676.9 624.5 678.6 628.9 678.7C633.4 678.9 638.4 678 643 677.7C647.6 677.5 651.9 677.1 656.5 677.1C661 677.1 668.2 677.6 670.6 677.7"/>
<path stroke="#7cc41e" d="M484.5 683.8C486.9 683.6 493.5 682.8 498.6 682.8C503.8 682.7 509.3 683.2 515.4 683.4C521.6 683.7 530 684.6 535.6 684.5C541.2 684.3 544.5 683.2 549 682.8C553.5 682.3 557.6 682 562.4 681.8C567.3 681.5 573.4 681.5 577.9 681.1C582.4 680.7 585.2 680 589.3 679.4C593.4 678.9 598.3 678 602.7 677.7C607.2 677.5 611.8 677.5 616.2 677.7C620.5 678 624.5 678.7 628.9 679.4C633.4 680.1 638.4 681.2 643 681.8C647.6 682.3 651.9 682.5 656.5 682.8C661 683.1 668.2 683.3 670.6 683.4"/>
<path stroke="#6a9cda" d="M484.5 685.1C486.9 685.5 493.5 686.7 498.6 687.1C503.8 687.6 509.3 687.7 515.4 687.8C521.6 687.9 530 687.9 535.6 687.8C541.2 687.7 544.5 686.9 549 687.1C553.5 687.4 557.6 688.3 562.4 689.5C567.3 690.7 573.4 694.2 577.9 694.5C582.4 694.8 585.2 692 589.3 691.2C593.4 690.3 598.3 690.2 602.7 689.5C607.2 688.8 611.8 688 616.2 687.1C620.5 686.3 624.5 684.7 628.9 684.5C633.4 684.2 638.4 685.2 643 685.5C647.6 685.7 651.9 685.7 656.5 686.1C661 686.5 668.2 687.5 670.6 687.8"/>
<path stroke="#ff7020" d="M484.5 687.8C486.9 688.1 493.5 688.9 498.6 689.5C503.8 690 509.3 690.5 515.4 691.2C521.6 691.8 530 693 535.6 693.5C541.2 694.1 544.5 694.2 549 694.5C553.5 694.8 557.6 695.1 562.4 695.2C567.3 695.3 573.4 695.4 577.9 695.2C582.4 695 585.2 694.4 589.3 693.9C593.4 693.3 598.3 692.6 602.7 691.8C607.2 691.1 611.8 690.4 616.2 689.5C620.5 688.5 624.5 687 628.9 686.1C633.4 685.3 638.4 684.6 643 684.5C647.6 684.3 651.9 684.6 656.5 685.1C661 685.7 668.2 687.4 670.6 687.8"/>
<path stroke="#9a9a1e" d="M484.5 689.5C486.9 689.8 493.5 690.7 498.6 691.2C503.8 691.6 509.3 691.9 515.4 692.2C521.6 692.5 530 692.9 535.6 692.8C541.2 692.8 544.5 691.8 549 691.8C553.5 691.8 557.6 692.5 562.4 692.8C567.3 693.2 573.4 693.5 577.9 693.9C582.4 694.2 585.7 694.5 589.3 695.2C592.9 695.9 597.7 697.4 599.4 697.9"/>
<path stroke="#9a9a1e" d="M498.6 697.9C501.4 697.2 509.3 694.8 515.4 693.9C521.6 692.9 532.2 692.5 535.6 692.2"/>
<path stroke="#9a9a1e" d="M602.7 697.9C605 696.8 611.8 692.8 616.2 691.2C620.5 689.5 624.5 688.1 628.9 687.8C633.4 687.5 638.4 688.9 643 689.5C647.6 690 651.9 690.3 656.5 691.2C661 692 668.2 694 670.6 694.5"/>
</g>
<line x1="535.6" y1="547.5" x2="535.6" y2="697.5" stroke="#3a3a3a" stroke-width="1"/>
<line x1="577.9" y1="547.5" x2="577.9" y2="697.5" stroke="#3a3a3a" stroke-width="1"/>
<line x1="628.9" y1="547.5" x2="628.9" y2="697.5" stroke="#3a3a3a" stroke-width="1"/>
<rect x="484.2" y="547.5" width="186.4" height="150" fill="none" stroke="#3a3a3a" stroke-width="1.05"/>
<line x1="484.2" y1="697.5" x2="487.2" y2="697.5" stroke="#333" stroke-width="1"/>
<line x1="484.2" y1="688.1" x2="486" y2="688.1" stroke="#333" stroke-width="1"/>
<line x1="484.2" y1="678.8" x2="487.2" y2="678.8" stroke="#333" stroke-width="1"/>
<line x1="484.2" y1="669.4" x2="486" y2="669.4" stroke="#333" stroke-width="1"/>
<line x1="484.2" y1="660" x2="487.2" y2="660" stroke="#333" stroke-width="1"/>
<line x1="484.2" y1="650.6" x2="486" y2="650.6" stroke="#333" stroke-width="1"/>
<line x1="484.2" y1="641.2" x2="487.2" y2="641.2" stroke="#333" stroke-width="1"/>
<line x1="484.2" y1="631.9" x2="486" y2="631.9" stroke="#333" stroke-width="1"/>
<line x1="484.2" y1="622.5" x2="487.2" y2="622.5" stroke="#333" stroke-width="1"/>
<line x1="484.2" y1="613.1" x2="486" y2="613.1" stroke="#333" stroke-width="1"/>
<line x1="484.2" y1="603.8" x2="487.2" y2="603.8" stroke="#333" stroke-width="1"/>
<line x1="484.2" y1="594.4" x2="486" y2="594.4" stroke="#333" stroke-width="1"/>
<line x1="484.2" y1="585" x2="487.2" y2="585" stroke="#333" stroke-width="1"/>
<line x1="484.2" y1="575.6" x2="486" y2="575.6" stroke="#333" stroke-width="1"/>
<line x1="484.2" y1="566.2" x2="487.2" y2="566.2" stroke="#333" stroke-width="1"/>
<line x1="484.2" y1="556.9" x2="486" y2="556.9" stroke="#333" stroke-width="1"/>
<line x1="484.2" y1="547.5" x2="487.2" y2="547.5" stroke="#333" stroke-width="1"/>
<line x1="484.2" y1="660.2" x2="670.6" y2="660.2" stroke="#000" stroke-width="1.5"/>
<line x1="484.2" y1="659.2" x2="670.6" y2="659.2" stroke="#000" stroke-width="1.2" stroke-dasharray="7.5 6.5"/>
<line x1="535.6" y1="666" x2="535.6" y2="632.7" stroke="#0a0aff" stroke-width="2.2"/>
<path d="M535.6 623.7 L532.3 633.7 L535.6 633.1 L538.9 633.7 Z" fill="#0a0aff"/>
<ellipse cx="535.6" cy="620.7" rx="4.3" ry="3.5" fill="#11c811"/>
<ellipse cx="577.9" cy="658.3" rx="4.3" ry="3.5" fill="#f00"/>
<text x="579.5" y="543.7" font-family="Liberation Serif" font-weight="bold" font-size="9.5" text-anchor="middle" fill="#111">RbSnSe<tspan font-size="7" dy="1.7">3</tspan></text>
<text transform="translate(471.6 616.5) rotate(-90)" font-family="Liberation Serif" font-weight="bold" font-size="12.6" text-anchor="middle" fill="#111">Energy (eV)</text>
<text transform="translate(481.9 700.1) scale(0.88 1)" font-family="Liberation Sans" font-weight="bold" font-size="8.2" text-anchor="end" fill="#111">-2</text>
<text transform="translate(481.9 681.4) scale(0.88 1)" font-family="Liberation Sans" font-weight="bold" font-size="8.2" text-anchor="end" fill="#111">-1</text>
<text transform="translate(481.9 662.6) scale(0.88 1)" font-family="Liberation Sans" font-weight="bold" font-size="8.2" text-anchor="end" fill="#111">0</text>
<text transform="translate(481.9 643.9) scale(0.88 1)" font-family="Liberation Sans" font-weight="bold" font-size="8.2" text-anchor="end" fill="#111">1</text>
<text transform="translate(481.9 625.1) scale(0.88 1)" font-family="Liberation Sans" font-weight="bold" font-size="8.2" text-anchor="end" fill="#111">2</text>
<text transform="translate(481.9 606.4) scale(0.88 1)" font-family="Liberation Sans" font-weight="bold" font-size="8.2" text-anchor="end" fill="#111">3</text>
<text transform="translate(481.9 587.6) scale(0.88 1)" font-family="Liberation Sans" font-weight="bold" font-size="8.2" text-anchor="end" fill="#111">4</text>
<text transform="translate(481.9 568.9) scale(0.88 1)" font-family="Liberation Sans" font-weight="bold" font-size="8.2" text-anchor="end" fill="#111">5</text>
<text transform="translate(481.9 550.1) scale(0.88 1)" font-family="Liberation Sans" font-weight="bold" font-size="8.2" text-anchor="end" fill="#111">6</text>
<text x="486.8" y="705" font-family="Liberation Sans" font-weight="bold" font-size="8" text-anchor="middle" fill="#111">G</text>
<text x="535.6" y="705" font-family="Liberation Sans" font-weight="bold" font-size="8" text-anchor="middle" fill="#111">F</text>
<text x="577.9" y="705" font-family="Liberation Sans" font-weight="bold" font-size="8" text-anchor="middle" fill="#111">Q</text>
<text x="628.9" y="705" font-family="Liberation Sans" font-weight="bold" font-size="8" text-anchor="middle" fill="#111">Z</text>
<text x="667.6" y="705" font-family="Liberation Sans" font-weight="bold" font-size="8" text-anchor="middle" fill="#111">G</text>
<text x="671.3" y="663.2" font-family="Liberation Serif" font-weight="bold" font-size="9.5" fill="#111">E<tspan dx="-0.4" font-weight="normal" font-style="italic" font-size="7" dy="2.2">f</tspan></text>
<clipPath id="cp13"><rect x="26.2" y="724.5" width="185.3" height="150.1"/></clipPath>
<g clip-path="url(#cp13)" fill="none" stroke-width="1.8" stroke-linejoin="round" stroke-linecap="round">
<path stroke="#7cc41e" d="M26.2 726.3C28 726.5 33.5 727.5 36.9 727.3C40.4 727.1 45.3 725.4 47 725"/>
<path stroke="#7cc41e" d="M201.5 726.3 L211.5 726.3"/>
<path stroke="#6a9cda" d="M26.2 729C28 729.1 32.9 729.7 36.9 729.7C41 729.7 45.9 728.8 50.4 729C54.8 729.2 59.9 730.2 63.8 730.7C67.7 731.1 70 731.9 73.9 731.7C77.8 731.5 83.4 730.4 87.3 729.7C91.2 728.9 94 728.2 97.4 727.3C100.7 726.4 105.8 724.8 107.4 724.3"/>
<path stroke="#6a9cda" d="M181.3 724.3C183.6 724.8 190.8 726.4 194.7 727.3C198.7 728.2 202 729.1 204.8 729.7C207.6 730.2 210.4 730.5 211.5 730.7"/>
<path stroke="#ff7020" d="M26.2 735C28 734.9 32.9 734.1 36.9 734C41 734 45.9 734.9 50.4 734.7C54.8 734.5 59.9 733.4 63.8 733C67.7 732.6 70 732.6 73.9 732.4C77.8 732.1 82.8 732.4 87.3 731.7C91.8 731 96.3 729.3 100.7 728.3C105.2 727.3 110.8 726.3 114.2 725.6C117.5 725 119.8 724.5 120.9 724.3"/>
<path stroke="#ff7020" d="M174.6 724.3C176.3 724.8 181.3 726.3 184.7 727.3C188 728.4 190.3 729.4 194.7 730.7C199.2 732 208.7 734.3 211.5 735"/>
<path stroke="#9a9a1e" d="M26.2 738.4C28 738.2 32.9 737.4 36.9 737.4C41 737.4 45.9 737.7 50.4 738.4C54.8 739.1 59.9 740.8 63.8 741.8C67.7 742.7 70 744.4 73.9 744.1C77.8 743.8 82.8 741.6 87.3 740.1C91.8 738.6 96.8 736.3 100.7 735C104.6 733.8 107.7 733 110.8 732.4C113.9 731.7 116.4 731.6 119.2 731.4C122 731.1 124.5 731.4 127.6 730.7C130.7 730 134.3 727.6 137.7 727.3C141 727 144.4 728.2 147.7 729C151.1 729.8 154.6 731.4 157.8 732.4C161.1 733.4 163.9 735 167.2 735C170.6 735 174.5 733.3 178 732.4C181.4 731.5 184.7 729.6 188 729.7C191.4 729.8 194.2 731.6 198.1 733C202 734.5 209.3 737.5 211.5 738.4"/>
<path stroke="#9a9a1e" d="M120.9 729.7C122.3 729.3 126.5 728.4 129.3 727.7C132.1 726.9 136.3 725.4 137.7 725"/>
<path stroke="#7a4c4c" d="M26.2 739.1C28 739.4 32.9 740.1 36.9 740.8C41 741.4 45.9 742.3 50.4 743.1C54.8 743.9 59.9 745.1 63.8 745.8C67.7 746.5 70 747.6 73.9 747.5C77.8 747.4 82.8 746.5 87.3 745.1C91.8 743.7 96.8 740.4 100.7 739.1C104.6 737.8 107.7 737.8 110.8 737.4C113.9 737 115.3 736.7 119.2 736.7C123.1 736.7 129 737.2 134.3 737.4C139.6 737.6 145.6 738 151.1 738.1C156.6 738.2 162.2 738.2 167.2 738.1C172.2 738 176.7 737.4 181.3 737.4C185.9 737.4 189.7 737.8 194.7 738.1C199.8 738.3 208.7 738.9 211.5 739.1"/>
<path stroke="#1fc8cc" d="M26.2 744.1C28.5 744.1 35.7 743.7 40.3 744.1C44.9 744.5 49.2 745.2 53.7 746.5C58.2 747.8 63.8 750.7 67.2 751.8C70.5 753 70.5 753.6 73.9 753.2C77.2 752.7 82.8 750.5 87.3 749.1C91.8 747.8 96.8 745.6 100.7 745.1C104.6 744.7 107.7 745.7 110.8 746.5C113.9 747.2 116.4 749.4 119.2 749.8C122 750.3 124 749.9 127.6 749.1C131.2 748.4 136.5 746.4 141 745.1C145.5 743.9 150.1 742.6 154.5 741.8C158.8 740.9 163.3 740.3 167.2 740.1C171.1 739.9 174.5 740.3 178 740.8C181.4 741.3 184.1 742.7 188 743.1C191.9 743.6 197.5 743.3 201.5 743.4C205.4 743.6 209.9 744 211.5 744.1"/>
<path stroke="#d4a020" d="M26.2 765.9C28 765.5 32.9 764.1 36.9 763.3C41 762.4 45.9 761.4 50.4 760.9C54.8 760.4 59.9 760.2 63.8 760.2C67.7 760.2 70 760.8 73.9 760.9C77.8 761 82.8 761.5 87.3 760.9C91.8 760.3 96.8 758.7 100.7 757.5C104.6 756.4 107.7 755 110.8 754.2C113.9 753.3 115.3 752.8 119.2 752.5C123.1 752.2 129.5 752.5 134.3 752.5C139.1 752.5 143.8 752.4 147.7 752.5C151.7 752.6 154.6 753 157.8 753.2C161.1 753.3 163.9 753.5 167.2 753.5C170.6 753.5 174.5 752.8 178 753.2C181.4 753.6 184.7 754.6 188 755.9C191.4 757.2 194.2 759.2 198.1 760.9C202 762.6 209.3 765.1 211.5 765.9"/>
<path stroke="#b47ae6" d="M26.2 772C28.5 772.4 35.7 773.5 40.3 774.3C44.9 775.1 49.2 776.1 53.7 776.7C58.2 777.2 63.8 777.5 67.2 777.7C70.5 777.9 70.5 777.9 73.9 777.7C77.2 777.5 82.8 777.2 87.3 776.7C91.8 776.1 96.8 775.1 100.7 774.3C104.6 773.5 107.7 772.5 110.8 772C113.9 771.4 115.3 771.3 119.2 771C123.1 770.7 129.5 771 134.3 770.3C139.1 769.6 143.8 768.1 147.7 766.9C151.7 765.8 154.6 764.1 157.8 763.3C161.1 762.4 163.9 761.1 167.2 761.6C170.6 762 174.5 764.1 178 765.9C181.4 767.8 184.7 771.3 188 772.7C191.4 774.1 194.2 774.4 198.1 774.3C202 774.2 209.3 772.4 211.5 772"/>
<path stroke="#3cb371" d="M26.2 785.1C28.5 785.4 35.7 786.1 40.3 787.1C44.9 788.1 49.2 789.7 53.7 791.1C58.2 792.5 63.8 794.6 67.2 795.5C70.5 796.3 71.1 796.4 73.9 796.2C76.7 795.9 80.6 795.3 83.9 793.8C87.3 792.3 90.7 789.6 94 787.1C97.4 784.6 100.7 780.7 104.1 778.7C107.4 776.7 110.8 776.1 114.2 775.3C117.5 774.6 119.8 774.3 124.2 774.3C128.7 774.3 135.4 775.1 141 775.3C146.6 775.6 153.4 775.8 157.8 776C162.2 776.2 163.3 776.2 167.2 776.7C171.1 777.1 176.7 778 181.3 778.7C185.9 779.4 189.7 779.9 194.7 781C199.8 782.2 208.7 784.7 211.5 785.4"/>
<path stroke="#2b6fd8" d="M26.2 842.2C28.5 842.3 35.1 842.8 40.3 843.2C45.4 843.5 51.5 843.9 57.1 844.2C62.7 844.5 68.8 845 73.9 844.8C78.9 844.7 82.8 843.8 87.3 843.2C91.8 842.5 96.8 841.5 100.7 840.8C104.6 840.1 107.7 839.4 110.8 839.1C113.9 838.9 116.4 838.9 119.2 839.1C122 839.4 124 840 127.6 840.8C131.2 841.7 136.5 843.3 141 844.2C145.5 845 150.1 845.5 154.5 845.9C158.8 846.2 162.7 846.6 167.2 846.5C171.7 846.5 177 845.6 181.3 845.5C185.6 845.4 189.7 846.2 193.1 845.9C196.4 845.5 198.4 843.9 201.5 843.2C204.5 842.4 209.9 841.8 211.5 841.5"/>
<path stroke="#f04848" d="M26.2 853.2C28 852.8 32.9 851.6 36.9 850.9C41 850.2 45.9 849.7 50.4 849.2C54.8 848.8 59.9 848.5 63.8 848.2C67.7 847.9 70 847.9 73.9 847.5C77.8 847.1 82.8 846.3 87.3 845.9C91.8 845.4 96.8 845.1 100.7 844.8C104.6 844.6 107.7 844.3 110.8 844.2C113.9 844.1 115.3 844.2 119.2 844.2C123.1 844.2 129.5 843.9 134.3 844.2C139.1 844.5 143.3 845.3 147.7 845.9C152.2 846.4 157.9 846.8 161.2 847.2C164.4 847.6 163.9 847.9 167.2 848.2C170.6 848.5 176.7 848.8 181.3 849.2C185.9 849.6 189.7 850 194.7 850.6C199.8 851.1 208.7 852 211.5 852.2"/>
<path stroke="#555555" d="M26.2 851.6C28.5 851.7 35.1 852.7 40.3 852.6C45.4 852.4 51.5 851.1 57.1 850.6C62.7 850 68.8 849.4 73.9 849.2C78.9 849 82.8 848.9 87.3 849.2C91.8 849.5 95.4 850.7 100.7 850.9C106 851.1 113.6 850.6 119.2 850.6C124.8 850.6 129.5 850.6 134.3 850.9C139.1 851.2 143.3 851.7 147.7 852.2C152.2 852.8 157.9 853.7 161.2 854.2C164.4 854.8 163.9 855.3 167.2 855.6C170.6 855.9 176.7 856 181.3 855.9C185.9 855.8 189.7 855.4 194.7 854.9C199.8 854.5 208.7 853.5 211.5 853.2"/>
<path stroke="#7cc41e" d="M26.2 854.2C29.1 854.5 37.9 855.4 43.6 855.6C49.4 855.8 55.4 855.6 60.4 855.6C65.5 855.6 70 855.8 73.9 855.6C77.8 855.4 80.9 854.8 83.9 854.2C87 853.7 89.5 852 92.3 852.2C95.1 852.5 97.7 855 100.7 855.9C103.8 856.8 107.7 857.2 110.8 857.6C113.9 858 115.3 858.3 119.2 858.3C123.1 858.2 129.5 857.7 134.3 857.3C139.1 856.9 143.3 856.4 147.7 855.9C152.2 855.4 157.9 854.5 161.2 854.2C164.4 854 163.9 854.4 167.2 854.2C170.6 854.1 176.7 853.6 181.3 853.2C185.9 852.9 189.7 852.2 194.7 852.2C199.8 852.2 208.7 853.1 211.5 853.2"/>
<path stroke="#6a9cda" d="M26.2 854.9C28.5 855 35.1 855.3 40.3 855.6C45.4 855.9 51.5 856.3 57.1 856.6C62.7 856.9 68.8 857 73.9 857.3C78.9 857.5 82.8 857.9 87.3 858.3C91.8 858.6 96.8 858.6 100.7 859.3C104.6 860 107.7 861.4 110.8 862.3C113.9 863.3 116.4 864.8 119.2 865C122 865.2 124 864.1 127.6 863.3C131.2 862.5 136.5 860.8 141 860C145.5 859.1 150.1 858.6 154.5 858.3C158.8 858 162.7 858.7 167.2 858.3C171.7 857.9 176.7 856.6 181.3 855.9C185.9 855.3 189.7 854.4 194.7 854.2C199.8 854.1 208.7 854.8 211.5 854.9"/>
<path stroke="#ff7020" d="M26.2 861C29.1 861 37.9 860.7 43.6 861C49.4 861.2 55.4 861.9 60.4 862.3C65.5 862.7 69.4 863 73.9 863.3C78.3 863.6 82.8 863.9 87.3 864.3C91.8 864.8 96.8 865.5 100.7 866C104.6 866.5 107.7 867.1 110.8 867.3C113.9 867.6 115.3 867.8 119.2 867.7C123.1 867.6 129.5 867.1 134.3 866.7C139.1 866.2 143.3 865.7 147.7 865C152.2 864.3 157.9 863 161.2 862.3C164.4 861.6 163.9 861.2 167.2 861C170.6 860.7 176.7 860.8 181.3 861C185.9 861.1 189.7 861.4 194.7 861.6C199.8 861.9 208.7 862.2 211.5 862.3"/>
<path stroke="#9a9a1e" d="M26.2 864C28.5 864.3 35.1 865.4 40.3 866C45.4 866.6 51.5 866.9 57.1 867.3C62.7 867.7 68.8 867.9 73.9 868.3C78.9 868.8 82.8 869.6 87.3 870C91.8 870.5 95.4 870.8 100.7 871C106 871.3 113.6 871.7 119.2 871.7C124.8 871.7 129.5 871.3 134.3 871C139.1 870.8 143.3 870.4 147.7 870C152.2 869.7 157.9 869.3 161.2 869C164.4 868.7 163.9 868.9 167.2 868.3C170.6 867.8 176.7 866.4 181.3 866C185.9 865.5 189.7 865.8 194.7 865.7C199.8 865.5 208.7 865.1 211.5 865"/>
<path stroke="#7a4c4c" d="M26.2 870C28.5 870.3 35.1 871.3 40.3 871.7C45.4 872.1 51.5 872.3 57.1 872.4C62.7 872.5 68.8 872.2 73.9 872.4C78.9 872.5 82.8 873.1 87.3 873.4C91.8 873.7 95.4 873.7 100.7 874.1C106 874.4 116.1 875.5 119.2 875.7"/>
<path stroke="#7a4c4c" d="M157.8 875.7C159.4 875 163.3 871.7 167.2 871C171.1 870.4 176.7 871.5 181.3 871.7C185.9 871.9 189.7 872.5 194.7 872.4C199.8 872.3 208.7 871.3 211.5 871"/>
</g>
<line x1="73.9" y1="724.5" x2="73.9" y2="874.6" stroke="#3a3a3a" stroke-width="1"/>
<line x1="119.2" y1="724.5" x2="119.2" y2="874.6" stroke="#3a3a3a" stroke-width="1"/>
<line x1="167.2" y1="724.5" x2="167.2" y2="874.6" stroke="#3a3a3a" stroke-width="1"/>
<rect x="26.2" y="724.5" width="185.3" height="150.1" fill="none" stroke="#3a3a3a" stroke-width="1.05"/>
<line x1="26.2" y1="874.6" x2="29.2" y2="874.6" stroke="#333" stroke-width="1"/>
<line x1="26.2" y1="865.2" x2="28" y2="865.2" stroke="#333" stroke-width="1"/>
<line x1="26.2" y1="855.8" x2="29.2" y2="855.8" stroke="#333" stroke-width="1"/>
<line x1="26.2" y1="846.5" x2="28" y2="846.5" stroke="#333" stroke-width="1"/>
<line x1="26.2" y1="837.1" x2="29.2" y2="837.1" stroke="#333" stroke-width="1"/>
<line x1="26.2" y1="827.7" x2="28" y2="827.7" stroke="#333" stroke-width="1"/>
<line x1="26.2" y1="818.3" x2="29.2" y2="818.3" stroke="#333" stroke-width="1"/>
<line x1="26.2" y1="808.9" x2="28" y2="808.9" stroke="#333" stroke-width="1"/>
<line x1="26.2" y1="799.5" x2="29.2" y2="799.5" stroke="#333" stroke-width="1"/>
<line x1="26.2" y1="790.2" x2="28" y2="790.2" stroke="#333" stroke-width="1"/>
<line x1="26.2" y1="780.8" x2="29.2" y2="780.8" stroke="#333" stroke-width="1"/>
<line x1="26.2" y1="771.4" x2="28" y2="771.4" stroke="#333" stroke-width="1"/>
<line x1="26.2" y1="762" x2="29.2" y2="762" stroke="#333" stroke-width="1"/>
<line x1="26.2" y1="752.6" x2="28" y2="752.6" stroke="#333" stroke-width="1"/>
<line x1="26.2" y1="743.3" x2="29.2" y2="743.3" stroke="#333" stroke-width="1"/>
<line x1="26.2" y1="733.9" x2="28" y2="733.9" stroke="#333" stroke-width="1"/>
<line x1="26.2" y1="724.5" x2="29.2" y2="724.5" stroke="#333" stroke-width="1"/>
<line x1="26.2" y1="837.3" x2="211.5" y2="837.3" stroke="#000" stroke-width="1.5"/>
<line x1="26.2" y1="836.3" x2="211.5" y2="836.3" stroke="#000" stroke-width="1.2" stroke-dasharray="7.5 6.5"/>
<line x1="73.9" y1="842.7" x2="73.9" y2="803.5" stroke="#0a0aff" stroke-width="1.9"/>
<path d="M73.9 798 L71.6 804.5 L73.9 803.9 L76.2 804.5 Z" fill="#0a0aff"/>
<ellipse cx="73.9" cy="795" rx="4.3" ry="3.5" fill="#11c811"/>
<ellipse cx="119.2" cy="837.6" rx="4.3" ry="3.5" fill="#f00"/>
<text x="119.2" y="721" font-family="Liberation Serif" font-weight="bold" font-size="9.5" text-anchor="middle" fill="#111">CsSiSe<tspan font-size="7" dy="1.7">3</tspan></text>
<text transform="translate(10.9 794.2) rotate(-90)" font-family="Liberation Serif" font-weight="bold" font-size="12.6" text-anchor="middle" fill="#111">Energy (eV)</text>
<text transform="translate(22.8 877.2) scale(0.88 1)" font-family="Liberation Sans" font-weight="bold" font-size="8.2" text-anchor="end" fill="#111">-2</text>
<text transform="translate(22.8 858.4) scale(0.88 1)" font-family="Liberation Sans" font-weight="bold" font-size="8.2" text-anchor="end" fill="#111">-1</text>
<text transform="translate(22.8 839.7) scale(0.88 1)" font-family="Liberation Sans" font-weight="bold" font-size="8.2" text-anchor="end" fill="#111">0</text>
<text transform="translate(22.8 820.9) scale(0.88 1)" font-family="Liberation Sans" font-weight="bold" font-size="8.2" text-anchor="end" fill="#111">1</text>
<text transform="translate(22.8 802.1) scale(0.88 1)" font-family="Liberation Sans" font-weight="bold" font-size="8.2" text-anchor="end" fill="#111">2</text>
<text transform="translate(22.8 783.4) scale(0.88 1)" font-family="Liberation Sans" font-weight="bold" font-size="8.2" text-anchor="end" fill="#111">3</text>
<text transform="translate(22.8 764.6) scale(0.88 1)" font-family="Liberation Sans" font-weight="bold" font-size="8.2" text-anchor="end" fill="#111">4</text>
<text transform="translate(22.8 745.9) scale(0.88 1)" font-family="Liberation Sans" font-weight="bold" font-size="8.2" text-anchor="end" fill="#111">5</text>
<text transform="translate(22.8 727.1) scale(0.88 1)" font-family="Liberation Sans" font-weight="bold" font-size="8.2" text-anchor="end" fill="#111">6</text>
<text x="28.8" y="882.3" font-family="Liberation Sans" font-weight="bold" font-size="8" text-anchor="middle" fill="#111">G</text>
<text x="73.9" y="882.3" font-family="Liberation Sans" font-weight="bold" font-size="8" text-anchor="middle" fill="#111">F</text>
<text x="119.2" y="882.3" font-family="Liberation Sans" font-weight="bold" font-size="8" text-anchor="middle" fill="#111">Q</text>
<text x="167.2" y="882.3" font-family="Liberation Sans" font-weight="bold" font-size="8" text-anchor="middle" fill="#111">Z</text>
<text x="208.5" y="882.3" font-family="Liberation Sans" font-weight="bold" font-size="8" text-anchor="middle" fill="#111">G</text>
<text x="212.2" y="840.3" font-family="Liberation Serif" font-weight="bold" font-size="9.5" fill="#111">E<tspan dx="-0.4" font-weight="normal" font-style="italic" font-size="7" dy="2.2">f</tspan></text>
<clipPath id="cp14"><rect x="263.6" y="723.5" width="184.7" height="149.4"/></clipPath>
<g clip-path="url(#cp14)" fill="none" stroke-width="1.8" stroke-linejoin="round" stroke-linecap="round">
<path stroke="#7cc41e" d="M263.6 725.1C265.6 725.3 270.6 725.8 275.4 725.8C280.1 725.8 287.1 725.4 292.2 725.1C297.2 724.9 301.9 724.5 305.6 724.1C309.2 723.7 312.6 723 314 722.8"/>
<path stroke="#7cc41e" d="M321.7 722.8C323.2 723.9 327.9 727.6 330.8 729.2C333.6 730.8 336 732.5 338.8 732.5C341.6 732.5 344.8 730.5 347.6 729.2C350.3 727.9 351.6 725.1 355.3 724.8C358.9 724.5 364.8 726.5 369.4 727.2C374 727.8 379.2 729.6 382.8 728.8C386.4 728.1 389.5 723.8 390.9 722.8"/>
<path stroke="#7cc41e" d="M413 724.1C415.3 724.3 422 724.9 426.5 725.1C430.9 725.4 436.3 725.9 439.9 725.8C443.5 725.7 446.9 724.7 448.3 724.5"/>
<path stroke="#6a9cda" d="M263.6 730.2C265.6 730.3 270.6 730.9 275.4 730.9C280.1 730.9 287.1 730.6 292.2 730.2C297.2 729.8 301.9 728.9 305.6 728.5C309.2 728.1 311.2 727.6 314 727.8C316.8 728.1 319.3 729.1 322.4 730.2C325.5 731.3 329.1 733.5 332.4 734.5C335.8 735.6 338.6 735.8 342.5 736.2C346.4 736.6 352 737.1 355.9 736.9C359.9 736.7 362.1 736.1 366 735.2C369.9 734.4 375 733 379.5 731.9C383.9 730.7 388.3 729 392.9 728.5C397.5 728.1 402.5 728.9 407 729.2C411.5 729.5 415.4 729.8 419.7 730.2C424.1 730.5 428.4 731.2 433.2 731.2C437.9 731.2 445.8 730.4 448.3 730.2"/>
<path stroke="#ff7020" d="M263.6 734.5C265.6 734.5 270.6 734.3 275.4 734.2C280.1 734.2 287.1 734.2 292.2 734.2C297.2 734.3 301.9 734.4 305.6 734.5C309.2 734.7 310.6 735 314 735.2C317.3 735.4 321.5 735.6 325.7 735.9C329.9 736.2 334.1 736.6 339.2 736.9C344.2 737.2 351.5 737.6 355.9 737.9C360.4 738.2 362.1 738.7 366 738.6C369.9 738.4 375 737.9 379.5 736.9C383.9 735.9 388.3 733.9 392.9 732.5C397.5 731.1 403.1 728.9 407 728.5C410.9 728.1 413.4 728.9 416.4 730.2C419.4 731.5 422 735 424.8 736.2C427.6 737.5 430.7 738 433.2 737.6C435.7 737.1 437.4 734 439.9 733.5C442.4 733 446.9 734.4 448.3 734.5"/>
<path stroke="#9a9a1e" d="M263.6 742.6C265.6 741.9 271.2 739.5 275.4 738.6C279.6 737.6 284.3 737.3 288.8 736.9C293.3 736.5 298 736.2 302.2 736.2C306.4 736.2 310.1 736.2 314 736.9C317.9 737.6 321.5 739.3 325.7 740.3C329.9 741.2 334.1 741.9 339.2 742.6C344.2 743.3 351.5 744.3 355.9 744.6C360.4 745 362.1 744.7 366 744.6C369.9 744.6 375 744.3 379.5 744.3C383.9 744.3 388.3 744.3 392.9 744.6C397.5 745 402.5 746.5 407 746.3C411.5 746.1 415.4 744.3 419.7 743.6C424.1 742.9 428.4 742.1 433.2 741.9C437.9 741.8 445.8 742.5 448.3 742.6"/>
<path stroke="#7a4c4c" d="M263.6 754.4C265.6 754.2 271.2 754.4 275.4 753.7C279.6 753 284.3 751.7 288.8 750.3C293.3 748.9 298 746.3 302.2 745.3C306.4 744.3 310.1 744.4 314 744.3C317.9 744.2 322.1 743.6 325.7 744.6C329.4 745.6 332.4 748.5 335.8 750.3C339.2 752.1 342.5 754.1 345.9 755.4C349.2 756.7 352.6 757.8 355.9 758.1C359.3 758.3 362.1 757.7 366 757C369.9 756.4 375 755.2 379.5 754.4C383.9 753.5 388.3 752.8 392.9 752C397.5 751.2 402.5 749.6 407 749.3C411.5 749 415.4 749.9 419.7 750.3C424.1 750.8 428.4 751.3 433.2 752C437.9 752.7 445.8 754 448.3 754.4"/>
<path stroke="#1fc8cc" d="M263.6 765.4C265.6 765.4 271.2 765.7 275.4 765.4C279.6 765.2 284.3 764.5 288.8 763.8C293.3 763 298 761.7 302.2 761.1C306.4 760.4 310.1 759.7 314 759.7C317.9 759.8 321.5 760.6 325.7 761.4C329.9 762.2 334.1 763.8 339.2 764.8C344.2 765.7 351.5 767 355.9 767.1C360.4 767.2 362.1 766.3 366 765.4C369.9 764.6 375 763.2 379.5 762.1C383.9 761 388.3 759.8 392.9 758.7C397.5 757.6 402.5 755.6 407 755.4C411.5 755.1 415.4 756 419.7 757C424.1 758.1 428.4 760 433.2 761.4C437.9 762.8 445.8 764.8 448.3 765.4"/>
<path stroke="#d4a020" d="M263.6 770.5C265.6 770.6 271.2 771 275.4 771.5C279.6 771.9 284.3 772.5 288.8 773.2C293.3 773.8 298 775 302.2 775.5C306.4 776.1 310.1 776.4 314 776.5C317.9 776.6 321.5 776.5 325.7 776.2C329.9 775.9 334.1 775.3 339.2 774.8C344.2 774.3 351.5 773.6 355.9 773.2C360.4 772.7 362.1 772.8 366 772.2C369.9 771.5 375 770.3 379.5 769.5C383.9 768.6 388.3 767.9 392.9 767.1C397.5 766.3 402.5 764.9 407 764.8C411.5 764.7 415.4 765.8 419.7 766.4C424.1 767.1 428.4 768.1 433.2 768.8C437.9 769.5 445.8 770.2 448.3 770.5"/>
<path stroke="#b47ae6" d="M263.6 789.6C265.6 788.9 271.2 787.4 275.4 785.6C279.6 783.8 284.3 780.4 288.8 778.9C293.3 777.4 298 777 302.2 776.5C306.4 776.1 310.1 776.2 314 776.2C317.9 776.1 322.1 776 325.7 776.2C329.4 776.4 332.4 776.2 335.8 777.2C339.2 778.2 342.5 780.5 345.9 782.2C349.2 783.9 352.6 786.5 355.9 787.3C359.3 788 362.1 787.2 366 786.6C369.9 786 375 784.7 379.5 783.9C383.9 783.1 388.3 781.7 392.9 781.6C397.5 781.4 403.1 783.7 407 783.2C410.9 782.8 413.1 779.5 416.4 778.9C419.6 778.3 423.1 778.1 426.5 779.5C429.8 780.9 432.9 785.6 436.5 787.3C440.2 788.9 446.3 789.2 448.3 789.6"/>
<path stroke="#3cb371" d="M263.6 794C265.6 794.4 271.2 795.3 275.4 796.3C279.6 797.3 284.3 798.6 288.8 800C293.3 801.5 298 803.8 302.2 805.1C306.4 806.3 310.1 807.2 314 807.4C317.9 807.6 321.5 807.2 325.7 806.4C329.9 805.6 335.2 803.9 339.2 802.4C343.1 800.9 346.4 798.7 349.2 797.3C352 795.9 353.2 794.6 355.9 794C358.7 793.3 362.1 793.7 366 793.3C369.9 792.9 375 792.5 379.5 791.6C383.9 790.8 388.3 789.4 392.9 788.3C397.5 787.2 403.1 784.8 407 784.9C410.9 785 413.1 787.7 416.4 788.9C419.6 790.2 423.1 791.5 426.5 792.3C429.8 793.1 432.9 793.7 436.5 794C440.2 794.3 446.3 794 448.3 794"/>
<path stroke="#2b6fd8" d="M263.6 841C265.6 841.1 270.6 841.5 275.4 841.7C280.1 841.8 285.7 841.9 292.2 842C298.6 842 308.9 842.4 314 842C319 841.5 318.7 840 322.4 839.3C326 838.6 330.2 837.9 335.8 837.6C341.4 837.3 350.4 837.7 355.9 837.6C361.5 837.5 364.3 837.2 369.4 837C374.4 836.7 381.1 836.2 386.2 835.9C391.2 835.7 396.1 835.5 399.6 835.3C403.1 835.1 404.2 834.3 407 834.6C409.8 834.9 413.1 835.9 416.4 837C419.6 838 422.5 839.9 426.5 841C430.4 842.1 436.3 843.1 439.9 843.7C443.5 844.2 446.9 844.2 448.3 844.3"/>
<path stroke="#f04848" d="M263.6 844.3C265.6 844.6 270.6 845.5 275.4 846C280.1 846.6 287.1 847.3 292.2 847.7C297.2 848.1 301.9 848.4 305.6 848.7C309.2 849 311.2 849.4 314 849.4C316.8 849.4 319.3 848.3 322.4 848.7C325.5 849.2 329.6 852 332.4 852.1C335.2 852.2 336.9 850.4 339.2 849.4C341.4 848.4 343.1 846.7 345.9 846C348.7 845.4 352.6 845.4 355.9 845.4C359.3 845.4 362.1 845.6 366 846C369.9 846.4 375 847.1 379.5 847.7C383.9 848.3 388.3 848.8 392.9 849.4C397.5 849.9 402.5 850.9 407 851.1C411.5 851.2 415.9 850.9 419.7 850.1C423.5 849.2 426.5 847.1 429.8 846C433.2 844.9 436.8 843.9 439.9 843.3C443 842.8 446.9 842.8 448.3 842.7"/>
<path stroke="#555555" d="M263.6 847C265.6 847.3 270.6 847.6 275.4 848.4C280.1 849.2 287.1 850.4 292.2 851.7C297.2 853 301.9 855.1 305.6 856.1C309.2 857.1 310.6 857.8 314 857.8C317.3 857.8 321.5 856.9 325.7 856.1C329.9 855.3 334.1 854.1 339.2 852.7C344.2 851.3 351.5 848.4 355.9 847.7C360.4 847 362.1 848.1 366 848.7C369.9 849.3 375 850.6 379.5 851.1C383.9 851.6 388.3 851.6 392.9 851.7C397.5 851.9 402.5 852.1 407 852.1C411.5 852.1 415.4 852 419.7 851.7C424.1 851.5 428.4 851.1 433.2 850.4C437.9 849.7 445.8 848.1 448.3 847.7"/>
<path stroke="#7cc41e" d="M263.6 859.5C265.6 859.3 270.6 858.9 275.4 858.8C280.1 858.7 287.1 858.6 292.2 858.8C297.2 859 301.9 859.7 305.6 860.1C309.2 860.5 310.6 861.1 314 861.1C317.3 861.1 321.5 860.5 325.7 860.1C329.9 859.7 334.1 859.2 339.2 858.8C344.2 858.4 350.9 858.1 355.9 857.8C361 857.4 364.3 857 369.4 856.8C374.4 856.5 381.1 856.4 386.2 856.1C391.2 855.8 396.1 855.6 399.6 855.1C403.1 854.5 403.6 852.5 407 852.7C410.3 853 415.4 855.8 419.7 856.8C424.1 857.7 428.4 858 433.2 858.4C437.9 858.9 445.8 859.3 448.3 859.5"/>
<path stroke="#6a9cda" d="M263.6 860.1C265.6 860.5 270.6 861.1 275.4 862.1C280.1 863.1 287.1 864.7 292.2 866.2C297.2 867.7 301.9 870.1 305.6 871.2C309.2 872.3 312.6 872.6 314 872.9"/>
<path stroke="#6a9cda" d="M324.1 872.9C326 871.8 332.2 868.4 335.8 866.2C339.4 863.9 342.5 860.7 345.9 859.5C349.2 858.2 352 858.8 355.9 858.8C359.9 858.8 364.3 859.6 369.4 859.5C374.4 859.3 381.1 858.3 386.2 857.8C391.2 857.2 396.1 856.4 399.6 856.1C403.1 855.8 404.2 855.8 407 856.1C409.8 856.4 413.1 857.1 416.4 857.8C419.6 858.4 422.5 859.7 426.5 860.1C430.4 860.5 436.3 860.2 439.9 860.1C443.5 860 446.9 859.6 448.3 859.5"/>
<path stroke="#ff7020" d="M263.6 868.9C265.6 869 270.6 869.2 275.4 869.5C280.1 869.8 287.7 870 292.2 870.5C296.6 871.1 300.5 872.5 302.2 872.9"/>
<path stroke="#ff7020" d="M386.2 872.9C387.3 871.9 389.4 868.4 392.9 867.2C396.4 865.9 403.1 865.5 407 865.5C410.9 865.5 413.1 867.1 416.4 867.2C419.6 867.3 422.5 866.1 426.5 866.2C430.4 866.3 436.3 867.4 439.9 867.8C443.5 868.3 446.9 868.7 448.3 868.9"/>
</g>
<line x1="314" y1="723.5" x2="314" y2="872.9" stroke="#3a3a3a" stroke-width="1"/>
<line x1="356" y1="723.5" x2="356" y2="872.9" stroke="#3a3a3a" stroke-width="1"/>
<line x1="407" y1="723.5" x2="407" y2="872.9" stroke="#3a3a3a" stroke-width="1"/>
<rect x="263.6" y="723.5" width="184.7" height="149.4" fill="none" stroke="#3a3a3a" stroke-width="1.05"/>
<line x1="263.6" y1="872.9" x2="266.6" y2="872.9" stroke="#333" stroke-width="1"/>
<line x1="263.6" y1="863.6" x2="265.4" y2="863.6" stroke="#333" stroke-width="1"/>
<line x1="263.6" y1="854.2" x2="266.6" y2="854.2" stroke="#333" stroke-width="1"/>
<line x1="263.6" y1="844.9" x2="265.4" y2="844.9" stroke="#333" stroke-width="1"/>
<line x1="263.6" y1="835.5" x2="266.6" y2="835.5" stroke="#333" stroke-width="1"/>
<line x1="263.6" y1="826.2" x2="265.4" y2="826.2" stroke="#333" stroke-width="1"/>
<line x1="263.6" y1="816.9" x2="266.6" y2="816.9" stroke="#333" stroke-width="1"/>
<line x1="263.6" y1="807.5" x2="265.4" y2="807.5" stroke="#333" stroke-width="1"/>
<line x1="263.6" y1="798.2" x2="266.6" y2="798.2" stroke="#333" stroke-width="1"/>
<line x1="263.6" y1="788.9" x2="265.4" y2="788.9" stroke="#333" stroke-width="1"/>
<line x1="263.6" y1="779.5" x2="266.6" y2="779.5" stroke="#333" stroke-width="1"/>
<line x1="263.6" y1="770.2" x2="265.4" y2="770.2" stroke="#333" stroke-width="1"/>
<line x1="263.6" y1="760.9" x2="266.6" y2="760.9" stroke="#333" stroke-width="1"/>
<line x1="263.6" y1="751.5" x2="265.4" y2="751.5" stroke="#333" stroke-width="1"/>
<line x1="263.6" y1="742.2" x2="266.6" y2="742.2" stroke="#333" stroke-width="1"/>
<line x1="263.6" y1="732.8" x2="265.4" y2="732.8" stroke="#333" stroke-width="1"/>
<line x1="263.6" y1="723.5" x2="266.6" y2="723.5" stroke="#333" stroke-width="1"/>
<line x1="263.6" y1="835.8" x2="448.3" y2="835.8" stroke="#000" stroke-width="1.5"/>
<line x1="263.6" y1="834.8" x2="448.3" y2="834.8" stroke="#000" stroke-width="1.2" stroke-dasharray="7.5 6.5"/>
<line x1="314" y1="842" x2="314" y2="820.1" stroke="#0a0aff" stroke-width="2.2"/>
<path d="M314 811.1 L310.7 821.1 L314 820.5 L317.3 821.1 Z" fill="#0a0aff"/>
<ellipse cx="314" cy="808.1" rx="4.3" ry="3.5" fill="#11c811"/>
<ellipse cx="406.3" cy="833.3" rx="4.3" ry="3.5" fill="#f00"/>
<text x="363.6" y="719" font-family="Liberation Serif" font-weight="bold" font-size="9.5" text-anchor="middle" fill="#111">CsGeSe<tspan font-size="7" dy="1.7">3</tspan></text>
<text transform="translate(247.6 792.5) rotate(-90)" font-family="Liberation Serif" font-weight="bold" font-size="12.6" text-anchor="middle" fill="#111">Energy (eV)</text>
<text transform="translate(259.6 875.5) scale(0.88 1)" font-family="Liberation Sans" font-weight="bold" font-size="8.2" text-anchor="end" fill="#111">-2</text>
<text transform="translate(259.6 856.8) scale(0.88 1)" font-family="Liberation Sans" font-weight="bold" font-size="8.2" text-anchor="end" fill="#111">-1</text>
<text transform="translate(259.6 838.1) scale(0.88 1)" font-family="Liberation Sans" font-weight="bold" font-size="8.2" text-anchor="end" fill="#111">0</text>
<text transform="translate(259.6 819.5) scale(0.88 1)" font-family="Liberation Sans" font-weight="bold" font-size="8.2" text-anchor="end" fill="#111">1</text>
<text transform="translate(259.6 800.8) scale(0.88 1)" font-family="Liberation Sans" font-weight="bold" font-size="8.2" text-anchor="end" fill="#111">2</text>
<text transform="translate(259.6 782.1) scale(0.88 1)" font-family="Liberation Sans" font-weight="bold" font-size="8.2" text-anchor="end" fill="#111">3</text>
<text transform="translate(259.6 763.5) scale(0.88 1)" font-family="Liberation Sans" font-weight="bold" font-size="8.2" text-anchor="end" fill="#111">4</text>
<text transform="translate(259.6 744.8) scale(0.88 1)" font-family="Liberation Sans" font-weight="bold" font-size="8.2" text-anchor="end" fill="#111">5</text>
<text transform="translate(259.6 726.1) scale(0.88 1)" font-family="Liberation Sans" font-weight="bold" font-size="8.2" text-anchor="end" fill="#111">6</text>
<text x="266.2" y="880.6" font-family="Liberation Sans" font-weight="bold" font-size="8" text-anchor="middle" fill="#111">G</text>
<text x="314" y="880.6" font-family="Liberation Sans" font-weight="bold" font-size="8" text-anchor="middle" fill="#111">F</text>
<text x="356" y="880.6" font-family="Liberation Sans" font-weight="bold" font-size="8" text-anchor="middle" fill="#111">Q</text>
<text x="407" y="880.6" font-family="Liberation Sans" font-weight="bold" font-size="8" text-anchor="middle" fill="#111">Z</text>
<text x="445.3" y="880.6" font-family="Liberation Sans" font-weight="bold" font-size="8" text-anchor="middle" fill="#111">G</text>
<text x="449" y="838.8" font-family="Liberation Serif" font-weight="bold" font-size="9.5" fill="#111">E<tspan dx="-0.4" font-weight="normal" font-style="italic" font-size="7" dy="2.2">f</tspan></text>
<clipPath id="cp15"><rect x="483.7" y="724.5" width="185.5" height="150.3"/></clipPath>
<g clip-path="url(#cp15)" fill="none" stroke-width="1.8" stroke-linejoin="round" stroke-linecap="round">
<path stroke="#ff7020" d="M484.5 730.2C485.8 729.8 489.6 728.2 491.9 727.8C494.3 727.4 495.3 727.3 498.6 727.8C502 728.4 508.2 730.6 512.1 731.2C516 731.7 518.7 731.4 522.2 731.2C525.6 731 529 730.2 532.9 730.2C536.8 730.2 540.7 731 545.7 731.2C550.6 731.4 557.3 731.5 562.4 731.2C567.6 730.9 572.1 729.6 576.5 729.2C581 728.7 584.9 728.7 589.3 728.5C593.7 728.3 598.3 727.9 602.7 727.8C607.2 727.7 612.1 727.8 616.2 727.8C620.2 727.8 622.4 727.7 626.9 727.8C631.4 727.9 638.1 728.4 643 728.5C648 728.6 652.1 728.2 656.5 728.5C660.8 728.8 667.1 729.9 669.2 730.2"/>
<path stroke="#9a9a1e" d="M484.5 734.5C486.3 734.9 491.3 735.9 495.3 736.9C499.3 737.8 504.2 739.2 508.7 740.3C513.2 741.3 518.1 742.4 522.2 742.9C526.2 743.5 529 743.7 532.9 743.6C536.8 743.6 541.3 743.4 545.7 742.6C550 741.8 555.2 739.8 559.1 738.6C563 737.3 566.3 735.9 569.2 735.2C572.1 734.5 573.2 734.9 576.5 734.5C579.9 734.2 584.9 733.9 589.3 732.9C593.7 731.9 598.8 728.8 602.7 728.5C606.7 728.2 608.8 730.7 612.8 731.2C616.8 731.6 622.4 731.4 626.9 731.2C631.4 731 635.3 729.8 639.7 730.2C644 730.6 648.2 732.8 653.1 733.5C658 734.3 666.5 734.4 669.2 734.5"/>
<path stroke="#7a4c4c" d="M484.5 740.3C486.3 740.4 491.3 740.8 495.3 741.3C499.3 741.7 504.2 742.1 508.7 742.9C513.2 743.8 518.1 745.2 522.2 746.3C526.2 747.4 529.5 749.3 532.9 749.7C536.3 750 538.5 749.9 542.3 748.6C546.1 747.4 551.3 743.9 555.7 741.9C560.2 740 565.7 737.9 569.2 736.9C572.6 735.9 573.2 736.3 576.5 735.9C579.9 735.5 584.9 734.8 589.3 734.5C593.7 734.3 598.3 734.2 602.7 734.2C607.2 734.2 612.1 734.2 616.2 734.5C620.2 734.9 623 735.7 626.9 736.2C630.8 736.7 634.7 737 639.7 737.6C644.6 738.1 651.5 739 656.5 739.6C661.4 740.2 667.1 741 669.2 741.3"/>
<path stroke="#1fc8cc" d="M484.5 744.3C486.3 743.9 491.3 741.5 495.3 741.9C499.3 742.4 504.2 745 508.7 747C513.2 748.9 518.1 752.2 522.2 753.7C526.2 755.2 529.5 755.9 532.9 756C536.3 756.2 538.5 755.8 542.3 754.7C546.1 753.6 551.3 751.8 555.7 749.7C560.2 747.5 565.7 742.7 569.2 741.9C572.6 741.2 573.2 744.5 576.5 745.3C579.9 746.1 585.5 746.6 589.3 747C593.1 747.4 595.5 747.8 599.4 747.6C603.3 747.5 608.2 746.7 612.8 746C617.4 745.2 622.4 743.7 626.9 742.9C631.4 742.2 635.9 741.7 639.7 741.3C643.5 740.8 646.4 740.1 649.7 740.3C653.1 740.4 656.6 741.4 659.8 741.9C663.1 742.5 667.7 743.3 669.2 743.6"/>
<path stroke="#d4a020" d="M484.5 770.5C486.3 770.4 491.3 770.2 495.3 769.8C499.3 769.4 504.2 768.9 508.7 768.1C513.2 767.4 518.1 766.1 522.2 765.4C526.2 764.8 529 764.7 532.9 764.4C536.8 764.2 541.3 764.3 545.7 763.8C550 763.2 555.2 762 559.1 761.1C563 760.1 566.3 758.9 569.2 758.1C572.1 757.2 573.2 756.4 576.5 756C579.9 755.7 584.9 755.9 589.3 756C593.7 756.2 598.3 756.8 602.7 757C607.2 757.3 612.1 757.5 616.2 757.7C620.2 757.9 623.6 758.6 626.9 758.1C630.3 757.5 633.1 754.6 636.3 754.7C639.6 754.8 643 756.9 646.4 758.7C649.7 760.5 653.7 763.6 656.5 765.4C659.3 767.3 661 769 663.2 769.8C665.3 770.6 668.2 770.4 669.2 770.5"/>
<path stroke="#b47ae6" d="M484.5 776.5C486.9 776.4 493.5 775.7 498.6 775.5C503.8 775.3 509.7 775.4 515.4 775.5C521.1 775.6 527.9 776.2 532.9 776.2C537.9 776.2 541.3 776 545.7 775.5C550 775 555.2 773.9 559.1 773.2C563 772.4 566.3 771.6 569.2 771.1C572.1 770.7 573.2 770.9 576.5 770.5C579.9 770.1 584.9 769.6 589.3 768.8C593.7 768 598.3 766.8 602.7 765.4C607.2 764 612.1 761.8 616.2 760.4C620.2 759 623.6 756.8 626.9 757C630.3 757.3 633.1 759.8 636.3 762.1C639.6 764.3 643 768.5 646.4 770.5C649.7 772.4 652.7 772.8 656.5 773.8C660.3 774.8 667.1 776.1 669.2 776.5"/>
<path stroke="#3cb371" d="M484.5 783.9C486.3 784.2 491.3 784.9 495.3 785.6C499.3 786.3 504.2 787.2 508.7 788.3C513.2 789.4 518.1 791.2 522.2 792.3C526.2 793.4 529.8 794.5 532.9 794.6C536 794.8 537.9 794.5 540.6 793.3C543.3 792.1 545.9 789.6 549 787.3C552.1 785 555.7 781.8 559.1 779.5C562.4 777.3 566.3 775.3 569.2 773.8C572.1 772.3 573.2 770.9 576.5 770.5C579.9 770.1 584.9 771 589.3 771.5C593.7 771.9 598.3 772.6 602.7 773.2C607.2 773.7 612.1 774.6 616.2 774.8C620.2 775.1 623.6 774.6 626.9 774.8C630.3 775.1 633.1 775.7 636.3 776.5C639.6 777.3 642.5 778.4 646.4 779.5C650.3 780.7 656 782.5 659.8 783.2C663.6 784 667.7 783.8 669.2 783.9"/>
<path stroke="#2b6fd8" d="M484.5 842C486.9 842.2 493.5 843.1 498.6 843.3C503.8 843.6 509.7 843.5 515.4 843.7C521.1 843.8 527.9 844.5 532.9 844.3C537.9 844.2 541.9 843.2 545.7 842.7C549.5 842.1 552.4 841.7 555.7 841C559.1 840.3 562.3 838.9 565.8 838.3C569.3 837.7 572.6 837.3 576.5 837.6C580.5 837.9 584.9 839.1 589.3 840C593.7 840.8 598.3 842 602.7 842.7C607.2 843.3 612.1 843.4 616.2 843.7C620.2 844 622.4 844.2 626.9 844.3C631.4 844.5 638.7 844.1 643 844.3C647.4 844.6 649.7 846.2 653.1 846C656.5 845.9 660.5 843.9 663.2 843.3C665.9 842.8 668.2 842.8 669.2 842.7"/>
<path stroke="#f04848" d="M484.5 847.7C486.9 847.5 493.5 847 498.6 846.7C503.8 846.4 509.7 846.1 515.4 846C521.1 845.9 527.9 846.1 532.9 846C537.9 845.9 541.9 845.6 545.7 845.4C549.5 845.1 551.8 844.6 555.7 844.3C559.6 844.1 565.7 843.8 569.2 843.7C572.6 843.6 573.2 843.7 576.5 843.7C579.9 843.7 584.9 843.7 589.3 843.7C593.7 843.7 598.3 843.6 602.7 843.7C607.2 843.8 612.1 844.2 616.2 844.3C620.2 844.5 622.4 844.2 626.9 844.3C631.4 844.5 638.1 845 643 845.4C648 845.7 652.1 846.3 656.5 846.7C660.8 847.1 667.1 847.5 669.2 847.7"/>
<path stroke="#555555" d="M484.5 850.1C486.9 850.2 493.5 851.2 498.6 851.1C503.8 850.9 509.7 849.8 515.4 849.4C521.1 849 527.9 848.6 532.9 848.7C537.9 848.8 541.3 849.6 545.7 850.1C550 850.5 553.9 851.1 559.1 851.4C564.2 851.7 571.5 851.7 576.5 851.7C581.6 851.8 584.9 851.7 589.3 851.7C593.7 851.7 598.3 852 602.7 851.7C607.2 851.5 612.1 850.7 616.2 850.4C620.2 850.1 622.4 850.2 626.9 850.1C631.4 849.9 638.1 849.4 643 849.4C648 849.4 652.1 849.9 656.5 850.1C660.8 850.2 667.1 850.3 669.2 850.4"/>
<path stroke="#7cc41e" d="M484.5 851.1C486.9 851.5 493.5 852.7 498.6 853.4C503.8 854.1 509.7 855 515.4 855.4C521.1 855.9 528.4 856.3 532.9 856.1C537.4 855.9 539.1 855.1 542.3 854.4C545.5 853.7 549 851.7 552.4 852.1C555.7 852.5 558.4 855.5 562.4 856.8C566.5 858 572.1 859.1 576.5 859.5C581 859.8 585.5 859.5 589.3 858.8C593.1 858.1 596 856.4 599.4 855.4C602.7 854.4 604.9 852.7 609.5 852.7C614 852.7 621.3 855.3 626.9 855.4C632.5 855.6 638.1 854.2 643 853.7C648 853.3 652.1 852.9 656.5 852.7C660.8 852.6 667.1 852.7 669.2 852.7"/>
<path stroke="#6a9cda" d="M484.5 853.4C486.9 853.6 493.5 854 498.6 854.4C503.8 854.9 509.7 855.6 515.4 856.1C521.1 856.5 527.9 856.8 532.9 857.1C537.9 857.4 541.3 857.5 545.7 857.8C550 858 553.9 857.9 559.1 858.4C564.2 859 571.5 860.9 576.5 861.1C581.6 861.4 584.9 860.7 589.3 860.1C593.7 859.6 598.3 858.4 602.7 857.8C607.2 857.1 612.1 856.4 616.2 856.1C620.2 855.8 622.4 856.2 626.9 856.1C631.4 856 638.1 855.3 643 855.4C648 855.5 652.1 856.4 656.5 856.8C660.8 857.2 667.1 857.6 669.2 857.8"/>
<path stroke="#9a9a1e" d="M484.5 857.8C486.9 857.9 493.5 858.2 498.6 858.4C503.8 858.7 509.7 859.1 515.4 859.5C521.1 859.8 527.9 860.3 532.9 860.5C537.9 860.6 541.3 860.3 545.7 860.1C550 860 553.9 859.7 559.1 859.5C564.2 859.2 571.5 859.1 576.5 858.8C581.6 858.5 584.9 858.1 589.3 857.8C593.7 857.4 598.3 857 602.7 856.8C607.2 856.5 612.1 855.9 616.2 856.1C620.2 856.3 622.4 857.9 626.9 857.8C631.4 857.6 638.1 855.4 643 855.1C648 854.8 652.1 855.6 656.5 856.1C660.8 856.5 667.1 857.5 669.2 857.8"/>
<path stroke="#ff7020" d="M484.5 860.5C486.9 860.6 493.5 861 498.6 861.1C503.8 861.2 509.7 861.1 515.4 861.1C521.1 861.1 527.9 860.9 532.9 861.1C537.9 861.4 541.3 862.3 545.7 862.8C550 863.4 553.9 863.9 559.1 864.5C564.2 865 571.5 866 576.5 866.2C581.6 866.3 584.9 866.1 589.3 865.5C593.7 864.9 598.3 863.5 602.7 862.8C607.2 862.1 612.1 861.8 616.2 861.1C620.2 860.5 622.4 858.9 626.9 858.8C631.4 858.6 638.1 859.7 643 860.1C648 860.5 652.1 861 656.5 861.1C660.8 861.3 667.1 861.1 669.2 861.1"/>
<path stroke="#9a9a1e" d="M484.5 861.1C486.9 861.7 493.5 863.8 498.6 864.5C503.8 865.2 509.7 865.2 515.4 865.5C521.1 865.8 527.9 865.9 532.9 866.2C537.9 866.4 541.3 866.9 545.7 867.2C550 867.5 553.9 867.7 559.1 867.8C564.2 868 571.5 868 576.5 867.8C581.6 867.7 584.9 867.2 589.3 866.8C593.7 866.4 598.3 866 602.7 865.5C607.2 865 612.1 864.3 616.2 863.8C620.2 863.4 622.4 863.1 626.9 862.8C631.4 862.5 638.1 862.4 643 862.1C648 861.9 652.1 861.3 656.5 861.1C660.8 861 667.1 861.1 669.2 861.1"/>
<path stroke="#7a4c4c" d="M484.5 871.9C486.9 871.8 493.5 871.3 498.6 871.2C503.8 871.1 509.7 871.5 515.4 871.2C521.1 870.9 528.4 869.4 532.9 869.5C537.4 869.6 538.5 870.9 542.3 871.9C546.1 872.8 553.5 874.7 555.7 875.2"/>
<path stroke="#7a4c4c" d="M596 875.2C599.4 873.6 611 867.4 616.2 865.5C621.3 863.6 623.6 863.7 626.9 863.8C630.3 863.9 632.5 865.2 636.3 866.2C640.1 867.1 644.3 868.6 649.7 869.5C655.2 870.5 666 871.5 669.2 871.9"/>
<path stroke="#1fc8cc" d="M488.6 875.2C490.3 874.7 495.3 872.6 498.6 872.2C502 871.8 505.9 872.4 508.7 872.9C511.5 873.4 514.3 874.8 515.4 875.2"/>
</g>
<line x1="532.9" y1="724.5" x2="532.9" y2="874.8" stroke="#3a3a3a" stroke-width="1"/>
<line x1="576.6" y1="724.5" x2="576.6" y2="874.8" stroke="#3a3a3a" stroke-width="1"/>
<line x1="626.9" y1="724.5" x2="626.9" y2="874.8" stroke="#3a3a3a" stroke-width="1"/>
<rect x="483.7" y="724.5" width="185.5" height="150.3" fill="none" stroke="#3a3a3a" stroke-width="1.05"/>
<line x1="483.7" y1="874.8" x2="486.7" y2="874.8" stroke="#333" stroke-width="1"/>
<line x1="483.7" y1="865.4" x2="485.5" y2="865.4" stroke="#333" stroke-width="1"/>
<line x1="483.7" y1="856" x2="486.7" y2="856" stroke="#333" stroke-width="1"/>
<line x1="483.7" y1="846.6" x2="485.5" y2="846.6" stroke="#333" stroke-width="1"/>
<line x1="483.7" y1="837.2" x2="486.7" y2="837.2" stroke="#333" stroke-width="1"/>
<line x1="483.7" y1="827.8" x2="485.5" y2="827.8" stroke="#333" stroke-width="1"/>
<line x1="483.7" y1="818.4" x2="486.7" y2="818.4" stroke="#333" stroke-width="1"/>
<line x1="483.7" y1="809" x2="485.5" y2="809" stroke="#333" stroke-width="1"/>
<line x1="483.7" y1="799.6" x2="486.7" y2="799.6" stroke="#333" stroke-width="1"/>
<line x1="483.7" y1="790.3" x2="485.5" y2="790.3" stroke="#333" stroke-width="1"/>
<line x1="483.7" y1="780.9" x2="486.7" y2="780.9" stroke="#333" stroke-width="1"/>
<line x1="483.7" y1="771.5" x2="485.5" y2="771.5" stroke="#333" stroke-width="1"/>
<line x1="483.7" y1="762.1" x2="486.7" y2="762.1" stroke="#333" stroke-width="1"/>
<line x1="483.7" y1="752.7" x2="485.5" y2="752.7" stroke="#333" stroke-width="1"/>
<line x1="483.7" y1="743.3" x2="486.7" y2="743.3" stroke="#333" stroke-width="1"/>
<line x1="483.7" y1="733.9" x2="485.5" y2="733.9" stroke="#333" stroke-width="1"/>
<line x1="483.7" y1="724.5" x2="486.7" y2="724.5" stroke="#333" stroke-width="1"/>
<line x1="483.7" y1="837.5" x2="669.2" y2="837.5" stroke="#000" stroke-width="1.5"/>
<line x1="483.7" y1="836.5" x2="669.2" y2="836.5" stroke="#000" stroke-width="1.2" stroke-dasharray="7.5 6.5"/>
<line x1="532.9" y1="844.3" x2="532.9" y2="804.5" stroke="#0a0aff" stroke-width="1.6"/>
<path d="M532.9 797 L530.3 805.5 L532.9 804.9 L535.5 805.5 Z" fill="#0a0aff"/>
<ellipse cx="532.9" cy="794" rx="4.3" ry="3.5" fill="#11c811"/>
<ellipse cx="576.5" cy="835.3" rx="4.3" ry="3.5" fill="#f00"/>
<text x="577.6" y="721" font-family="Liberation Serif" font-weight="bold" font-size="9.5" text-anchor="middle" fill="#111">CsSnSe<tspan font-size="7" dy="1.7">3</tspan></text>
<text transform="translate(468.8 794.3) rotate(-90)" font-family="Liberation Serif" font-weight="bold" font-size="12.6" text-anchor="middle" fill="#111">Energy (eV)</text>
<text transform="translate(481.9 877.4) scale(0.88 1)" font-family="Liberation Sans" font-weight="bold" font-size="8.2" text-anchor="end" fill="#111">-2</text>
<text transform="translate(481.9 858.6) scale(0.88 1)" font-family="Liberation Sans" font-weight="bold" font-size="8.2" text-anchor="end" fill="#111">-1</text>
<text transform="translate(481.9 839.8) scale(0.88 1)" font-family="Liberation Sans" font-weight="bold" font-size="8.2" text-anchor="end" fill="#111">0</text>
<text transform="translate(481.9 821) scale(0.88 1)" font-family="Liberation Sans" font-weight="bold" font-size="8.2" text-anchor="end" fill="#111">1</text>
<text transform="translate(481.9 802.2) scale(0.88 1)" font-family="Liberation Sans" font-weight="bold" font-size="8.2" text-anchor="end" fill="#111">2</text>
<text transform="translate(481.9 783.5) scale(0.88 1)" font-family="Liberation Sans" font-weight="bold" font-size="8.2" text-anchor="end" fill="#111">3</text>
<text transform="translate(481.9 764.7) scale(0.88 1)" font-family="Liberation Sans" font-weight="bold" font-size="8.2" text-anchor="end" fill="#111">4</text>
<text transform="translate(481.9 745.9) scale(0.88 1)" font-family="Liberation Sans" font-weight="bold" font-size="8.2" text-anchor="end" fill="#111">5</text>
<text transform="translate(481.9 727.1) scale(0.88 1)" font-family="Liberation Sans" font-weight="bold" font-size="8.2" text-anchor="end" fill="#111">6</text>
<text x="486.3" y="882.3" font-family="Liberation Sans" font-weight="bold" font-size="8" text-anchor="middle" fill="#111">G</text>
<text x="532.9" y="882.3" font-family="Liberation Sans" font-weight="bold" font-size="8" text-anchor="middle" fill="#111">F</text>
<text x="576.6" y="882.3" font-family="Liberation Sans" font-weight="bold" font-size="8" text-anchor="middle" fill="#111">Q</text>
<text x="626.9" y="882.3" font-family="Liberation Sans" font-weight="bold" font-size="8" text-anchor="middle" fill="#111">Z</text>
<text x="666.2" y="882.3" font-family="Liberation Sans" font-weight="bold" font-size="8" text-anchor="middle" fill="#111">G</text>
<text x="669.9" y="840.4" font-family="Liberation Serif" font-weight="bold" font-size="9.5" fill="#111">E<tspan dx="-0.4" font-weight="normal" font-style="italic" font-size="7" dy="2.2">f</tspan></text>
</svg></body></html>
